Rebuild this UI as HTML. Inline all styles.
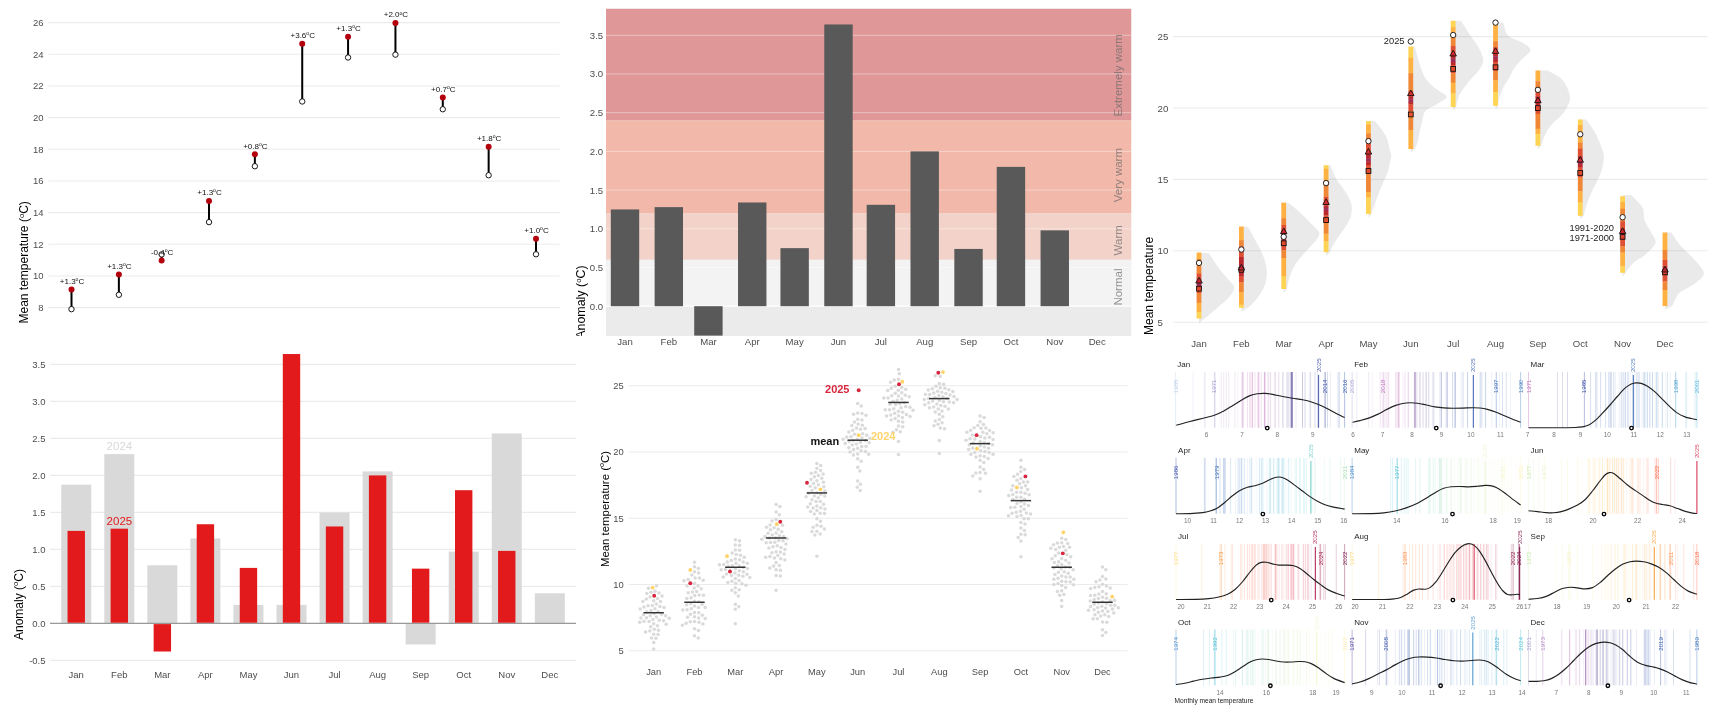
<!DOCTYPE html>
<html><head><meta charset="utf-8"><title>Monthly temperature charts</title>
<style>
html,body{margin:0;padding:0;background:#fff;}
body{width:1734px;height:720px;overflow:hidden;}
svg{display:block;font-family:"Liberation Sans", sans-serif;will-change:transform;}
</style></head><body>
<svg width="1734" height="720" viewBox="0 0 1734 720">
<rect width="1734" height="720" fill="#fff"/>
<g id="p1">
<line x1="48.4" x2="559.7" y1="307.6" y2="307.6" stroke="#EBEBEB" stroke-width="1.1"/>
<text x="43.5" y="311" font-size="9.5" fill="#4D4D4D" text-anchor="end">8</text>
<line x1="48.4" x2="559.7" y1="275.94" y2="275.94" stroke="#EBEBEB" stroke-width="1.1"/>
<text x="43.5" y="279.34" font-size="9.5" fill="#4D4D4D" text-anchor="end">10</text>
<line x1="48.4" x2="559.7" y1="244.28" y2="244.28" stroke="#EBEBEB" stroke-width="1.1"/>
<text x="43.5" y="247.68" font-size="9.5" fill="#4D4D4D" text-anchor="end">12</text>
<line x1="48.4" x2="559.7" y1="212.62" y2="212.62" stroke="#EBEBEB" stroke-width="1.1"/>
<text x="43.5" y="216.02" font-size="9.5" fill="#4D4D4D" text-anchor="end">14</text>
<line x1="48.4" x2="559.7" y1="180.96" y2="180.96" stroke="#EBEBEB" stroke-width="1.1"/>
<text x="43.5" y="184.36" font-size="9.5" fill="#4D4D4D" text-anchor="end">16</text>
<line x1="48.4" x2="559.7" y1="149.3" y2="149.3" stroke="#EBEBEB" stroke-width="1.1"/>
<text x="43.5" y="152.7" font-size="9.5" fill="#4D4D4D" text-anchor="end">18</text>
<line x1="48.4" x2="559.7" y1="117.64" y2="117.64" stroke="#EBEBEB" stroke-width="1.1"/>
<text x="43.5" y="121.04" font-size="9.5" fill="#4D4D4D" text-anchor="end">20</text>
<line x1="48.4" x2="559.7" y1="85.98" y2="85.98" stroke="#EBEBEB" stroke-width="1.1"/>
<text x="43.5" y="89.38" font-size="9.5" fill="#4D4D4D" text-anchor="end">22</text>
<line x1="48.4" x2="559.7" y1="54.32" y2="54.32" stroke="#EBEBEB" stroke-width="1.1"/>
<text x="43.5" y="57.72" font-size="9.5" fill="#4D4D4D" text-anchor="end">24</text>
<line x1="48.4" x2="559.7" y1="22.66" y2="22.66" stroke="#EBEBEB" stroke-width="1.1"/>
<text x="43.5" y="26.06" font-size="9.5" fill="#4D4D4D" text-anchor="end">26</text>
<text x="28.3" y="323.5" font-size="12" fill="#000" text-anchor="start" transform="rotate(-90 28.3 323.5)">Mean temperature (<tspan dy="-4.44" font-size="7.68">o</tspan><tspan dy="4.44">C</tspan>)</text>
<line x1="71.5" x2="71.5" y1="289.4" y2="309.18" stroke="#000" stroke-width="2"/>
<circle cx="71.5" cy="309.18" r="2.7" fill="#fff" stroke="#000" stroke-width="0.9"/>
<circle cx="71.5" cy="289.4" r="3" fill="#B3000C"/>
<text x="72" y="283.9" font-size="8" fill="#111" text-anchor="middle">+1.3<tspan dy="-2.96" font-size="5.12">o</tspan><tspan dy="2.96">C</tspan></text>
<line x1="118.87" x2="118.87" y1="274.52" y2="294.78" stroke="#000" stroke-width="2"/>
<circle cx="118.87" cy="294.78" r="2.7" fill="#fff" stroke="#000" stroke-width="0.9"/>
<circle cx="118.87" cy="274.52" r="3" fill="#B3000C"/>
<text x="119.37" y="269.02" font-size="8" fill="#111" text-anchor="middle">+1.3<tspan dy="-2.96" font-size="5.12">o</tspan><tspan dy="2.96">C</tspan></text>
<line x1="161.65" x2="161.65" y1="260.43" y2="254.41" stroke="#000" stroke-width="2"/>
<circle cx="161.65" cy="254.41" r="2.7" fill="#fff" stroke="#000" stroke-width="0.9"/>
<circle cx="161.65" cy="260.43" r="3" fill="#B3000C"/>
<text x="162.15" y="254.93" font-size="8" fill="#111" text-anchor="middle">-0.4<tspan dy="-2.96" font-size="5.12">o</tspan><tspan dy="2.96">C</tspan></text>
<line x1="209.02" x2="209.02" y1="200.91" y2="222.12" stroke="#000" stroke-width="2"/>
<circle cx="209.02" cy="222.12" r="2.7" fill="#fff" stroke="#000" stroke-width="0.9"/>
<circle cx="209.02" cy="200.91" r="3" fill="#B3000C"/>
<text x="209.52" y="195.41" font-size="8" fill="#111" text-anchor="middle">+1.3<tspan dy="-2.96" font-size="5.12">o</tspan><tspan dy="2.96">C</tspan></text>
<line x1="254.86" x2="254.86" y1="154.37" y2="166.24" stroke="#000" stroke-width="2"/>
<circle cx="254.86" cy="166.24" r="2.7" fill="#fff" stroke="#000" stroke-width="0.9"/>
<circle cx="254.86" cy="154.37" r="3" fill="#B3000C"/>
<text x="255.36" y="148.87" font-size="8" fill="#111" text-anchor="middle">+0.8<tspan dy="-2.96" font-size="5.12">o</tspan><tspan dy="2.96">C</tspan></text>
<line x1="302.23" x2="302.23" y1="43.87" y2="101.49" stroke="#000" stroke-width="2"/>
<circle cx="302.23" cy="101.49" r="2.7" fill="#fff" stroke="#000" stroke-width="0.9"/>
<circle cx="302.23" cy="43.87" r="3" fill="#B3000C"/>
<text x="302.73" y="38.37" font-size="8" fill="#111" text-anchor="middle">+3.6<tspan dy="-2.96" font-size="5.12">o</tspan><tspan dy="2.96">C</tspan></text>
<line x1="348.07" x2="348.07" y1="36.75" y2="57.49" stroke="#000" stroke-width="2"/>
<circle cx="348.07" cy="57.49" r="2.7" fill="#fff" stroke="#000" stroke-width="0.9"/>
<circle cx="348.07" cy="36.75" r="3" fill="#B3000C"/>
<text x="348.57" y="31.25" font-size="8" fill="#111" text-anchor="middle">+1.3<tspan dy="-2.96" font-size="5.12">o</tspan><tspan dy="2.96">C</tspan></text>
<line x1="395.44" x2="395.44" y1="22.98" y2="54.64" stroke="#000" stroke-width="2"/>
<circle cx="395.44" cy="54.64" r="2.7" fill="#fff" stroke="#000" stroke-width="0.9"/>
<circle cx="395.44" cy="22.98" r="3" fill="#B3000C"/>
<text x="395.94" y="17.48" font-size="8" fill="#111" text-anchor="middle">+2.0<tspan dy="-2.96" font-size="5.12">o</tspan><tspan dy="2.96">C</tspan></text>
<line x1="442.8" x2="442.8" y1="97.54" y2="109.25" stroke="#000" stroke-width="2"/>
<circle cx="442.8" cy="109.25" r="2.7" fill="#fff" stroke="#000" stroke-width="0.9"/>
<circle cx="442.8" cy="97.54" r="3" fill="#B3000C"/>
<text x="443.3" y="92.04" font-size="8" fill="#111" text-anchor="middle">+0.7<tspan dy="-2.96" font-size="5.12">o</tspan><tspan dy="2.96">C</tspan></text>
<line x1="488.64" x2="488.64" y1="146.77" y2="175.26" stroke="#000" stroke-width="2"/>
<circle cx="488.64" cy="175.26" r="2.7" fill="#fff" stroke="#000" stroke-width="0.9"/>
<circle cx="488.64" cy="146.77" r="3" fill="#B3000C"/>
<text x="489.14" y="141.27" font-size="8" fill="#111" text-anchor="middle">+1.8<tspan dy="-2.96" font-size="5.12">o</tspan><tspan dy="2.96">C</tspan></text>
<line x1="536.01" x2="536.01" y1="238.74" y2="254.25" stroke="#000" stroke-width="2"/>
<circle cx="536.01" cy="254.25" r="2.7" fill="#fff" stroke="#000" stroke-width="0.9"/>
<circle cx="536.01" cy="238.74" r="3" fill="#B3000C"/>
<text x="536.51" y="233.24" font-size="8" fill="#111" text-anchor="middle">+1.0<tspan dy="-2.96" font-size="5.12">o</tspan><tspan dy="2.96">C</tspan></text>
</g>
<g id="p2">
<rect x="606.0" y="8.8" width="525.2" height="327.2" fill="#EBEBEB"/>
<rect x="606.0" y="8.8" width="525.2" height="111.64" fill="#DF9798"/>
<rect x="606.0" y="120.44" width="525.2" height="92.88" fill="#F2B8AA"/>
<rect x="606.0" y="213.32" width="525.2" height="46.44" fill="#F3D3C9"/>
<rect x="606.0" y="259.76" width="525.2" height="46.44" fill="#F3F3F3"/>
<line x1="606.0" x2="1131.2" y1="306.2" y2="306.2" stroke="#fff" stroke-opacity="0.95" stroke-width="1.2"/>
<text x="603.2" y="309.6" font-size="9.6" fill="#4D4D4D" text-anchor="end">0.0</text>
<line x1="606.0" x2="1131.2" y1="267.5" y2="267.5" stroke="#fff" stroke-opacity="0.5" stroke-width="0.8"/>
<text x="603.2" y="270.9" font-size="9.6" fill="#4D4D4D" text-anchor="end">0.5</text>
<line x1="606.0" x2="1131.2" y1="228.8" y2="228.8" stroke="#fff" stroke-opacity="0.5" stroke-width="0.8"/>
<text x="603.2" y="232.2" font-size="9.6" fill="#4D4D4D" text-anchor="end">1.0</text>
<line x1="606.0" x2="1131.2" y1="190.1" y2="190.1" stroke="#fff" stroke-opacity="0.5" stroke-width="0.8"/>
<text x="603.2" y="193.5" font-size="9.6" fill="#4D4D4D" text-anchor="end">1.5</text>
<line x1="606.0" x2="1131.2" y1="151.4" y2="151.4" stroke="#fff" stroke-opacity="0.5" stroke-width="0.8"/>
<text x="603.2" y="154.8" font-size="9.6" fill="#4D4D4D" text-anchor="end">2.0</text>
<line x1="606.0" x2="1131.2" y1="112.7" y2="112.7" stroke="#fff" stroke-opacity="0.5" stroke-width="0.8"/>
<text x="603.2" y="116.1" font-size="9.6" fill="#4D4D4D" text-anchor="end">2.5</text>
<line x1="606.0" x2="1131.2" y1="74" y2="74" stroke="#fff" stroke-opacity="0.5" stroke-width="0.8"/>
<text x="603.2" y="77.4" font-size="9.6" fill="#4D4D4D" text-anchor="end">3.0</text>
<line x1="606.0" x2="1131.2" y1="35.3" y2="35.3" stroke="#fff" stroke-opacity="0.5" stroke-width="0.8"/>
<text x="603.2" y="38.7" font-size="9.6" fill="#4D4D4D" text-anchor="end">3.5</text>
<rect x="610.8" y="209.45" width="28.4" height="96.75" fill="#595959"/>
<rect x="654.62" y="207.13" width="28.4" height="99.07" fill="#595959"/>
<rect x="694.21" y="306.2" width="28.4" height="29.41" fill="#595959"/>
<rect x="738.03" y="202.48" width="28.4" height="103.72" fill="#595959"/>
<rect x="780.44" y="248.15" width="28.4" height="58.05" fill="#595959"/>
<rect x="824.27" y="24.46" width="28.4" height="281.74" fill="#595959"/>
<rect x="866.68" y="204.81" width="28.4" height="101.39" fill="#595959"/>
<rect x="910.5" y="151.4" width="28.4" height="154.8" fill="#595959"/>
<rect x="954.33" y="248.92" width="28.4" height="57.28" fill="#595959"/>
<rect x="996.74" y="166.88" width="28.4" height="139.32" fill="#595959"/>
<rect x="1040.56" y="230.35" width="28.4" height="75.85" fill="#595959"/>
<text x="625" y="345.3" font-size="9.6" fill="#4D4D4D" text-anchor="middle">Jan</text>
<text x="668.82" y="345.3" font-size="9.6" fill="#4D4D4D" text-anchor="middle">Feb</text>
<text x="708.41" y="345.3" font-size="9.6" fill="#4D4D4D" text-anchor="middle">Mar</text>
<text x="752.23" y="345.3" font-size="9.6" fill="#4D4D4D" text-anchor="middle">Apr</text>
<text x="794.64" y="345.3" font-size="9.6" fill="#4D4D4D" text-anchor="middle">May</text>
<text x="838.47" y="345.3" font-size="9.6" fill="#4D4D4D" text-anchor="middle">Jun</text>
<text x="880.88" y="345.3" font-size="9.6" fill="#4D4D4D" text-anchor="middle">Jul</text>
<text x="924.7" y="345.3" font-size="9.6" fill="#4D4D4D" text-anchor="middle">Aug</text>
<text x="968.53" y="345.3" font-size="9.6" fill="#4D4D4D" text-anchor="middle">Sep</text>
<text x="1010.94" y="345.3" font-size="9.6" fill="#4D4D4D" text-anchor="middle">Oct</text>
<text x="1054.76" y="345.3" font-size="9.6" fill="#4D4D4D" text-anchor="middle">Nov</text>
<text x="1097.18" y="345.3" font-size="9.6" fill="#4D4D4D" text-anchor="middle">Dec</text>
<text x="1122" y="116.5" font-size="11.5" fill="#6A6A6A" text-anchor="start" transform="rotate(-90 1122 116.5)" fill-opacity="0.7">Extremely warm</text>
<text x="1122" y="202.3" font-size="11.5" fill="#6A6A6A" text-anchor="start" transform="rotate(-90 1122 202.3)" fill-opacity="0.7">Very warm</text>
<text x="1122" y="255.4" font-size="11.5" fill="#6A6A6A" text-anchor="start" transform="rotate(-90 1122 255.4)" fill-opacity="0.7">Warm</text>
<text x="1122" y="305.6" font-size="11.5" fill="#6A6A6A" text-anchor="start" transform="rotate(-90 1122 305.6)" fill-opacity="0.7">Normal</text>
<clipPath id="c2"><rect x="570" y="0" width="36" height="335.8"/></clipPath>
<g clip-path="url(#c2)"><text x="585.2" y="338.8" font-size="12.45" fill="#000" text-anchor="start" transform="rotate(-90 585.2 338.8)">Anomaly (<tspan dy="-4.44" font-size="7.68">o</tspan><tspan dy="4.44">C</tspan>)</text></g>
</g>
<g id="p3">
<line x1="1173" x2="1707.5" y1="322.2" y2="322.2" stroke="#EBEBEB" stroke-width="1.1"/>
<text x="1157.6" y="325.7" font-size="9.7" fill="#4D4D4D" text-anchor="start">5</text>
<line x1="1173" x2="1707.5" y1="250.8" y2="250.8" stroke="#EBEBEB" stroke-width="1.1"/>
<text x="1157.6" y="254.3" font-size="9.7" fill="#4D4D4D" text-anchor="start">10</text>
<line x1="1173" x2="1707.5" y1="179.4" y2="179.4" stroke="#EBEBEB" stroke-width="1.1"/>
<text x="1157.6" y="182.9" font-size="9.7" fill="#4D4D4D" text-anchor="start">15</text>
<line x1="1173" x2="1707.5" y1="108" y2="108" stroke="#EBEBEB" stroke-width="1.1"/>
<text x="1157.6" y="111.5" font-size="9.7" fill="#4D4D4D" text-anchor="start">20</text>
<line x1="1173" x2="1707.5" y1="36.6" y2="36.6" stroke="#EBEBEB" stroke-width="1.1"/>
<text x="1157.6" y="40.1" font-size="9.7" fill="#4D4D4D" text-anchor="start">25</text>
<text x="1199" y="347.2" font-size="9.6" fill="#4D4D4D" text-anchor="middle">Jan</text>
<text x="1241.36" y="347.2" font-size="9.6" fill="#4D4D4D" text-anchor="middle">Feb</text>
<text x="1283.72" y="347.2" font-size="9.6" fill="#4D4D4D" text-anchor="middle">Mar</text>
<text x="1326.08" y="347.2" font-size="9.6" fill="#4D4D4D" text-anchor="middle">Apr</text>
<text x="1368.44" y="347.2" font-size="9.6" fill="#4D4D4D" text-anchor="middle">May</text>
<text x="1410.8" y="347.2" font-size="9.6" fill="#4D4D4D" text-anchor="middle">Jun</text>
<text x="1453.16" y="347.2" font-size="9.6" fill="#4D4D4D" text-anchor="middle">Jul</text>
<text x="1495.52" y="347.2" font-size="9.6" fill="#4D4D4D" text-anchor="middle">Aug</text>
<text x="1537.88" y="347.2" font-size="9.6" fill="#4D4D4D" text-anchor="middle">Sep</text>
<text x="1580.24" y="347.2" font-size="9.6" fill="#4D4D4D" text-anchor="middle">Oct</text>
<text x="1622.6" y="347.2" font-size="9.6" fill="#4D4D4D" text-anchor="middle">Nov</text>
<text x="1664.96" y="347.2" font-size="9.6" fill="#4D4D4D" text-anchor="middle">Dec</text>
<text x="1153" y="335" font-size="12" fill="#000" text-anchor="start" transform="rotate(-90 1153 335)">Mean temperature</text>
<path d="M1199 253L1208.75 253C1209.79 254.58 1212.92 259.46 1215 262.5C1217.08 265.54 1218.96 268.33 1221.25 271.25C1223.54 274.17 1226.67 277.5 1228.75 280C1230.83 282.5 1233.12 284.17 1233.75 286.25C1234.38 288.33 1233.75 290.21 1232.5 292.5C1231.25 294.79 1228.96 297.29 1226.25 300C1223.54 302.71 1219.38 306.04 1216.25 308.75C1213.12 311.46 1209.79 314.38 1207.5 316.25C1205.21 318.12 1203.33 319.38 1202.5 320L1199.6 323.5L1199 323.5Z" fill="#808080" fill-opacity="0.165"/>
<path d="M1241.36 226.75L1248 226.75C1248.96 228.54 1251.75 233.83 1253.75 237.5C1255.75 241.17 1258.12 244.79 1260 248.75C1261.88 252.71 1263.88 257.29 1265 261.25C1266.12 265.21 1266.75 268.54 1266.75 272.5C1266.75 276.46 1266.33 281.04 1265 285C1263.67 288.96 1261.04 292.92 1258.75 296.25C1256.46 299.58 1253.12 303.04 1251.25 305C1249.38 306.96 1248.12 307.5 1247.5 308L1241.96 311.5L1241.36 311.5Z" fill="#808080" fill-opacity="0.165"/>
<path d="M1283.72 203L1288.75 203C1290.62 204.58 1296.46 209.25 1300 212.5C1303.54 215.75 1307.08 219.58 1310 222.5C1312.92 225.42 1315.96 228.04 1317.5 230C1319.04 231.96 1319.46 232.58 1319.25 234.25C1319.04 235.92 1318.62 236.96 1316.25 240C1313.88 243.04 1308.54 248.33 1305 252.5C1301.46 256.67 1297.58 260.83 1295 265C1292.42 269.17 1290.83 273.54 1289.5 277.5C1288.17 281.46 1287.42 286.88 1287 288.75L1284.32 292.25L1283.72 292.25Z" fill="#808080" fill-opacity="0.165"/>
<path d="M1326.08 165.5L1330.5 165.5C1331.46 167.71 1334.25 175.08 1336.25 178.75C1338.25 182.42 1340.42 184.38 1342.5 187.5C1344.58 190.62 1347.21 194.38 1348.75 197.5C1350.29 200.62 1351.46 202.92 1351.75 206.25C1352.04 209.58 1351.62 213.96 1350.5 217.5C1349.38 221.04 1347.08 224.17 1345 227.5C1342.92 230.83 1340.08 234.38 1338 237.5C1335.92 240.62 1333.83 243.83 1332.5 246.25C1331.17 248.67 1330.42 251.04 1330 252L1326.68 255.5L1326.08 255.5Z" fill="#808080" fill-opacity="0.165"/>
<path d="M1368.44 121.12L1374.98 121.12C1376.79 123.62 1383.26 130.9 1385.81 136.1C1388.37 141.31 1389.42 149.04 1390.32 152.35C1391.23 155.66 1391.68 152.65 1391.23 155.96C1390.78 159.27 1389.27 167.09 1387.62 172.2C1385.96 177.32 1383.26 181.83 1381.3 186.64C1379.34 191.46 1377.54 196.57 1375.88 201.08C1374.23 205.6 1372.12 211.61 1371.37 213.72L1369.04 217.22L1368.44 217.22Z" fill="#808080" fill-opacity="0.165"/>
<path d="M1410.8 46.52L1414.79 46.52C1415.97 50.57 1419.52 64.82 1421.88 70.84C1424.24 76.86 1425.81 79.1 1428.96 82.64C1432.11 86.19 1437.82 89.65 1440.77 92.09C1443.72 94.53 1447.26 95.32 1446.67 97.28C1446.08 99.25 1440.77 101.61 1437.23 103.9C1433.68 106.18 1427.98 107.83 1425.42 110.98C1422.86 114.13 1422.86 119.24 1421.88 122.79C1420.89 126.33 1420.18 129.08 1419.52 132.23C1418.85 135.38 1418.65 138.92 1417.86 141.68C1417.08 144.43 1415.3 147.58 1414.79 148.76L1411.4 152.26L1410.8 152.26Z" fill="#808080" fill-opacity="0.165"/>
<path d="M1453.16 20.78L1460.84 20.78C1462.41 23.22 1467.33 31.01 1470.28 35.42C1473.23 39.83 1476.38 43.09 1478.55 47.23C1480.71 51.36 1483.27 56.28 1483.27 60.21C1483.27 64.15 1481.11 67.1 1478.55 70.84C1475.99 74.58 1471.07 78.71 1467.92 82.64C1464.77 86.58 1461.63 90.44 1459.66 94.45C1457.69 98.47 1456.71 104.68 1456.12 106.73L1453.76 110.23L1453.16 110.23Z" fill="#808080" fill-opacity="0.165"/>
<path d="M1495.52 22.43L1503.34 22.43C1504.13 24.6 1504.92 32.07 1508.06 35.42C1511.21 38.76 1518.49 40.06 1522.23 42.5C1525.97 44.94 1530.5 47.3 1530.5 50.06C1530.5 52.81 1524.99 55.96 1522.23 59.03C1519.48 62.1 1516.13 65.33 1513.97 68.48C1511.8 71.63 1511.02 74.77 1509.24 77.92C1507.47 81.07 1505.03 83.83 1503.34 87.37C1501.65 90.91 1499.96 96.14 1499.09 99.17C1498.23 102.2 1498.3 104.49 1498.15 105.55L1496.12 109.05L1495.52 109.05Z" fill="#808080" fill-opacity="0.165"/>
<path d="M1537.88 70.5L1547.5 70.5C1550 72.08 1558.75 75.5 1562.5 80C1566.25 84.5 1569.79 92.08 1570 97.5C1570.21 102.92 1566.88 107.92 1563.75 112.5C1560.62 117.08 1554.38 121.25 1551.25 125C1548.12 128.75 1546.67 131.58 1545 135C1543.33 138.42 1541.88 143.75 1541.25 145.5L1538.48 149L1537.88 149Z" fill="#808080" fill-opacity="0.165"/>
<path d="M1580.24 119.5L1586.25 119.5C1587.71 121.67 1592.29 127.42 1595 132.5C1597.71 137.58 1601.04 145.42 1602.5 150C1603.96 154.58 1604.17 155.83 1603.75 160C1603.33 164.17 1601.88 170 1600 175C1598.12 180 1594.58 185.42 1592.5 190C1590.42 194.58 1588.96 198.25 1587.5 202.5C1586.04 206.75 1584.38 213.33 1583.75 215.5L1580.84 219L1580.24 219Z" fill="#808080" fill-opacity="0.165"/>
<path d="M1622.6 195L1631.25 195C1633.12 197.08 1640.29 203.33 1642.5 207.5C1644.71 211.67 1643.04 215.83 1644.5 220C1645.96 224.17 1649.42 228.67 1651.25 232.5C1653.08 236.33 1656.54 239.25 1655.5 243C1654.46 246.75 1648.62 251.75 1645 255C1641.38 258.25 1636.96 259.58 1633.75 262.5C1630.54 265.42 1627.08 270.83 1625.75 272.5L1623.2 276L1622.6 276Z" fill="#808080" fill-opacity="0.165"/>
<path d="M1664.96 232.5L1671.25 232.5C1672.71 234.58 1676.46 240.83 1680 245C1683.54 249.17 1688.54 252.92 1692.5 257.5C1696.46 262.08 1703.12 268.33 1703.75 272.5C1704.38 276.67 1700.21 279.17 1696.25 282.5C1692.29 285.83 1683.54 289.58 1680 292.5C1676.46 295.42 1676.25 297.79 1675 300C1673.75 302.21 1672.92 304.79 1672.5 305.75L1665.56 309.25L1664.96 309.25Z" fill="#808080" fill-opacity="0.165"/>
<rect x="1196.6" y="252.57" width="4.8" height="6.71" fill="#ffb242"/>
<rect x="1196.6" y="258.99" width="4.8" height="14.87" fill="#ef8737"/>
<rect x="1196.6" y="273.56" width="4.8" height="5.16" fill="#de4f33"/>
<rect x="1196.6" y="278.42" width="4.8" height="4.77" fill="#bb292c"/>
<rect x="1196.6" y="282.89" width="4.8" height="3.6" fill="#9f2d55"/>
<rect x="1196.6" y="286.19" width="4.8" height="1.85" fill="#bb292c"/>
<rect x="1196.6" y="287.75" width="4.8" height="5.55" fill="#de4f33"/>
<rect x="1196.6" y="292.99" width="4.8" height="10.02" fill="#ef8737"/>
<rect x="1196.6" y="302.71" width="4.8" height="9.63" fill="#ffb242"/>
<rect x="1196.6" y="312.04" width="4.8" height="6.52" fill="#ffd353"/>
<rect x="1238.96" y="226.53" width="4.8" height="13.9" fill="#ffb242"/>
<rect x="1238.96" y="240.14" width="4.8" height="6.52" fill="#ef8737"/>
<rect x="1238.96" y="246.35" width="4.8" height="10.99" fill="#de4f33"/>
<rect x="1238.96" y="257.04" width="4.8" height="8.07" fill="#bb292c"/>
<rect x="1238.96" y="264.82" width="4.8" height="7.1" fill="#9f2d55"/>
<rect x="1238.96" y="271.62" width="4.8" height="5.16" fill="#bb292c"/>
<rect x="1238.96" y="276.47" width="4.8" height="6.13" fill="#de4f33"/>
<rect x="1238.96" y="282.3" width="4.8" height="10.02" fill="#ef8737"/>
<rect x="1238.96" y="292.02" width="4.8" height="12.93" fill="#ffb242"/>
<rect x="1238.96" y="304.65" width="4.8" height="3.21" fill="#ffd353"/>
<rect x="1281.32" y="202.63" width="4.8" height="15.85" fill="#ffb242"/>
<rect x="1281.32" y="218.18" width="4.8" height="7.1" fill="#ef8737"/>
<rect x="1281.32" y="224.98" width="4.8" height="5.16" fill="#de4f33"/>
<rect x="1281.32" y="229.84" width="4.8" height="4.19" fill="#bb292c"/>
<rect x="1281.32" y="233.72" width="4.8" height="4.19" fill="#9f2d55"/>
<rect x="1281.32" y="237.61" width="4.8" height="3.6" fill="#bb292c"/>
<rect x="1281.32" y="240.91" width="4.8" height="9.63" fill="#de4f33"/>
<rect x="1281.32" y="250.24" width="4.8" height="8.07" fill="#ef8737"/>
<rect x="1281.32" y="258.01" width="4.8" height="18.76" fill="#ffb242"/>
<rect x="1281.32" y="276.47" width="4.8" height="12.54" fill="#ffd353"/>
<rect x="1323.68" y="165.23" width="4.8" height="3.81" fill="#ffd353"/>
<rect x="1323.68" y="168.74" width="4.8" height="11.75" fill="#ffb242"/>
<rect x="1323.68" y="180.19" width="4.8" height="17.09" fill="#ef8737"/>
<rect x="1323.68" y="196.98" width="4.8" height="8.7" fill="#de4f33"/>
<rect x="1323.68" y="205.38" width="4.8" height="2.59" fill="#bb292c"/>
<rect x="1323.68" y="207.67" width="4.8" height="3.35" fill="#9f2d55"/>
<rect x="1323.68" y="210.73" width="4.8" height="4.88" fill="#bb292c"/>
<rect x="1323.68" y="215.31" width="4.8" height="7.93" fill="#de4f33"/>
<rect x="1323.68" y="222.94" width="4.8" height="10.99" fill="#ef8737"/>
<rect x="1323.68" y="233.63" width="4.8" height="7.93" fill="#ffb242"/>
<rect x="1323.68" y="241.26" width="4.8" height="10.99" fill="#ffd353"/>
<rect x="1366.04" y="121.12" width="4.8" height="3.55" fill="#ffd353"/>
<rect x="1366.04" y="124.37" width="4.8" height="9.33" fill="#ffb242"/>
<rect x="1366.04" y="133.39" width="4.8" height="5.72" fill="#ef8737"/>
<rect x="1366.04" y="138.81" width="4.8" height="15.64" fill="#de4f33"/>
<rect x="1366.04" y="154.15" width="4.8" height="4.27" fill="#bb292c"/>
<rect x="1366.04" y="158.12" width="4.8" height="3.55" fill="#9f2d55"/>
<rect x="1366.04" y="161.37" width="4.8" height="3.91" fill="#bb292c"/>
<rect x="1366.04" y="164.98" width="4.8" height="9.33" fill="#de4f33"/>
<rect x="1366.04" y="174.01" width="4.8" height="18.35" fill="#ef8737"/>
<rect x="1366.04" y="192.06" width="4.8" height="5.72" fill="#ffb242"/>
<rect x="1366.04" y="197.47" width="4.8" height="16.55" fill="#ffd353"/>
<rect x="1408.4" y="46.52" width="4.8" height="11.63" fill="#ffd353"/>
<rect x="1408.4" y="57.85" width="4.8" height="15.65" fill="#ffb242"/>
<rect x="1408.4" y="73.2" width="4.8" height="18.01" fill="#ef8737"/>
<rect x="1408.4" y="90.91" width="4.8" height="5.73" fill="#de4f33"/>
<rect x="1408.4" y="96.34" width="4.8" height="3.13" fill="#bb292c"/>
<rect x="1408.4" y="99.17" width="4.8" height="3.13" fill="#9f2d55"/>
<rect x="1408.4" y="102.01" width="4.8" height="2.66" fill="#bb292c"/>
<rect x="1408.4" y="104.37" width="4.8" height="6.91" fill="#de4f33"/>
<rect x="1408.4" y="110.98" width="4.8" height="19.19" fill="#ef8737"/>
<rect x="1408.4" y="129.87" width="4.8" height="19.19" fill="#ffb242"/>
<rect x="1450.76" y="20.78" width="4.8" height="6.68" fill="#ffd353"/>
<rect x="1450.76" y="27.15" width="4.8" height="10.93" fill="#ffb242"/>
<rect x="1450.76" y="37.78" width="4.8" height="8.56" fill="#ef8737"/>
<rect x="1450.76" y="46.04" width="4.8" height="8.09" fill="#de4f33"/>
<rect x="1450.76" y="53.84" width="4.8" height="5.02" fill="#bb292c"/>
<rect x="1450.76" y="58.56" width="4.8" height="3.61" fill="#9f2d55"/>
<rect x="1450.76" y="61.87" width="4.8" height="3.37" fill="#bb292c"/>
<rect x="1450.76" y="64.94" width="4.8" height="8.56" fill="#de4f33"/>
<rect x="1450.76" y="73.2" width="4.8" height="9.75" fill="#ef8737"/>
<rect x="1450.76" y="82.64" width="4.8" height="10.93" fill="#ffb242"/>
<rect x="1450.76" y="93.27" width="4.8" height="13.76" fill="#ffd353"/>
<rect x="1493.12" y="23.61" width="4.8" height="18.01" fill="#ffb242"/>
<rect x="1493.12" y="41.32" width="4.8" height="6.2" fill="#ef8737"/>
<rect x="1493.12" y="47.23" width="4.8" height="6.2" fill="#de4f33"/>
<rect x="1493.12" y="53.13" width="4.8" height="3.37" fill="#bb292c"/>
<rect x="1493.12" y="56.2" width="4.8" height="3.13" fill="#9f2d55"/>
<rect x="1493.12" y="59.03" width="4.8" height="3.13" fill="#bb292c"/>
<rect x="1493.12" y="61.87" width="4.8" height="9.27" fill="#de4f33"/>
<rect x="1493.12" y="70.84" width="4.8" height="9.75" fill="#ef8737"/>
<rect x="1493.12" y="80.28" width="4.8" height="12.11" fill="#ffb242"/>
<rect x="1493.12" y="92.09" width="4.8" height="13.76" fill="#ffd353"/>
<rect x="1535.48" y="70.5" width="4.8" height="11.05" fill="#ffb242"/>
<rect x="1535.48" y="81.25" width="4.8" height="6.55" fill="#ef8737"/>
<rect x="1535.48" y="87.5" width="4.8" height="9.05" fill="#de4f33"/>
<rect x="1535.48" y="96.25" width="4.8" height="4.05" fill="#bb292c"/>
<rect x="1535.48" y="100" width="4.8" height="3.3" fill="#9f2d55"/>
<rect x="1535.48" y="103" width="4.8" height="3.55" fill="#bb292c"/>
<rect x="1535.48" y="106.25" width="4.8" height="7.8" fill="#de4f33"/>
<rect x="1535.48" y="113.75" width="4.8" height="15.3" fill="#ef8737"/>
<rect x="1535.48" y="128.75" width="4.8" height="5.3" fill="#ffb242"/>
<rect x="1535.48" y="133.75" width="4.8" height="12.05" fill="#ffd353"/>
<rect x="1577.84" y="119.5" width="4.8" height="5.8" fill="#ffd353"/>
<rect x="1577.84" y="125" width="4.8" height="17.8" fill="#ffb242"/>
<rect x="1577.84" y="142.5" width="4.8" height="6.55" fill="#ef8737"/>
<rect x="1577.84" y="148.75" width="4.8" height="7.8" fill="#de4f33"/>
<rect x="1577.84" y="156.25" width="4.8" height="4.55" fill="#bb292c"/>
<rect x="1577.84" y="160.5" width="4.8" height="3.8" fill="#9f2d55"/>
<rect x="1577.84" y="164" width="4.8" height="3.8" fill="#bb292c"/>
<rect x="1577.84" y="167.5" width="4.8" height="10.3" fill="#de4f33"/>
<rect x="1577.84" y="177.5" width="4.8" height="14.05" fill="#ef8737"/>
<rect x="1577.84" y="191.25" width="4.8" height="11.55" fill="#ffb242"/>
<rect x="1577.84" y="202.5" width="4.8" height="13.3" fill="#ffd353"/>
<rect x="1620.2" y="196.25" width="4.8" height="6.05" fill="#ffd353"/>
<rect x="1620.2" y="202" width="4.8" height="7.05" fill="#ffb242"/>
<rect x="1620.2" y="208.75" width="4.8" height="12.8" fill="#ef8737"/>
<rect x="1620.2" y="221.25" width="4.8" height="7.8" fill="#de4f33"/>
<rect x="1620.2" y="228.75" width="4.8" height="4.55" fill="#bb292c"/>
<rect x="1620.2" y="233" width="4.8" height="3.8" fill="#9f2d55"/>
<rect x="1620.2" y="236.5" width="4.8" height="3.8" fill="#bb292c"/>
<rect x="1620.2" y="240" width="4.8" height="6.55" fill="#de4f33"/>
<rect x="1620.2" y="246.25" width="4.8" height="6.55" fill="#ef8737"/>
<rect x="1620.2" y="252.5" width="4.8" height="14.05" fill="#ffb242"/>
<rect x="1620.2" y="266.25" width="4.8" height="6.55" fill="#ffd353"/>
<rect x="1662.56" y="232.5" width="4.8" height="17.8" fill="#ffb242"/>
<rect x="1662.56" y="250" width="4.8" height="10.3" fill="#ef8737"/>
<rect x="1662.56" y="260" width="4.8" height="6.55" fill="#de4f33"/>
<rect x="1662.56" y="266.25" width="4.8" height="3.3" fill="#bb292c"/>
<rect x="1662.56" y="269.25" width="4.8" height="3.55" fill="#9f2d55"/>
<rect x="1662.56" y="272.5" width="4.8" height="2.8" fill="#bb292c"/>
<rect x="1662.56" y="275" width="4.8" height="6.55" fill="#de4f33"/>
<rect x="1662.56" y="281.25" width="4.8" height="9.05" fill="#ef8737"/>
<rect x="1662.56" y="290" width="4.8" height="16.05" fill="#ffb242"/>
<rect x="1196.6" y="286.24" width="4.8" height="4.8" fill="#E8452B" fill-opacity="0.72" stroke="#111" stroke-width="0.9"/>
<path d="M1199 277.39L1202.25 282.99L1195.75 282.99Z" fill="#D8232E" fill-opacity="0.72" stroke="#111" stroke-width="0.9" stroke-linejoin="miter"/>
<circle cx="1199" cy="262.94" r="2.7" fill="#fff" stroke="#111" stroke-width="0.9"/>
<rect x="1238.96" y="267.39" width="4.8" height="4.8" fill="#E8452B" fill-opacity="0.72" stroke="#111" stroke-width="0.9"/>
<path d="M1241.36 264.39L1244.61 269.99L1238.11 269.99Z" fill="#D8232E" fill-opacity="0.72" stroke="#111" stroke-width="0.9" stroke-linejoin="miter"/>
<circle cx="1241.36" cy="249.51" r="2.7" fill="#fff" stroke="#111" stroke-width="0.9"/>
<rect x="1281.32" y="240.83" width="4.8" height="4.8" fill="#E8452B" fill-opacity="0.72" stroke="#111" stroke-width="0.9"/>
<path d="M1283.72 227.98L1286.97 233.58L1280.47 233.58Z" fill="#D8232E" fill-opacity="0.72" stroke="#111" stroke-width="0.9" stroke-linejoin="miter"/>
<circle cx="1283.72" cy="236.81" r="2.7" fill="#fff" stroke="#111" stroke-width="0.9"/>
<rect x="1323.68" y="217.7" width="4.8" height="4.8" fill="#E8452B" fill-opacity="0.72" stroke="#111" stroke-width="0.9"/>
<path d="M1326.08 198.85L1329.33 204.45L1322.83 204.45Z" fill="#D8232E" fill-opacity="0.72" stroke="#111" stroke-width="0.9" stroke-linejoin="miter"/>
<circle cx="1326.08" cy="183.11" r="2.7" fill="#fff" stroke="#111" stroke-width="0.9"/>
<rect x="1366.04" y="168.57" width="4.8" height="4.8" fill="#E8452B" fill-opacity="0.72" stroke="#111" stroke-width="0.9"/>
<path d="M1368.44 148.44L1371.69 154.04L1365.19 154.04Z" fill="#D8232E" fill-opacity="0.72" stroke="#111" stroke-width="0.9" stroke-linejoin="miter"/>
<circle cx="1368.44" cy="141.13" r="2.7" fill="#fff" stroke="#111" stroke-width="0.9"/>
<rect x="1408.4" y="112.03" width="4.8" height="4.8" fill="#E8452B" fill-opacity="0.72" stroke="#111" stroke-width="0.9"/>
<path d="M1410.8 90.03L1414.05 95.63L1407.55 95.63Z" fill="#D8232E" fill-opacity="0.72" stroke="#111" stroke-width="0.9" stroke-linejoin="miter"/>
<circle cx="1410.8" cy="41.46" r="2.7" fill="#fff" stroke="#111" stroke-width="0.9"/>
<rect x="1450.76" y="66.47" width="4.8" height="4.8" fill="#E8452B" fill-opacity="0.72" stroke="#111" stroke-width="0.9"/>
<path d="M1453.16 50.34L1456.41 55.94L1449.91 55.94Z" fill="#D8232E" fill-opacity="0.72" stroke="#111" stroke-width="0.9" stroke-linejoin="miter"/>
<circle cx="1453.16" cy="35.03" r="2.7" fill="#fff" stroke="#111" stroke-width="0.9"/>
<rect x="1493.12" y="64.9" width="4.8" height="4.8" fill="#E8452B" fill-opacity="0.72" stroke="#111" stroke-width="0.9"/>
<path d="M1495.52 47.77L1498.77 53.37L1492.27 53.37Z" fill="#D8232E" fill-opacity="0.72" stroke="#111" stroke-width="0.9" stroke-linejoin="miter"/>
<circle cx="1495.52" cy="22.61" r="2.7" fill="#fff" stroke="#111" stroke-width="0.9"/>
<rect x="1535.48" y="105.74" width="4.8" height="4.8" fill="#E8452B" fill-opacity="0.72" stroke="#111" stroke-width="0.9"/>
<path d="M1537.88 97.03L1541.13 102.63L1534.63 102.63Z" fill="#D8232E" fill-opacity="0.72" stroke="#111" stroke-width="0.9" stroke-linejoin="miter"/>
<circle cx="1537.88" cy="89.86" r="2.7" fill="#fff" stroke="#111" stroke-width="0.9"/>
<rect x="1577.84" y="170.57" width="4.8" height="4.8" fill="#E8452B" fill-opacity="0.72" stroke="#111" stroke-width="0.9"/>
<path d="M1580.24 156.58L1583.49 162.18L1576.99 162.18Z" fill="#D8232E" fill-opacity="0.72" stroke="#111" stroke-width="0.9" stroke-linejoin="miter"/>
<circle cx="1580.24" cy="134.28" r="2.7" fill="#fff" stroke="#111" stroke-width="0.9"/>
<rect x="1620.2" y="234.41" width="4.8" height="4.8" fill="#E8452B" fill-opacity="0.72" stroke="#111" stroke-width="0.9"/>
<path d="M1622.6 227.84L1625.85 233.44L1619.35 233.44Z" fill="#D8232E" fill-opacity="0.72" stroke="#111" stroke-width="0.9" stroke-linejoin="miter"/>
<circle cx="1622.6" cy="217.24" r="2.7" fill="#fff" stroke="#111" stroke-width="0.9"/>
<rect x="1662.56" y="269.96" width="4.8" height="4.8" fill="#E8452B" fill-opacity="0.72" stroke="#111" stroke-width="0.9"/>
<path d="M1664.96 266.39L1668.21 271.99L1661.71 271.99Z" fill="#D8232E" fill-opacity="0.72" stroke="#111" stroke-width="0.9" stroke-linejoin="miter"/>
<text x="1404.5" y="44.3" font-size="9.3" fill="#222" text-anchor="end">2025</text>
<text x="1614" y="230.5" font-size="9.3" fill="#222" text-anchor="end">1991-2020</text>
<text x="1614" y="241" font-size="9.3" fill="#222" text-anchor="end">1971-2000</text>
</g>
<g id="p4">
<line x1="50" x2="576" y1="660.4" y2="660.4" stroke="#EBEBEB" stroke-width="1.1"/>
<line x1="50" x2="576" y1="586.4" y2="586.4" stroke="#EBEBEB" stroke-width="1.1"/>
<line x1="50" x2="576" y1="549.4" y2="549.4" stroke="#EBEBEB" stroke-width="1.1"/>
<line x1="50" x2="576" y1="512.4" y2="512.4" stroke="#EBEBEB" stroke-width="1.1"/>
<line x1="50" x2="576" y1="475.4" y2="475.4" stroke="#EBEBEB" stroke-width="1.1"/>
<line x1="50" x2="576" y1="438.4" y2="438.4" stroke="#EBEBEB" stroke-width="1.1"/>
<line x1="50" x2="576" y1="401.4" y2="401.4" stroke="#EBEBEB" stroke-width="1.1"/>
<line x1="50" x2="576" y1="364.4" y2="364.4" stroke="#EBEBEB" stroke-width="1.1"/>
<text x="45.5" y="663.8" font-size="9.5" fill="#4D4D4D" text-anchor="end">-0.5</text>
<text x="45.5" y="626.8" font-size="9.5" fill="#4D4D4D" text-anchor="end">0.0</text>
<text x="45.5" y="589.8" font-size="9.5" fill="#4D4D4D" text-anchor="end">0.5</text>
<text x="45.5" y="552.8" font-size="9.5" fill="#4D4D4D" text-anchor="end">1.0</text>
<text x="45.5" y="515.8" font-size="9.5" fill="#4D4D4D" text-anchor="end">1.5</text>
<text x="45.5" y="478.8" font-size="9.5" fill="#4D4D4D" text-anchor="end">2.0</text>
<text x="45.5" y="441.8" font-size="9.5" fill="#4D4D4D" text-anchor="end">2.5</text>
<text x="45.5" y="404.8" font-size="9.5" fill="#4D4D4D" text-anchor="end">3.0</text>
<text x="45.5" y="367.8" font-size="9.5" fill="#4D4D4D" text-anchor="end">3.5</text>
<rect x="61.25" y="484.72" width="30" height="138.68" fill="#D9D9D9"/>
<rect x="104.3" y="454.09" width="30" height="169.31" fill="#D9D9D9"/>
<rect x="147.35" y="565.31" width="30" height="58.09" fill="#D9D9D9"/>
<rect x="190.4" y="538.45" width="30" height="84.95" fill="#D9D9D9"/>
<rect x="233.45" y="604.9" width="30" height="18.5" fill="#D9D9D9"/>
<rect x="276.5" y="604.9" width="30" height="18.5" fill="#D9D9D9"/>
<rect x="319.55" y="512.62" width="30" height="110.78" fill="#D9D9D9"/>
<rect x="362.6" y="471.4" width="30" height="152" fill="#D9D9D9"/>
<rect x="405.65" y="623.4" width="30" height="21.09" fill="#D9D9D9"/>
<rect x="448.7" y="551.62" width="30" height="71.78" fill="#D9D9D9"/>
<rect x="491.75" y="433.44" width="30" height="189.96" fill="#D9D9D9"/>
<rect x="534.8" y="593.28" width="30" height="30.12" fill="#D9D9D9"/>
<line x1="50" x2="576" y1="623.4" y2="623.4" stroke="#999" stroke-width="1.4"/>
<rect x="67.55" y="530.9" width="17.4" height="91.8" fill="#E31A1C"/>
<rect x="110.6" y="528.68" width="17.4" height="94.02" fill="#E31A1C"/>
<rect x="153.65" y="624.1" width="17.4" height="27.42" fill="#E31A1C"/>
<rect x="196.7" y="524.24" width="17.4" height="98.46" fill="#E31A1C"/>
<rect x="239.75" y="567.9" width="17.4" height="54.8" fill="#E31A1C"/>
<rect x="282.8" y="354.04" width="17.4" height="268.66" fill="#E31A1C"/>
<rect x="325.85" y="526.46" width="17.4" height="96.24" fill="#E31A1C"/>
<rect x="368.9" y="475.4" width="17.4" height="147.3" fill="#E31A1C"/>
<rect x="411.95" y="568.64" width="17.4" height="54.06" fill="#E31A1C"/>
<rect x="455" y="490.2" width="17.4" height="132.5" fill="#E31A1C"/>
<rect x="498.05" y="550.88" width="17.4" height="71.82" fill="#E31A1C"/>
<text x="76.25" y="678.4" font-size="9.5" fill="#4D4D4D" text-anchor="middle">Jan</text>
<text x="119.3" y="678.4" font-size="9.5" fill="#4D4D4D" text-anchor="middle">Feb</text>
<text x="162.35" y="678.4" font-size="9.5" fill="#4D4D4D" text-anchor="middle">Mar</text>
<text x="205.4" y="678.4" font-size="9.5" fill="#4D4D4D" text-anchor="middle">Apr</text>
<text x="248.45" y="678.4" font-size="9.5" fill="#4D4D4D" text-anchor="middle">May</text>
<text x="291.5" y="678.4" font-size="9.5" fill="#4D4D4D" text-anchor="middle">Jun</text>
<text x="334.55" y="678.4" font-size="9.5" fill="#4D4D4D" text-anchor="middle">Jul</text>
<text x="377.6" y="678.4" font-size="9.5" fill="#4D4D4D" text-anchor="middle">Aug</text>
<text x="420.65" y="678.4" font-size="9.5" fill="#4D4D4D" text-anchor="middle">Sep</text>
<text x="463.7" y="678.4" font-size="9.5" fill="#4D4D4D" text-anchor="middle">Oct</text>
<text x="506.75" y="678.4" font-size="9.5" fill="#4D4D4D" text-anchor="middle">Nov</text>
<text x="549.8" y="678.4" font-size="9.5" fill="#4D4D4D" text-anchor="middle">Dec</text>
<text x="119.4" y="450" font-size="11.5" fill="#D9D9D9" text-anchor="middle">2024</text>
<text x="119.4" y="524.5" font-size="11.5" fill="#E31A1C" text-anchor="middle">2025</text>
<text x="22.5" y="604.5" font-size="12" fill="#000" text-anchor="middle" transform="rotate(-90 22.5 604.5)">Anomaly (<tspan dy="-4.44" font-size="7.68">o</tspan><tspan dy="4.44">C</tspan>)</text>
</g>
<g id="p5">
<line x1="628.7" x2="1127.5" y1="650.75" y2="650.75" stroke="#EBEBEB" stroke-width="1.1"/>
<text x="623.8" y="654.05" font-size="9.4" fill="#4D4D4D" text-anchor="end">5</text>
<line x1="628.7" x2="1127.5" y1="584.5" y2="584.5" stroke="#EBEBEB" stroke-width="1.1"/>
<text x="623.8" y="587.8" font-size="9.4" fill="#4D4D4D" text-anchor="end">10</text>
<line x1="628.7" x2="1127.5" y1="518.25" y2="518.25" stroke="#EBEBEB" stroke-width="1.1"/>
<text x="623.8" y="521.55" font-size="9.4" fill="#4D4D4D" text-anchor="end">15</text>
<line x1="628.7" x2="1127.5" y1="452" y2="452" stroke="#EBEBEB" stroke-width="1.1"/>
<text x="623.8" y="455.3" font-size="9.4" fill="#4D4D4D" text-anchor="end">20</text>
<line x1="628.7" x2="1127.5" y1="385.75" y2="385.75" stroke="#EBEBEB" stroke-width="1.1"/>
<text x="623.8" y="389.05" font-size="9.4" fill="#4D4D4D" text-anchor="end">25</text>
<text x="653.7" y="674.8" font-size="9.3" fill="#4D4D4D" text-anchor="middle">Jan</text>
<text x="694.5" y="674.8" font-size="9.3" fill="#4D4D4D" text-anchor="middle">Feb</text>
<text x="735.3" y="674.8" font-size="9.3" fill="#4D4D4D" text-anchor="middle">Mar</text>
<text x="776.1" y="674.8" font-size="9.3" fill="#4D4D4D" text-anchor="middle">Apr</text>
<text x="816.9" y="674.8" font-size="9.3" fill="#4D4D4D" text-anchor="middle">May</text>
<text x="857.7" y="674.8" font-size="9.3" fill="#4D4D4D" text-anchor="middle">Jun</text>
<text x="898.5" y="674.8" font-size="9.3" fill="#4D4D4D" text-anchor="middle">Jul</text>
<text x="939.3" y="674.8" font-size="9.3" fill="#4D4D4D" text-anchor="middle">Aug</text>
<text x="980.1" y="674.8" font-size="9.3" fill="#4D4D4D" text-anchor="middle">Sep</text>
<text x="1020.9" y="674.8" font-size="9.3" fill="#4D4D4D" text-anchor="middle">Oct</text>
<text x="1061.7" y="674.8" font-size="9.3" fill="#4D4D4D" text-anchor="middle">Nov</text>
<text x="1102.5" y="674.8" font-size="9.3" fill="#4D4D4D" text-anchor="middle">Dec</text>
<text x="608.6" y="509" font-size="11.4" fill="#000" text-anchor="middle" transform="rotate(-90 608.6 509)">Mean temperature (<tspan dy="-4.22" font-size="7.3">o</tspan><tspan dy="4.22">C</tspan>)</text>
<circle cx="653.7" cy="649.11" r="1.75" fill="#D3D3D3" fill-opacity="0.85"/>
<circle cx="653.7" cy="642.56" r="1.75" fill="#D3D3D3" fill-opacity="0.85"/>
<circle cx="655.88" cy="638.34" r="1.75" fill="#D3D3D3" fill-opacity="0.85"/>
<circle cx="651.59" cy="638.02" r="1.75" fill="#D3D3D3" fill-opacity="0.85"/>
<circle cx="657.99" cy="634.6" r="1.75" fill="#D3D3D3" fill-opacity="0.85"/>
<circle cx="653.7" cy="634.27" r="1.75" fill="#D3D3D3" fill-opacity="0.85"/>
<circle cx="645.61" cy="632.02" r="1.75" fill="#D3D3D3" fill-opacity="0.85"/>
<circle cx="649.81" cy="631.09" r="1.75" fill="#D3D3D3" fill-opacity="0.85"/>
<circle cx="658.47" cy="630.15" r="1.75" fill="#D3D3D3" fill-opacity="0.85"/>
<circle cx="654.27" cy="629.21" r="1.75" fill="#D3D3D3" fill-opacity="0.85"/>
<circle cx="650.66" cy="626.87" r="1.75" fill="#D3D3D3" fill-opacity="0.85"/>
<circle cx="657.5" cy="625.85" r="1.75" fill="#D3D3D3" fill-opacity="0.85"/>
<circle cx="666.13" cy="624.2" r="1.75" fill="#D3D3D3" fill-opacity="0.85"/>
<circle cx="653.7" cy="623.83" r="1.75" fill="#D3D3D3" fill-opacity="0.85"/>
<circle cx="639.72" cy="622.19" r="1.75" fill="#D3D3D3" fill-opacity="0.85"/>
<circle cx="649.08" cy="621.44" r="1.75" fill="#D3D3D3" fill-opacity="0.85"/>
<circle cx="643.92" cy="621.25" r="1.75" fill="#D3D3D3" fill-opacity="0.85"/>
<circle cx="663.52" cy="620.79" r="1.75" fill="#D3D3D3" fill-opacity="0.85"/>
<circle cx="659.25" cy="620.32" r="1.75" fill="#D3D3D3" fill-opacity="0.85"/>
<circle cx="652.86" cy="619.38" r="1.75" fill="#D3D3D3" fill-opacity="0.85"/>
<circle cx="669.18" cy="618.21" r="1.75" fill="#D3D3D3" fill-opacity="0.85"/>
<circle cx="640.85" cy="617.98" r="1.75" fill="#D3D3D3" fill-opacity="0.85"/>
<circle cx="646.55" cy="617.85" r="1.75" fill="#D3D3D3" fill-opacity="0.85"/>
<circle cx="656.46" cy="617.04" r="1.75" fill="#D3D3D3" fill-opacity="0.85"/>
<circle cx="665.57" cy="615.87" r="1.75" fill="#D3D3D3" fill-opacity="0.85"/>
<circle cx="650.23" cy="615.64" r="1.75" fill="#D3D3D3" fill-opacity="0.85"/>
<circle cx="643.59" cy="614.66" r="1.75" fill="#D3D3D3" fill-opacity="0.85"/>
<circle cx="661.59" cy="614.23" r="1.75" fill="#D3D3D3" fill-opacity="0.85"/>
<circle cx="653.98" cy="613.53" r="1.75" fill="#D3D3D3" fill-opacity="0.85"/>
<circle cx="646.88" cy="611.89" r="1.75" fill="#D3D3D3" fill-opacity="0.85"/>
<circle cx="658.06" cy="611.79" r="1.75" fill="#D3D3D3" fill-opacity="0.85"/>
<circle cx="650.94" cy="610.48" r="1.75" fill="#D3D3D3" fill-opacity="0.85"/>
<circle cx="640.14" cy="609.08" r="1.75" fill="#D3D3D3" fill-opacity="0.85"/>
<circle cx="654.92" cy="608.85" r="1.75" fill="#D3D3D3" fill-opacity="0.85"/>
<circle cx="664.08" cy="607.44" r="1.75" fill="#D3D3D3" fill-opacity="0.85"/>
<circle cx="643.89" cy="606.97" r="1.75" fill="#D3D3D3" fill-opacity="0.85"/>
<circle cx="659.88" cy="606.5" r="1.75" fill="#D3D3D3" fill-opacity="0.85"/>
<circle cx="648.03" cy="605.8" r="1.75" fill="#D3D3D3" fill-opacity="0.85"/>
<circle cx="652.31" cy="605.43" r="1.75" fill="#D3D3D3" fill-opacity="0.85"/>
<circle cx="656.37" cy="604.02" r="1.75" fill="#D3D3D3" fill-opacity="0.85"/>
<circle cx="642.87" cy="601.59" r="1.75" fill="#D3D3D3" fill-opacity="0.85"/>
<circle cx="660.53" cy="601.57" r="1.75" fill="#D3D3D3" fill-opacity="0.85"/>
<circle cx="653.7" cy="600.65" r="1.75" fill="#D3D3D3" fill-opacity="0.85"/>
<circle cx="646.3" cy="599" r="1.75" fill="#D3D3D3" fill-opacity="0.85"/>
<circle cx="657.48" cy="598.55" r="1.75" fill="#D3D3D3" fill-opacity="0.85"/>
<circle cx="650.06" cy="596.91" r="1.75" fill="#D3D3D3" fill-opacity="0.85"/>
<circle cx="662.11" cy="595.93" r="1.75" fill="#D3D3D3" fill-opacity="0.85"/>
<circle cx="646.79" cy="593.4" r="1.75" fill="#D3D3D3" fill-opacity="0.85"/>
<circle cx="658.94" cy="593.02" r="1.75" fill="#D3D3D3" fill-opacity="0.85"/>
<circle cx="650.93" cy="592.23" r="1.75" fill="#D3D3D3" fill-opacity="0.85"/>
<circle cx="655.08" cy="591.13" r="1.75" fill="#D3D3D3" fill-opacity="0.85"/>
<circle cx="648.46" cy="588.25" r="1.75" fill="#D3D3D3" fill-opacity="0.85"/>
<circle cx="656.63" cy="585.81" r="1.75" fill="#D3D3D3" fill-opacity="0.85"/>
<circle cx="652.7" cy="587.55" r="1.9" fill="#FFD265"/>
<circle cx="654.2" cy="595.76" r="1.95" fill="#D7263D"/>
<line x1="643.5" x2="663.9" y1="612.72" y2="612.72" stroke="#333" stroke-width="1.5"/>
<circle cx="698.23" cy="637.95" r="1.75" fill="#D3D3D3" fill-opacity="0.85"/>
<circle cx="694.5" cy="635.81" r="1.75" fill="#D3D3D3" fill-opacity="0.85"/>
<circle cx="698.48" cy="630.47" r="1.75" fill="#D3D3D3" fill-opacity="0.85"/>
<circle cx="694.5" cy="628.85" r="1.75" fill="#D3D3D3" fill-opacity="0.85"/>
<circle cx="682.42" cy="625.3" r="1.75" fill="#D3D3D3" fill-opacity="0.85"/>
<circle cx="702.93" cy="624" r="1.75" fill="#D3D3D3" fill-opacity="0.85"/>
<circle cx="686.15" cy="623.16" r="1.75" fill="#D3D3D3" fill-opacity="0.85"/>
<circle cx="698.97" cy="622.32" r="1.75" fill="#D3D3D3" fill-opacity="0.85"/>
<circle cx="690.21" cy="621.73" r="1.75" fill="#D3D3D3" fill-opacity="0.85"/>
<circle cx="694.5" cy="621.47" r="1.75" fill="#D3D3D3" fill-opacity="0.85"/>
<circle cx="705.21" cy="618.38" r="1.75" fill="#D3D3D3" fill-opacity="0.85"/>
<circle cx="698.64" cy="618.03" r="1.75" fill="#D3D3D3" fill-opacity="0.85"/>
<circle cx="687.52" cy="617.25" r="1.75" fill="#D3D3D3" fill-opacity="0.85"/>
<circle cx="694.5" cy="616.86" r="1.75" fill="#D3D3D3" fill-opacity="0.85"/>
<circle cx="702.37" cy="615.15" r="1.75" fill="#D3D3D3" fill-opacity="0.85"/>
<circle cx="690.51" cy="614.16" r="1.75" fill="#D3D3D3" fill-opacity="0.85"/>
<circle cx="698.8" cy="612.75" r="1.75" fill="#D3D3D3" fill-opacity="0.85"/>
<circle cx="694.5" cy="612.56" r="1.75" fill="#D3D3D3" fill-opacity="0.85"/>
<circle cx="682.75" cy="610.07" r="1.75" fill="#D3D3D3" fill-opacity="0.85"/>
<circle cx="687.03" cy="609.66" r="1.75" fill="#D3D3D3" fill-opacity="0.85"/>
<circle cx="691.25" cy="608.82" r="1.75" fill="#D3D3D3" fill-opacity="0.85"/>
<circle cx="705.19" cy="607.53" r="1.75" fill="#D3D3D3" fill-opacity="0.85"/>
<circle cx="698.56" cy="607.41" r="1.75" fill="#D3D3D3" fill-opacity="0.85"/>
<circle cx="694.5" cy="606.01" r="1.75" fill="#D3D3D3" fill-opacity="0.85"/>
<circle cx="686.74" cy="604.8" r="1.75" fill="#D3D3D3" fill-opacity="0.85"/>
<circle cx="702.04" cy="604.6" r="1.75" fill="#D3D3D3" fill-opacity="0.85"/>
<circle cx="690.84" cy="603.48" r="1.75" fill="#D3D3D3" fill-opacity="0.85"/>
<circle cx="698.76" cy="601.82" r="1.75" fill="#D3D3D3" fill-opacity="0.85"/>
<circle cx="694.5" cy="601.23" r="1.75" fill="#D3D3D3" fill-opacity="0.85"/>
<circle cx="686.78" cy="598.56" r="1.75" fill="#D3D3D3" fill-opacity="0.85"/>
<circle cx="691.02" cy="597.85" r="1.75" fill="#D3D3D3" fill-opacity="0.85"/>
<circle cx="694.69" cy="595.6" r="1.75" fill="#D3D3D3" fill-opacity="0.85"/>
<circle cx="703.51" cy="595.22" r="1.75" fill="#D3D3D3" fill-opacity="0.85"/>
<circle cx="699.21" cy="595.04" r="1.75" fill="#D3D3D3" fill-opacity="0.85"/>
<circle cx="688.19" cy="592.79" r="1.75" fill="#D3D3D3" fill-opacity="0.85"/>
<circle cx="692.41" cy="591.95" r="1.75" fill="#D3D3D3" fill-opacity="0.85"/>
<circle cx="696.69" cy="591.55" r="1.75" fill="#D3D3D3" fill-opacity="0.85"/>
<circle cx="701.22" cy="588.87" r="1.75" fill="#D3D3D3" fill-opacity="0.85"/>
<circle cx="694.26" cy="588.01" r="1.75" fill="#D3D3D3" fill-opacity="0.85"/>
<circle cx="686.98" cy="586.04" r="1.75" fill="#D3D3D3" fill-opacity="0.85"/>
<circle cx="698.04" cy="585.97" r="1.75" fill="#D3D3D3" fill-opacity="0.85"/>
<circle cx="694.6" cy="583.4" r="1.75" fill="#D3D3D3" fill-opacity="0.85"/>
<circle cx="684" cy="580.63" r="1.75" fill="#D3D3D3" fill-opacity="0.85"/>
<circle cx="703.16" cy="580.14" r="1.75" fill="#D3D3D3" fill-opacity="0.85"/>
<circle cx="688.17" cy="579.57" r="1.75" fill="#D3D3D3" fill-opacity="0.85"/>
<circle cx="699.45" cy="577.97" r="1.75" fill="#D3D3D3" fill-opacity="0.85"/>
<circle cx="695.15" cy="577.89" r="1.75" fill="#D3D3D3" fill-opacity="0.85"/>
<circle cx="691.88" cy="575.09" r="1.75" fill="#D3D3D3" fill-opacity="0.85"/>
<circle cx="698.56" cy="573.11" r="1.75" fill="#D3D3D3" fill-opacity="0.85"/>
<circle cx="694.5" cy="571.68" r="1.75" fill="#D3D3D3" fill-opacity="0.85"/>
<circle cx="698.37" cy="568.61" r="1.75" fill="#D3D3D3" fill-opacity="0.85"/>
<circle cx="694.5" cy="566.74" r="1.75" fill="#D3D3D3" fill-opacity="0.85"/>
<circle cx="694.5" cy="562.14" r="1.75" fill="#D3D3D3" fill-opacity="0.85"/>
<circle cx="690.3" cy="569.92" r="1.9" fill="#FFD265"/>
<circle cx="690.3" cy="583.31" r="1.95" fill="#D7263D"/>
<line x1="684.3" x2="704.7" y1="602.25" y2="602.25" stroke="#333" stroke-width="1.5"/>
<circle cx="735.3" cy="623.75" r="1.75" fill="#D3D3D3" fill-opacity="0.85"/>
<circle cx="735.3" cy="609.29" r="1.75" fill="#D3D3D3" fill-opacity="0.85"/>
<circle cx="738.8" cy="606.79" r="1.75" fill="#D3D3D3" fill-opacity="0.85"/>
<circle cx="735.3" cy="604.3" r="1.75" fill="#D3D3D3" fill-opacity="0.85"/>
<circle cx="738.26" cy="595.88" r="1.75" fill="#D3D3D3" fill-opacity="0.85"/>
<circle cx="735.3" cy="592.76" r="1.75" fill="#D3D3D3" fill-opacity="0.85"/>
<circle cx="731.8" cy="590.27" r="1.75" fill="#D3D3D3" fill-opacity="0.85"/>
<circle cx="739.17" cy="589.64" r="1.75" fill="#D3D3D3" fill-opacity="0.85"/>
<circle cx="735.3" cy="587.77" r="1.75" fill="#D3D3D3" fill-opacity="0.85"/>
<circle cx="745.95" cy="585.28" r="1.75" fill="#D3D3D3" fill-opacity="0.85"/>
<circle cx="741.94" cy="583.72" r="1.75" fill="#D3D3D3" fill-opacity="0.85"/>
<circle cx="735.73" cy="583.28" r="1.75" fill="#D3D3D3" fill-opacity="0.85"/>
<circle cx="727.88" cy="582.6" r="1.75" fill="#D3D3D3" fill-opacity="0.85"/>
<circle cx="731.95" cy="581.23" r="1.75" fill="#D3D3D3" fill-opacity="0.85"/>
<circle cx="739.14" cy="580.45" r="1.75" fill="#D3D3D3" fill-opacity="0.85"/>
<circle cx="735.3" cy="578.53" r="1.75" fill="#D3D3D3" fill-opacity="0.85"/>
<circle cx="749.83" cy="577.49" r="1.75" fill="#D3D3D3" fill-opacity="0.85"/>
<circle cx="723.34" cy="576.94" r="1.75" fill="#D3D3D3" fill-opacity="0.85"/>
<circle cx="742.86" cy="576.24" r="1.75" fill="#D3D3D3" fill-opacity="0.85"/>
<circle cx="731.51" cy="575.54" r="1.75" fill="#D3D3D3" fill-opacity="0.85"/>
<circle cx="738.66" cy="575.3" r="1.75" fill="#D3D3D3" fill-opacity="0.85"/>
<circle cx="746.99" cy="574.26" r="1.75" fill="#D3D3D3" fill-opacity="0.85"/>
<circle cx="726.53" cy="574.06" r="1.75" fill="#D3D3D3" fill-opacity="0.85"/>
<circle cx="735.01" cy="573.03" r="1.75" fill="#D3D3D3" fill-opacity="0.85"/>
<circle cx="743.41" cy="571.86" r="1.75" fill="#D3D3D3" fill-opacity="0.85"/>
<circle cx="739.27" cy="570.7" r="1.75" fill="#D3D3D3" fill-opacity="0.85"/>
<circle cx="721.16" cy="569.69" r="1.75" fill="#D3D3D3" fill-opacity="0.85"/>
<circle cx="725.46" cy="569.55" r="1.75" fill="#D3D3D3" fill-opacity="0.85"/>
<circle cx="735.44" cy="568.76" r="1.75" fill="#D3D3D3" fill-opacity="0.85"/>
<circle cx="747.48" cy="568.38" r="1.75" fill="#D3D3D3" fill-opacity="0.85"/>
<circle cx="743.35" cy="567.19" r="1.75" fill="#D3D3D3" fill-opacity="0.85"/>
<circle cx="728.22" cy="566.26" r="1.75" fill="#D3D3D3" fill-opacity="0.85"/>
<circle cx="739.23" cy="565.96" r="1.75" fill="#D3D3D3" fill-opacity="0.85"/>
<circle cx="732.48" cy="565.64" r="1.75" fill="#D3D3D3" fill-opacity="0.85"/>
<circle cx="719.44" cy="564.67" r="1.75" fill="#D3D3D3" fill-opacity="0.85"/>
<circle cx="723.73" cy="564.39" r="1.75" fill="#D3D3D3" fill-opacity="0.85"/>
<circle cx="747.28" cy="563.34" r="1.75" fill="#D3D3D3" fill-opacity="0.85"/>
<circle cx="735.98" cy="563.14" r="1.75" fill="#D3D3D3" fill-opacity="0.85"/>
<circle cx="727.25" cy="561.93" r="1.75" fill="#D3D3D3" fill-opacity="0.85"/>
<circle cx="743.23" cy="561.9" r="1.75" fill="#D3D3D3" fill-opacity="0.85"/>
<circle cx="731.29" cy="560.46" r="1.75" fill="#D3D3D3" fill-opacity="0.85"/>
<circle cx="739.52" cy="559.71" r="1.75" fill="#D3D3D3" fill-opacity="0.85"/>
<circle cx="735.3" cy="558.9" r="1.75" fill="#D3D3D3" fill-opacity="0.85"/>
<circle cx="744.28" cy="557.2" r="1.75" fill="#D3D3D3" fill-opacity="0.85"/>
<circle cx="740.42" cy="555.29" r="1.75" fill="#D3D3D3" fill-opacity="0.85"/>
<circle cx="736.21" cy="554.41" r="1.75" fill="#D3D3D3" fill-opacity="0.85"/>
<circle cx="732.14" cy="553.03" r="1.75" fill="#D3D3D3" fill-opacity="0.85"/>
<circle cx="739.59" cy="550.36" r="1.75" fill="#D3D3D3" fill-opacity="0.85"/>
<circle cx="735.3" cy="550.11" r="1.75" fill="#D3D3D3" fill-opacity="0.85"/>
<circle cx="739.6" cy="545.26" r="1.75" fill="#D3D3D3" fill-opacity="0.85"/>
<circle cx="735.3" cy="545.06" r="1.75" fill="#D3D3D3" fill-opacity="0.85"/>
<circle cx="739.5" cy="540.7" r="1.75" fill="#D3D3D3" fill-opacity="0.85"/>
<circle cx="735.3" cy="539.76" r="1.75" fill="#D3D3D3" fill-opacity="0.85"/>
<circle cx="727" cy="556.14" r="1.9" fill="#FFD265"/>
<circle cx="730" cy="571.51" r="1.95" fill="#D7263D"/>
<line x1="725.1" x2="745.5" y1="567.27" y2="567.27" stroke="#333" stroke-width="1.5"/>
<circle cx="776.1" cy="590.35" r="1.75" fill="#D3D3D3" fill-opacity="0.85"/>
<circle cx="780.38" cy="575.91" r="1.75" fill="#D3D3D3" fill-opacity="0.85"/>
<circle cx="776.1" cy="575.47" r="1.75" fill="#D3D3D3" fill-opacity="0.85"/>
<circle cx="780.38" cy="570.19" r="1.75" fill="#D3D3D3" fill-opacity="0.85"/>
<circle cx="776.1" cy="569.74" r="1.75" fill="#D3D3D3" fill-opacity="0.85"/>
<circle cx="769.75" cy="567.96" r="1.75" fill="#D3D3D3" fill-opacity="0.85"/>
<circle cx="773.6" cy="566.05" r="1.75" fill="#D3D3D3" fill-opacity="0.85"/>
<circle cx="779.31" cy="565.42" r="1.75" fill="#D3D3D3" fill-opacity="0.85"/>
<circle cx="776.1" cy="562.55" r="1.75" fill="#D3D3D3" fill-opacity="0.85"/>
<circle cx="784.89" cy="559.99" r="1.75" fill="#D3D3D3" fill-opacity="0.85"/>
<circle cx="780.78" cy="558.74" r="1.75" fill="#D3D3D3" fill-opacity="0.85"/>
<circle cx="774.42" cy="558.1" r="1.75" fill="#D3D3D3" fill-opacity="0.85"/>
<circle cx="765.68" cy="557.15" r="1.75" fill="#D3D3D3" fill-opacity="0.85"/>
<circle cx="769.94" cy="556.5" r="1.75" fill="#D3D3D3" fill-opacity="0.85"/>
<circle cx="777.88" cy="555.56" r="1.75" fill="#D3D3D3" fill-opacity="0.85"/>
<circle cx="784.21" cy="553.9" r="1.75" fill="#D3D3D3" fill-opacity="0.85"/>
<circle cx="771.93" cy="552.69" r="1.75" fill="#D3D3D3" fill-opacity="0.85"/>
<circle cx="780.39" cy="551.93" r="1.75" fill="#D3D3D3" fill-opacity="0.85"/>
<circle cx="776.1" cy="551.65" r="1.75" fill="#D3D3D3" fill-opacity="0.85"/>
<circle cx="784.91" cy="549.56" r="1.75" fill="#D3D3D3" fill-opacity="0.85"/>
<circle cx="768.86" cy="547.92" r="1.75" fill="#D3D3D3" fill-opacity="0.85"/>
<circle cx="781.07" cy="547.62" r="1.75" fill="#D3D3D3" fill-opacity="0.85"/>
<circle cx="772.97" cy="546.65" r="1.75" fill="#D3D3D3" fill-opacity="0.85"/>
<circle cx="777.18" cy="545.79" r="1.75" fill="#D3D3D3" fill-opacity="0.85"/>
<circle cx="785.96" cy="544.06" r="1.75" fill="#D3D3D3" fill-opacity="0.85"/>
<circle cx="766.24" cy="542.84" r="1.75" fill="#D3D3D3" fill-opacity="0.85"/>
<circle cx="770.52" cy="542.42" r="1.75" fill="#D3D3D3" fill-opacity="0.85"/>
<circle cx="774.81" cy="542.2" r="1.75" fill="#D3D3D3" fill-opacity="0.85"/>
<circle cx="783.1" cy="540.85" r="1.75" fill="#D3D3D3" fill-opacity="0.85"/>
<circle cx="778.81" cy="540.61" r="1.75" fill="#D3D3D3" fill-opacity="0.85"/>
<circle cx="761.84" cy="539.33" r="1.75" fill="#D3D3D3" fill-opacity="0.85"/>
<circle cx="787.2" cy="538.7" r="1.75" fill="#D3D3D3" fill-opacity="0.85"/>
<circle cx="769.35" cy="538.06" r="1.75" fill="#D3D3D3" fill-opacity="0.85"/>
<circle cx="775.51" cy="537.85" r="1.75" fill="#D3D3D3" fill-opacity="0.85"/>
<circle cx="765.05" cy="536.47" r="1.75" fill="#D3D3D3" fill-opacity="0.85"/>
<circle cx="783.57" cy="536.38" r="1.75" fill="#D3D3D3" fill-opacity="0.85"/>
<circle cx="779.31" cy="535.84" r="1.75" fill="#D3D3D3" fill-opacity="0.85"/>
<circle cx="772.25" cy="534.88" r="1.75" fill="#D3D3D3" fill-opacity="0.85"/>
<circle cx="767.98" cy="533.32" r="1.75" fill="#D3D3D3" fill-opacity="0.85"/>
<circle cx="776.1" cy="532.98" r="1.75" fill="#D3D3D3" fill-opacity="0.85"/>
<circle cx="781.7" cy="531.66" r="1.75" fill="#D3D3D3" fill-opacity="0.85"/>
<circle cx="770.45" cy="529.81" r="1.75" fill="#D3D3D3" fill-opacity="0.85"/>
<circle cx="778.2" cy="529.16" r="1.75" fill="#D3D3D3" fill-opacity="0.85"/>
<circle cx="774.18" cy="527.66" r="1.75" fill="#D3D3D3" fill-opacity="0.85"/>
<circle cx="766.56" cy="527.25" r="1.75" fill="#D3D3D3" fill-opacity="0.85"/>
<circle cx="782.58" cy="525.34" r="1.75" fill="#D3D3D3" fill-opacity="0.85"/>
<circle cx="770.2" cy="524.95" r="1.75" fill="#D3D3D3" fill-opacity="0.85"/>
<circle cx="772.05" cy="521.07" r="1.75" fill="#D3D3D3" fill-opacity="0.85"/>
<circle cx="776.1" cy="519.62" r="1.75" fill="#D3D3D3" fill-opacity="0.85"/>
<circle cx="779.38" cy="514.77" r="1.75" fill="#D3D3D3" fill-opacity="0.85"/>
<circle cx="776.1" cy="511.98" r="1.75" fill="#D3D3D3" fill-opacity="0.85"/>
<circle cx="779.89" cy="506.58" r="1.75" fill="#D3D3D3" fill-opacity="0.85"/>
<circle cx="776.1" cy="504.54" r="1.75" fill="#D3D3D3" fill-opacity="0.85"/>
<circle cx="776.75" cy="524.21" r="1.9" fill="#FFD265"/>
<circle cx="780.3" cy="521.69" r="1.95" fill="#D7263D"/>
<line x1="765.9" x2="786.3" y1="537.99" y2="537.99" stroke="#333" stroke-width="1.5"/>
<circle cx="816.9" cy="556.13" r="1.75" fill="#D3D3D3" fill-opacity="0.85"/>
<circle cx="814.86" cy="534.94" r="1.75" fill="#D3D3D3" fill-opacity="0.85"/>
<circle cx="820.2" cy="533.91" r="1.75" fill="#D3D3D3" fill-opacity="0.85"/>
<circle cx="811.92" cy="531.5" r="1.75" fill="#D3D3D3" fill-opacity="0.85"/>
<circle cx="816.9" cy="531.16" r="1.75" fill="#D3D3D3" fill-opacity="0.85"/>
<circle cx="824.38" cy="529.09" r="1.75" fill="#D3D3D3" fill-opacity="0.85"/>
<circle cx="813.13" cy="527.37" r="1.75" fill="#D3D3D3" fill-opacity="0.85"/>
<circle cx="821.07" cy="526.34" r="1.75" fill="#D3D3D3" fill-opacity="0.85"/>
<circle cx="816.9" cy="525.31" r="1.75" fill="#D3D3D3" fill-opacity="0.85"/>
<circle cx="820.46" cy="521.18" r="1.75" fill="#D3D3D3" fill-opacity="0.85"/>
<circle cx="816.9" cy="518.77" r="1.75" fill="#D3D3D3" fill-opacity="0.85"/>
<circle cx="814.32" cy="513.96" r="1.75" fill="#D3D3D3" fill-opacity="0.85"/>
<circle cx="824.5" cy="513.43" r="1.75" fill="#D3D3D3" fill-opacity="0.85"/>
<circle cx="820.2" cy="513.27" r="1.75" fill="#D3D3D3" fill-opacity="0.85"/>
<circle cx="810.57" cy="511.55" r="1.75" fill="#D3D3D3" fill-opacity="0.85"/>
<circle cx="816.9" cy="510.52" r="1.75" fill="#D3D3D3" fill-opacity="0.85"/>
<circle cx="824.96" cy="508.93" r="1.75" fill="#D3D3D3" fill-opacity="0.85"/>
<circle cx="813.15" cy="508.11" r="1.75" fill="#D3D3D3" fill-opacity="0.85"/>
<circle cx="820.82" cy="507.77" r="1.75" fill="#D3D3D3" fill-opacity="0.85"/>
<circle cx="807.73" cy="507.08" r="1.75" fill="#D3D3D3" fill-opacity="0.85"/>
<circle cx="816.9" cy="506" r="1.75" fill="#D3D3D3" fill-opacity="0.85"/>
<circle cx="823.68" cy="504.33" r="1.75" fill="#D3D3D3" fill-opacity="0.85"/>
<circle cx="810.35" cy="503.66" r="1.75" fill="#D3D3D3" fill-opacity="0.85"/>
<circle cx="820.35" cy="501.6" r="1.75" fill="#D3D3D3" fill-opacity="0.85"/>
<circle cx="816.05" cy="501.57" r="1.75" fill="#D3D3D3" fill-opacity="0.85"/>
<circle cx="811.99" cy="499.69" r="1.75" fill="#D3D3D3" fill-opacity="0.85"/>
<circle cx="818.22" cy="497.86" r="1.75" fill="#D3D3D3" fill-opacity="0.85"/>
<circle cx="806.09" cy="496.76" r="1.75" fill="#D3D3D3" fill-opacity="0.85"/>
<circle cx="824.78" cy="496.09" r="1.75" fill="#D3D3D3" fill-opacity="0.85"/>
<circle cx="814.31" cy="496.07" r="1.75" fill="#D3D3D3" fill-opacity="0.85"/>
<circle cx="820.84" cy="494.35" r="1.75" fill="#D3D3D3" fill-opacity="0.85"/>
<circle cx="808.67" cy="493.32" r="1.75" fill="#D3D3D3" fill-opacity="0.85"/>
<circle cx="816.9" cy="492.64" r="1.75" fill="#D3D3D3" fill-opacity="0.85"/>
<circle cx="824.87" cy="490.96" r="1.75" fill="#D3D3D3" fill-opacity="0.85"/>
<circle cx="811.97" cy="490.57" r="1.75" fill="#D3D3D3" fill-opacity="0.85"/>
<circle cx="815.25" cy="487.79" r="1.75" fill="#D3D3D3" fill-opacity="0.85"/>
<circle cx="823.84" cy="486.78" r="1.75" fill="#D3D3D3" fill-opacity="0.85"/>
<circle cx="810.26" cy="486.29" r="1.75" fill="#D3D3D3" fill-opacity="0.85"/>
<circle cx="818.4" cy="484.86" r="1.75" fill="#D3D3D3" fill-opacity="0.85"/>
<circle cx="813.51" cy="483.48" r="1.75" fill="#D3D3D3" fill-opacity="0.85"/>
<circle cx="823.44" cy="482.15" r="1.75" fill="#D3D3D3" fill-opacity="0.85"/>
<circle cx="816.9" cy="480.83" r="1.75" fill="#D3D3D3" fill-opacity="0.85"/>
<circle cx="810.97" cy="479.53" r="1.75" fill="#D3D3D3" fill-opacity="0.85"/>
<circle cx="821.72" cy="478.21" r="1.75" fill="#D3D3D3" fill-opacity="0.85"/>
<circle cx="814.34" cy="476.86" r="1.75" fill="#D3D3D3" fill-opacity="0.85"/>
<circle cx="818.41" cy="475.46" r="1.75" fill="#D3D3D3" fill-opacity="0.85"/>
<circle cx="823.12" cy="473.96" r="1.75" fill="#D3D3D3" fill-opacity="0.85"/>
<circle cx="811.29" cy="473.37" r="1.75" fill="#D3D3D3" fill-opacity="0.85"/>
<circle cx="815.46" cy="472.33" r="1.75" fill="#D3D3D3" fill-opacity="0.85"/>
<circle cx="820.59" cy="470.48" r="1.75" fill="#D3D3D3" fill-opacity="0.85"/>
<circle cx="816.9" cy="468.28" r="1.75" fill="#D3D3D3" fill-opacity="0.85"/>
<circle cx="820.71" cy="465.4" r="1.75" fill="#D3D3D3" fill-opacity="0.85"/>
<circle cx="816.9" cy="463.39" r="1.75" fill="#D3D3D3" fill-opacity="0.85"/>
<circle cx="820.4" cy="489.37" r="1.9" fill="#FFD265"/>
<circle cx="807" cy="482.74" r="1.95" fill="#D7263D"/>
<line x1="806.7" x2="827.1" y1="492.94" y2="492.94" stroke="#333" stroke-width="1.5"/>
<circle cx="860.25" cy="490.39" r="1.75" fill="#D3D3D3" fill-opacity="0.85"/>
<circle cx="857.3" cy="487.27" r="1.75" fill="#D3D3D3" fill-opacity="0.85"/>
<circle cx="860.4" cy="484.3" r="1.75" fill="#D3D3D3" fill-opacity="0.85"/>
<circle cx="857.7" cy="480.95" r="1.75" fill="#D3D3D3" fill-opacity="0.85"/>
<circle cx="859.86" cy="470.92" r="1.75" fill="#D3D3D3" fill-opacity="0.85"/>
<circle cx="857.7" cy="467.2" r="1.75" fill="#D3D3D3" fill-opacity="0.85"/>
<circle cx="861.18" cy="461.26" r="1.75" fill="#D3D3D3" fill-opacity="0.85"/>
<circle cx="857.7" cy="458.74" r="1.75" fill="#D3D3D3" fill-opacity="0.85"/>
<circle cx="853.49" cy="454.94" r="1.75" fill="#D3D3D3" fill-opacity="0.85"/>
<circle cx="868.66" cy="454.2" r="1.75" fill="#D3D3D3" fill-opacity="0.85"/>
<circle cx="857.7" cy="454.07" r="1.75" fill="#D3D3D3" fill-opacity="0.85"/>
<circle cx="850.09" cy="451.97" r="1.75" fill="#D3D3D3" fill-opacity="0.85"/>
<circle cx="865.39" cy="451.4" r="1.75" fill="#D3D3D3" fill-opacity="0.85"/>
<circle cx="861.12" cy="450.86" r="1.75" fill="#D3D3D3" fill-opacity="0.85"/>
<circle cx="853.56" cy="449.43" r="1.75" fill="#D3D3D3" fill-opacity="0.85"/>
<circle cx="857.7" cy="448.25" r="1.75" fill="#D3D3D3" fill-opacity="0.85"/>
<circle cx="848.89" cy="447.8" r="1.75" fill="#D3D3D3" fill-opacity="0.85"/>
<circle cx="866.03" cy="446.4" r="1.75" fill="#D3D3D3" fill-opacity="0.85"/>
<circle cx="861.73" cy="446.38" r="1.75" fill="#D3D3D3" fill-opacity="0.85"/>
<circle cx="852.23" cy="445.1" r="1.75" fill="#D3D3D3" fill-opacity="0.85"/>
<circle cx="856.36" cy="443.9" r="1.75" fill="#D3D3D3" fill-opacity="0.85"/>
<circle cx="845.17" cy="443.42" r="1.75" fill="#D3D3D3" fill-opacity="0.85"/>
<circle cx="869.11" cy="442.74" r="1.75" fill="#D3D3D3" fill-opacity="0.85"/>
<circle cx="860.36" cy="442.31" r="1.75" fill="#D3D3D3" fill-opacity="0.85"/>
<circle cx="849.06" cy="441.6" r="1.75" fill="#D3D3D3" fill-opacity="0.85"/>
<circle cx="865.47" cy="440.45" r="1.75" fill="#D3D3D3" fill-opacity="0.85"/>
<circle cx="853.2" cy="440.44" r="1.75" fill="#D3D3D3" fill-opacity="0.85"/>
<circle cx="843.1" cy="439.34" r="1.75" fill="#D3D3D3" fill-opacity="0.85"/>
<circle cx="857.34" cy="439.25" r="1.75" fill="#D3D3D3" fill-opacity="0.85"/>
<circle cx="869.86" cy="438.22" r="1.75" fill="#D3D3D3" fill-opacity="0.85"/>
<circle cx="861.94" cy="438" r="1.75" fill="#D3D3D3" fill-opacity="0.85"/>
<circle cx="846.77" cy="437.11" r="1.75" fill="#D3D3D3" fill-opacity="0.85"/>
<circle cx="851.05" cy="436.67" r="1.75" fill="#D3D3D3" fill-opacity="0.85"/>
<circle cx="866.75" cy="435.25" r="1.75" fill="#D3D3D3" fill-opacity="0.85"/>
<circle cx="854.53" cy="434.14" r="1.75" fill="#D3D3D3" fill-opacity="0.85"/>
<circle cx="862.74" cy="433.7" r="1.75" fill="#D3D3D3" fill-opacity="0.85"/>
<circle cx="848.8" cy="432.01" r="1.75" fill="#D3D3D3" fill-opacity="0.85"/>
<circle cx="852.67" cy="430.13" r="1.75" fill="#D3D3D3" fill-opacity="0.85"/>
<circle cx="860.5" cy="429.3" r="1.75" fill="#D3D3D3" fill-opacity="0.85"/>
<circle cx="865.07" cy="428.56" r="1.75" fill="#D3D3D3" fill-opacity="0.85"/>
<circle cx="856.41" cy="428" r="1.75" fill="#D3D3D3" fill-opacity="0.85"/>
<circle cx="851.8" cy="425.47" r="1.75" fill="#D3D3D3" fill-opacity="0.85"/>
<circle cx="862.37" cy="425.22" r="1.75" fill="#D3D3D3" fill-opacity="0.85"/>
<circle cx="858.21" cy="424.1" r="1.75" fill="#D3D3D3" fill-opacity="0.85"/>
<circle cx="854.43" cy="422.06" r="1.75" fill="#D3D3D3" fill-opacity="0.85"/>
<circle cx="861.94" cy="420.02" r="1.75" fill="#D3D3D3" fill-opacity="0.85"/>
<circle cx="857.7" cy="419.27" r="1.75" fill="#D3D3D3" fill-opacity="0.85"/>
<circle cx="865.94" cy="415.19" r="1.75" fill="#D3D3D3" fill-opacity="0.85"/>
<circle cx="853.57" cy="414.29" r="1.75" fill="#D3D3D3" fill-opacity="0.85"/>
<circle cx="861.98" cy="413.52" r="1.75" fill="#D3D3D3" fill-opacity="0.85"/>
<circle cx="857.7" cy="413.1" r="1.75" fill="#D3D3D3" fill-opacity="0.85"/>
<circle cx="861.22" cy="405.9" r="1.75" fill="#D3D3D3" fill-opacity="0.85"/>
<circle cx="857.7" cy="403.43" r="1.75" fill="#D3D3D3" fill-opacity="0.85"/>
<circle cx="858.7" cy="435.17" r="1.9" fill="#FFD265"/>
<circle cx="858.7" cy="390.25" r="1.95" fill="#D7263D"/>
<line x1="847.5" x2="867.9" y1="440.21" y2="440.21" stroke="#333" stroke-width="1.5"/>
<circle cx="898.5" cy="454.52" r="1.75" fill="#D3D3D3" fill-opacity="0.85"/>
<circle cx="898.5" cy="441.48" r="1.75" fill="#D3D3D3" fill-opacity="0.85"/>
<circle cx="892.97" cy="432.34" r="1.75" fill="#D3D3D3" fill-opacity="0.85"/>
<circle cx="900.31" cy="431.71" r="1.75" fill="#D3D3D3" fill-opacity="0.85"/>
<circle cx="896.45" cy="429.82" r="1.75" fill="#D3D3D3" fill-opacity="0.85"/>
<circle cx="902.75" cy="426.67" r="1.75" fill="#D3D3D3" fill-opacity="0.85"/>
<circle cx="898.5" cy="426.04" r="1.75" fill="#D3D3D3" fill-opacity="0.85"/>
<circle cx="902.73" cy="422.07" r="1.75" fill="#D3D3D3" fill-opacity="0.85"/>
<circle cx="898.5" cy="421.32" r="1.75" fill="#D3D3D3" fill-opacity="0.85"/>
<circle cx="891.15" cy="420.06" r="1.75" fill="#D3D3D3" fill-opacity="0.85"/>
<circle cx="895.15" cy="418.48" r="1.75" fill="#D3D3D3" fill-opacity="0.85"/>
<circle cx="902.43" cy="417.54" r="1.75" fill="#D3D3D3" fill-opacity="0.85"/>
<circle cx="910.12" cy="416.59" r="1.75" fill="#D3D3D3" fill-opacity="0.85"/>
<circle cx="886.58" cy="415.96" r="1.75" fill="#D3D3D3" fill-opacity="0.85"/>
<circle cx="898.5" cy="415.78" r="1.75" fill="#D3D3D3" fill-opacity="0.85"/>
<circle cx="890.78" cy="415.02" r="1.75" fill="#D3D3D3" fill-opacity="0.85"/>
<circle cx="906.43" cy="414.39" r="1.75" fill="#D3D3D3" fill-opacity="0.85"/>
<circle cx="894.64" cy="413.13" r="1.75" fill="#D3D3D3" fill-opacity="0.85"/>
<circle cx="902.67" cy="412.3" r="1.75" fill="#D3D3D3" fill-opacity="0.85"/>
<circle cx="898.5" cy="411.24" r="1.75" fill="#D3D3D3" fill-opacity="0.85"/>
<circle cx="912.98" cy="410.29" r="1.75" fill="#D3D3D3" fill-opacity="0.85"/>
<circle cx="885.24" cy="409.67" r="1.75" fill="#D3D3D3" fill-opacity="0.85"/>
<circle cx="889.54" cy="409.66" r="1.75" fill="#D3D3D3" fill-opacity="0.85"/>
<circle cx="893.74" cy="408.72" r="1.75" fill="#D3D3D3" fill-opacity="0.85"/>
<circle cx="901.07" cy="407.77" r="1.75" fill="#D3D3D3" fill-opacity="0.85"/>
<circle cx="909.96" cy="407.23" r="1.75" fill="#D3D3D3" fill-opacity="0.85"/>
<circle cx="905.72" cy="406.51" r="1.75" fill="#D3D3D3" fill-opacity="0.85"/>
<circle cx="895.62" cy="404.85" r="1.75" fill="#D3D3D3" fill-opacity="0.85"/>
<circle cx="890.08" cy="404.31" r="1.75" fill="#D3D3D3" fill-opacity="0.85"/>
<circle cx="899.76" cy="403.67" r="1.75" fill="#D3D3D3" fill-opacity="0.85"/>
<circle cx="904.14" cy="402.51" r="1.75" fill="#D3D3D3" fill-opacity="0.85"/>
<circle cx="893.01" cy="401.15" r="1.75" fill="#D3D3D3" fill-opacity="0.85"/>
<circle cx="897.21" cy="400.22" r="1.75" fill="#D3D3D3" fill-opacity="0.85"/>
<circle cx="901.73" cy="398.95" r="1.75" fill="#D3D3D3" fill-opacity="0.85"/>
<circle cx="883.79" cy="398" r="1.75" fill="#D3D3D3" fill-opacity="0.85"/>
<circle cx="888.09" cy="397.95" r="1.75" fill="#D3D3D3" fill-opacity="0.85"/>
<circle cx="909.22" cy="396.74" r="1.75" fill="#D3D3D3" fill-opacity="0.85"/>
<circle cx="898.5" cy="396.11" r="1.75" fill="#D3D3D3" fill-opacity="0.85"/>
<circle cx="891.73" cy="395.65" r="1.75" fill="#D3D3D3" fill-opacity="0.85"/>
<circle cx="905.22" cy="395.17" r="1.75" fill="#D3D3D3" fill-opacity="0.85"/>
<circle cx="895.29" cy="393.25" r="1.75" fill="#D3D3D3" fill-opacity="0.85"/>
<circle cx="901.74" cy="392.65" r="1.75" fill="#D3D3D3" fill-opacity="0.85"/>
<circle cx="887.69" cy="390.47" r="1.75" fill="#D3D3D3" fill-opacity="0.85"/>
<circle cx="898.25" cy="390.13" r="1.75" fill="#D3D3D3" fill-opacity="0.85"/>
<circle cx="905.74" cy="389.18" r="1.75" fill="#D3D3D3" fill-opacity="0.85"/>
<circle cx="891.36" cy="388.24" r="1.75" fill="#D3D3D3" fill-opacity="0.85"/>
<circle cx="901.74" cy="387.61" r="1.75" fill="#D3D3D3" fill-opacity="0.85"/>
<circle cx="895.23" cy="386.36" r="1.75" fill="#D3D3D3" fill-opacity="0.85"/>
<circle cx="890.59" cy="382.25" r="1.75" fill="#D3D3D3" fill-opacity="0.85"/>
<circle cx="894.28" cy="380.05" r="1.75" fill="#D3D3D3" fill-opacity="0.85"/>
<circle cx="898.5" cy="379.23" r="1.75" fill="#D3D3D3" fill-opacity="0.85"/>
<circle cx="899.32" cy="373.75" r="1.75" fill="#D3D3D3" fill-opacity="0.85"/>
<circle cx="898.5" cy="369.53" r="1.75" fill="#D3D3D3" fill-opacity="0.85"/>
<circle cx="902.3" cy="381.77" r="1.9" fill="#FFD265"/>
<circle cx="899" cy="384.29" r="1.95" fill="#D7263D"/>
<line x1="888.3" x2="908.7" y1="402.45" y2="402.45" stroke="#333" stroke-width="1.5"/>
<circle cx="939.3" cy="453.39" r="1.75" fill="#D3D3D3" fill-opacity="0.85"/>
<circle cx="939.3" cy="440.54" r="1.75" fill="#D3D3D3" fill-opacity="0.85"/>
<circle cx="944.54" cy="428.78" r="1.75" fill="#D3D3D3" fill-opacity="0.85"/>
<circle cx="940.33" cy="427.88" r="1.75" fill="#D3D3D3" fill-opacity="0.85"/>
<circle cx="933.98" cy="425.77" r="1.75" fill="#D3D3D3" fill-opacity="0.85"/>
<circle cx="938.01" cy="424.26" r="1.75" fill="#D3D3D3" fill-opacity="0.85"/>
<circle cx="942.04" cy="422.75" r="1.75" fill="#D3D3D3" fill-opacity="0.85"/>
<circle cx="935.27" cy="420.94" r="1.75" fill="#D3D3D3" fill-opacity="0.85"/>
<circle cx="939.3" cy="419.43" r="1.75" fill="#D3D3D3" fill-opacity="0.85"/>
<circle cx="942.82" cy="416.72" r="1.75" fill="#D3D3D3" fill-opacity="0.85"/>
<circle cx="939.26" cy="414.31" r="1.75" fill="#D3D3D3" fill-opacity="0.85"/>
<circle cx="935.24" cy="411.95" r="1.75" fill="#D3D3D3" fill-opacity="0.85"/>
<circle cx="942" cy="410.99" r="1.75" fill="#D3D3D3" fill-opacity="0.85"/>
<circle cx="948.34" cy="409.03" r="1.75" fill="#D3D3D3" fill-opacity="0.85"/>
<circle cx="938.25" cy="408.88" r="1.75" fill="#D3D3D3" fill-opacity="0.85"/>
<circle cx="929.45" cy="407.67" r="1.75" fill="#D3D3D3" fill-opacity="0.85"/>
<circle cx="933.7" cy="407.07" r="1.75" fill="#D3D3D3" fill-opacity="0.85"/>
<circle cx="945.13" cy="406.16" r="1.75" fill="#D3D3D3" fill-opacity="0.85"/>
<circle cx="940.89" cy="405.48" r="1.75" fill="#D3D3D3" fill-opacity="0.85"/>
<circle cx="924.8" cy="404.66" r="1.75" fill="#D3D3D3" fill-opacity="0.85"/>
<circle cx="936.81" cy="404.1" r="1.75" fill="#D3D3D3" fill-opacity="0.85"/>
<circle cx="953.55" cy="402.86" r="1.75" fill="#D3D3D3" fill-opacity="0.85"/>
<circle cx="928.71" cy="402.85" r="1.75" fill="#D3D3D3" fill-opacity="0.85"/>
<circle cx="949.34" cy="401.94" r="1.75" fill="#D3D3D3" fill-opacity="0.85"/>
<circle cx="943.46" cy="401.69" r="1.75" fill="#D3D3D3" fill-opacity="0.85"/>
<circle cx="932.61" cy="401.04" r="1.75" fill="#D3D3D3" fill-opacity="0.85"/>
<circle cx="939.3" cy="400.59" r="1.75" fill="#D3D3D3" fill-opacity="0.85"/>
<circle cx="957.05" cy="399.54" r="1.75" fill="#D3D3D3" fill-opacity="0.85"/>
<circle cx="924.27" cy="399.53" r="1.75" fill="#D3D3D3" fill-opacity="0.85"/>
<circle cx="928.45" cy="398.52" r="1.75" fill="#D3D3D3" fill-opacity="0.85"/>
<circle cx="947.02" cy="398.32" r="1.75" fill="#D3D3D3" fill-opacity="0.85"/>
<circle cx="935.08" cy="397.52" r="1.75" fill="#D3D3D3" fill-opacity="0.85"/>
<circle cx="943" cy="396.82" r="1.75" fill="#D3D3D3" fill-opacity="0.85"/>
<circle cx="953.98" cy="396.53" r="1.75" fill="#D3D3D3" fill-opacity="0.85"/>
<circle cx="938.89" cy="395.53" r="1.75" fill="#D3D3D3" fill-opacity="0.85"/>
<circle cx="949.96" cy="395.01" r="1.75" fill="#D3D3D3" fill-opacity="0.85"/>
<circle cx="925.4" cy="394.52" r="1.75" fill="#D3D3D3" fill-opacity="0.85"/>
<circle cx="929.7" cy="394.4" r="1.75" fill="#D3D3D3" fill-opacity="0.85"/>
<circle cx="945.94" cy="393.47" r="1.75" fill="#D3D3D3" fill-opacity="0.85"/>
<circle cx="933.73" cy="392.9" r="1.75" fill="#D3D3D3" fill-opacity="0.85"/>
<circle cx="941.79" cy="392.36" r="1.75" fill="#D3D3D3" fill-opacity="0.85"/>
<circle cx="952.85" cy="391.39" r="1.75" fill="#D3D3D3" fill-opacity="0.85"/>
<circle cx="937.66" cy="391.15" r="1.75" fill="#D3D3D3" fill-opacity="0.85"/>
<circle cx="928.26" cy="389.88" r="1.75" fill="#D3D3D3" fill-opacity="0.85"/>
<circle cx="948.85" cy="389.81" r="1.75" fill="#D3D3D3" fill-opacity="0.85"/>
<circle cx="932.38" cy="388.68" r="1.75" fill="#D3D3D3" fill-opacity="0.85"/>
<circle cx="944.84" cy="388.26" r="1.75" fill="#D3D3D3" fill-opacity="0.85"/>
<circle cx="940.31" cy="387.77" r="1.75" fill="#D3D3D3" fill-opacity="0.85"/>
<circle cx="936" cy="386.34" r="1.75" fill="#D3D3D3" fill-opacity="0.85"/>
<circle cx="943.56" cy="384.15" r="1.75" fill="#D3D3D3" fill-opacity="0.85"/>
<circle cx="939.3" cy="383.59" r="1.75" fill="#D3D3D3" fill-opacity="0.85"/>
<circle cx="940.22" cy="376.61" r="1.75" fill="#D3D3D3" fill-opacity="0.85"/>
<circle cx="935.17" cy="375.71" r="1.75" fill="#D3D3D3" fill-opacity="0.85"/>
<circle cx="943" cy="372.1" r="1.9" fill="#FFD265"/>
<circle cx="938.3" cy="372.76" r="1.95" fill="#D7263D"/>
<line x1="929.1" x2="949.5" y1="398.6" y2="398.6" stroke="#333" stroke-width="1.5"/>
<circle cx="980.1" cy="491.3" r="1.75" fill="#D3D3D3" fill-opacity="0.85"/>
<circle cx="980.1" cy="478.86" r="1.75" fill="#D3D3D3" fill-opacity="0.85"/>
<circle cx="972.77" cy="476.1" r="1.75" fill="#D3D3D3" fill-opacity="0.85"/>
<circle cx="985.49" cy="473.3" r="1.75" fill="#D3D3D3" fill-opacity="0.85"/>
<circle cx="975.85" cy="473.09" r="1.75" fill="#D3D3D3" fill-opacity="0.85"/>
<circle cx="980.1" cy="472.46" r="1.75" fill="#D3D3D3" fill-opacity="0.85"/>
<circle cx="983.7" cy="469.39" r="1.75" fill="#D3D3D3" fill-opacity="0.85"/>
<circle cx="980.1" cy="467.04" r="1.75" fill="#D3D3D3" fill-opacity="0.85"/>
<circle cx="983.83" cy="462.4" r="1.75" fill="#D3D3D3" fill-opacity="0.85"/>
<circle cx="980.1" cy="460.25" r="1.75" fill="#D3D3D3" fill-opacity="0.85"/>
<circle cx="988.17" cy="458.49" r="1.75" fill="#D3D3D3" fill-opacity="0.85"/>
<circle cx="976.03" cy="457.09" r="1.75" fill="#D3D3D3" fill-opacity="0.85"/>
<circle cx="984.3" cy="456.59" r="1.75" fill="#D3D3D3" fill-opacity="0.85"/>
<circle cx="980.1" cy="455.69" r="1.75" fill="#D3D3D3" fill-opacity="0.85"/>
<circle cx="993.09" cy="454.29" r="1.75" fill="#D3D3D3" fill-opacity="0.85"/>
<circle cx="970.93" cy="454.23" r="1.75" fill="#D3D3D3" fill-opacity="0.85"/>
<circle cx="989.13" cy="452.61" r="1.75" fill="#D3D3D3" fill-opacity="0.85"/>
<circle cx="974.81" cy="452.39" r="1.75" fill="#D3D3D3" fill-opacity="0.85"/>
<circle cx="984.98" cy="451.5" r="1.75" fill="#D3D3D3" fill-opacity="0.85"/>
<circle cx="980.73" cy="450.83" r="1.75" fill="#D3D3D3" fill-opacity="0.85"/>
<circle cx="968.64" cy="449.45" r="1.75" fill="#D3D3D3" fill-opacity="0.85"/>
<circle cx="988.48" cy="448.18" r="1.75" fill="#D3D3D3" fill-opacity="0.85"/>
<circle cx="972.73" cy="448.14" r="1.75" fill="#D3D3D3" fill-opacity="0.85"/>
<circle cx="984.36" cy="446.98" r="1.75" fill="#D3D3D3" fill-opacity="0.85"/>
<circle cx="980.21" cy="445.83" r="1.75" fill="#D3D3D3" fill-opacity="0.85"/>
<circle cx="992.54" cy="444.79" r="1.75" fill="#D3D3D3" fill-opacity="0.85"/>
<circle cx="969.3" cy="444.71" r="1.75" fill="#D3D3D3" fill-opacity="0.85"/>
<circle cx="988.41" cy="443.6" r="1.75" fill="#D3D3D3" fill-opacity="0.85"/>
<circle cx="973.3" cy="443.11" r="1.75" fill="#D3D3D3" fill-opacity="0.85"/>
<circle cx="984.25" cy="442.5" r="1.75" fill="#D3D3D3" fill-opacity="0.85"/>
<circle cx="980.1" cy="441.39" r="1.75" fill="#D3D3D3" fill-opacity="0.85"/>
<circle cx="966.02" cy="440.26" r="1.75" fill="#D3D3D3" fill-opacity="0.85"/>
<circle cx="993.13" cy="439.48" r="1.75" fill="#D3D3D3" fill-opacity="0.85"/>
<circle cx="974.87" cy="439.11" r="1.75" fill="#D3D3D3" fill-opacity="0.85"/>
<circle cx="970" cy="438.64" r="1.75" fill="#D3D3D3" fill-opacity="0.85"/>
<circle cx="984.75" cy="437.9" r="1.75" fill="#D3D3D3" fill-opacity="0.85"/>
<circle cx="989.46" cy="437.24" r="1.75" fill="#D3D3D3" fill-opacity="0.85"/>
<circle cx="980.64" cy="436.64" r="1.75" fill="#D3D3D3" fill-opacity="0.85"/>
<circle cx="972.3" cy="435" r="1.75" fill="#D3D3D3" fill-opacity="0.85"/>
<circle cx="986.83" cy="433.84" r="1.75" fill="#D3D3D3" fill-opacity="0.85"/>
<circle cx="993.13" cy="432.77" r="1.75" fill="#D3D3D3" fill-opacity="0.85"/>
<circle cx="966.83" cy="432.24" r="1.75" fill="#D3D3D3" fill-opacity="0.85"/>
<circle cx="982.85" cy="432.21" r="1.75" fill="#D3D3D3" fill-opacity="0.85"/>
<circle cx="989.54" cy="430.39" r="1.75" fill="#D3D3D3" fill-opacity="0.85"/>
<circle cx="970.64" cy="430.25" r="1.75" fill="#D3D3D3" fill-opacity="0.85"/>
<circle cx="981.07" cy="428.3" r="1.75" fill="#D3D3D3" fill-opacity="0.85"/>
<circle cx="985.9" cy="428.1" r="1.75" fill="#D3D3D3" fill-opacity="0.85"/>
<circle cx="974.13" cy="427.74" r="1.75" fill="#D3D3D3" fill-opacity="0.85"/>
<circle cx="977.8" cy="425.5" r="1.75" fill="#D3D3D3" fill-opacity="0.85"/>
<circle cx="983.43" cy="424.58" r="1.75" fill="#D3D3D3" fill-opacity="0.85"/>
<circle cx="980.1" cy="421.87" r="1.75" fill="#D3D3D3" fill-opacity="0.85"/>
<circle cx="984.17" cy="417.39" r="1.75" fill="#D3D3D3" fill-opacity="0.85"/>
<circle cx="980.1" cy="416" r="1.75" fill="#D3D3D3" fill-opacity="0.85"/>
<circle cx="977" cy="448.69" r="1.9" fill="#FFD265"/>
<circle cx="976.6" cy="435.17" r="1.95" fill="#D7263D"/>
<line x1="969.9" x2="990.3" y1="443.65" y2="443.65" stroke="#333" stroke-width="1.5"/>
<circle cx="1020.9" cy="556.63" r="1.75" fill="#D3D3D3" fill-opacity="0.85"/>
<circle cx="1020.9" cy="540.92" r="1.75" fill="#D3D3D3" fill-opacity="0.85"/>
<circle cx="1018.21" cy="537.57" r="1.75" fill="#D3D3D3" fill-opacity="0.85"/>
<circle cx="1025.17" cy="534.71" r="1.75" fill="#D3D3D3" fill-opacity="0.85"/>
<circle cx="1020.9" cy="534.21" r="1.75" fill="#D3D3D3" fill-opacity="0.85"/>
<circle cx="1024.4" cy="530.43" r="1.75" fill="#D3D3D3" fill-opacity="0.85"/>
<circle cx="1020.9" cy="527.93" r="1.75" fill="#D3D3D3" fill-opacity="0.85"/>
<circle cx="1024.99" cy="523.91" r="1.75" fill="#D3D3D3" fill-opacity="0.85"/>
<circle cx="1020.9" cy="522.58" r="1.75" fill="#D3D3D3" fill-opacity="0.85"/>
<circle cx="1028.32" cy="518.86" r="1.75" fill="#D3D3D3" fill-opacity="0.85"/>
<circle cx="1024.03" cy="518.65" r="1.75" fill="#D3D3D3" fill-opacity="0.85"/>
<circle cx="1017.01" cy="516.51" r="1.75" fill="#D3D3D3" fill-opacity="0.85"/>
<circle cx="1008.53" cy="515.77" r="1.75" fill="#D3D3D3" fill-opacity="0.85"/>
<circle cx="1021.17" cy="515.44" r="1.75" fill="#D3D3D3" fill-opacity="0.85"/>
<circle cx="1030.58" cy="514.01" r="1.75" fill="#D3D3D3" fill-opacity="0.85"/>
<circle cx="1012.08" cy="513.35" r="1.75" fill="#D3D3D3" fill-opacity="0.85"/>
<circle cx="1026.41" cy="512.94" r="1.75" fill="#D3D3D3" fill-opacity="0.85"/>
<circle cx="1016.23" cy="512.22" r="1.75" fill="#D3D3D3" fill-opacity="0.85"/>
<circle cx="1020.41" cy="511.2" r="1.75" fill="#D3D3D3" fill-opacity="0.85"/>
<circle cx="1024.23" cy="509.23" r="1.75" fill="#D3D3D3" fill-opacity="0.85"/>
<circle cx="1010.67" cy="507.58" r="1.75" fill="#D3D3D3" fill-opacity="0.85"/>
<circle cx="1014.96" cy="507.34" r="1.75" fill="#D3D3D3" fill-opacity="0.85"/>
<circle cx="1020.9" cy="506.51" r="1.75" fill="#D3D3D3" fill-opacity="0.85"/>
<circle cx="1028.52" cy="505.48" r="1.75" fill="#D3D3D3" fill-opacity="0.85"/>
<circle cx="1024.48" cy="504.01" r="1.75" fill="#D3D3D3" fill-opacity="0.85"/>
<circle cx="1017.07" cy="503.59" r="1.75" fill="#D3D3D3" fill-opacity="0.85"/>
<circle cx="1020.9" cy="501.63" r="1.75" fill="#D3D3D3" fill-opacity="0.85"/>
<circle cx="1012.95" cy="499.52" r="1.75" fill="#D3D3D3" fill-opacity="0.85"/>
<circle cx="1024.63" cy="499.37" r="1.75" fill="#D3D3D3" fill-opacity="0.85"/>
<circle cx="1016.6" cy="497.24" r="1.75" fill="#D3D3D3" fill-opacity="0.85"/>
<circle cx="1020.9" cy="497.23" r="1.75" fill="#D3D3D3" fill-opacity="0.85"/>
<circle cx="1008.67" cy="495.45" r="1.75" fill="#D3D3D3" fill-opacity="0.85"/>
<circle cx="1029.1" cy="494.8" r="1.75" fill="#D3D3D3" fill-opacity="0.85"/>
<circle cx="1012.83" cy="494.38" r="1.75" fill="#D3D3D3" fill-opacity="0.85"/>
<circle cx="1025.06" cy="493.31" r="1.75" fill="#D3D3D3" fill-opacity="0.85"/>
<circle cx="1016.6" cy="492.3" r="1.75" fill="#D3D3D3" fill-opacity="0.85"/>
<circle cx="1020.9" cy="492.24" r="1.75" fill="#D3D3D3" fill-opacity="0.85"/>
<circle cx="1011.47" cy="489.9" r="1.75" fill="#D3D3D3" fill-opacity="0.85"/>
<circle cx="1027.66" cy="489.38" r="1.75" fill="#D3D3D3" fill-opacity="0.85"/>
<circle cx="1021.43" cy="487.7" r="1.75" fill="#D3D3D3" fill-opacity="0.85"/>
<circle cx="1012.8" cy="485.81" r="1.75" fill="#D3D3D3" fill-opacity="0.85"/>
<circle cx="1025.47" cy="485.68" r="1.75" fill="#D3D3D3" fill-opacity="0.85"/>
<circle cx="1019.6" cy="483.8" r="1.75" fill="#D3D3D3" fill-opacity="0.85"/>
<circle cx="1027.75" cy="482.01" r="1.75" fill="#D3D3D3" fill-opacity="0.85"/>
<circle cx="1023.45" cy="481.88" r="1.75" fill="#D3D3D3" fill-opacity="0.85"/>
<circle cx="1017" cy="480.23" r="1.75" fill="#D3D3D3" fill-opacity="0.85"/>
<circle cx="1020.9" cy="478.42" r="1.75" fill="#D3D3D3" fill-opacity="0.85"/>
<circle cx="1013.87" cy="476.47" r="1.75" fill="#D3D3D3" fill-opacity="0.85"/>
<circle cx="1017.57" cy="474.29" r="1.75" fill="#D3D3D3" fill-opacity="0.85"/>
<circle cx="1020.9" cy="471.57" r="1.75" fill="#D3D3D3" fill-opacity="0.85"/>
<circle cx="1024.62" cy="469.39" r="1.75" fill="#D3D3D3" fill-opacity="0.85"/>
<circle cx="1020.9" cy="467.24" r="1.75" fill="#D3D3D3" fill-opacity="0.85"/>
<circle cx="1020.9" cy="460.32" r="1.75" fill="#D3D3D3" fill-opacity="0.85"/>
<circle cx="1016.8" cy="487.38" r="1.9" fill="#FFD265"/>
<circle cx="1025.4" cy="476.38" r="1.95" fill="#D7263D"/>
<line x1="1010.7" x2="1031.1" y1="500.63" y2="500.63" stroke="#333" stroke-width="1.5"/>
<circle cx="1061.7" cy="606.46" r="1.75" fill="#D3D3D3" fill-opacity="0.85"/>
<circle cx="1061.7" cy="600.51" r="1.75" fill="#D3D3D3" fill-opacity="0.85"/>
<circle cx="1059.66" cy="595.26" r="1.75" fill="#D3D3D3" fill-opacity="0.85"/>
<circle cx="1063.88" cy="594.44" r="1.75" fill="#D3D3D3" fill-opacity="0.85"/>
<circle cx="1057.45" cy="591.41" r="1.75" fill="#D3D3D3" fill-opacity="0.85"/>
<circle cx="1061.7" cy="590.74" r="1.75" fill="#D3D3D3" fill-opacity="0.85"/>
<circle cx="1065.61" cy="587.42" r="1.75" fill="#D3D3D3" fill-opacity="0.85"/>
<circle cx="1061.7" cy="585.62" r="1.75" fill="#D3D3D3" fill-opacity="0.85"/>
<circle cx="1073.42" cy="584.8" r="1.75" fill="#D3D3D3" fill-opacity="0.85"/>
<circle cx="1053.85" cy="584.53" r="1.75" fill="#D3D3D3" fill-opacity="0.85"/>
<circle cx="1058.01" cy="583.42" r="1.75" fill="#D3D3D3" fill-opacity="0.85"/>
<circle cx="1070.26" cy="581.88" r="1.75" fill="#D3D3D3" fill-opacity="0.85"/>
<circle cx="1065.96" cy="581.77" r="1.75" fill="#D3D3D3" fill-opacity="0.85"/>
<circle cx="1061.7" cy="581.22" r="1.75" fill="#D3D3D3" fill-opacity="0.85"/>
<circle cx="1073.84" cy="579.36" r="1.75" fill="#D3D3D3" fill-opacity="0.85"/>
<circle cx="1053.85" cy="579.29" r="1.75" fill="#D3D3D3" fill-opacity="0.85"/>
<circle cx="1058.01" cy="578.18" r="1.75" fill="#D3D3D3" fill-opacity="0.85"/>
<circle cx="1070.19" cy="577.08" r="1.75" fill="#D3D3D3" fill-opacity="0.85"/>
<circle cx="1065.89" cy="576.94" r="1.75" fill="#D3D3D3" fill-opacity="0.85"/>
<circle cx="1061.7" cy="575.98" r="1.75" fill="#D3D3D3" fill-opacity="0.85"/>
<circle cx="1054.95" cy="574.57" r="1.75" fill="#D3D3D3" fill-opacity="0.85"/>
<circle cx="1068.3" cy="573.22" r="1.75" fill="#D3D3D3" fill-opacity="0.85"/>
<circle cx="1058.55" cy="572.22" r="1.75" fill="#D3D3D3" fill-opacity="0.85"/>
<circle cx="1064.22" cy="571.85" r="1.75" fill="#D3D3D3" fill-opacity="0.85"/>
<circle cx="1073.16" cy="569.82" r="1.75" fill="#D3D3D3" fill-opacity="0.85"/>
<circle cx="1061.17" cy="568.81" r="1.75" fill="#D3D3D3" fill-opacity="0.85"/>
<circle cx="1053.82" cy="567.99" r="1.75" fill="#D3D3D3" fill-opacity="0.85"/>
<circle cx="1069.68" cy="567.29" r="1.75" fill="#D3D3D3" fill-opacity="0.85"/>
<circle cx="1065.4" cy="566.88" r="1.75" fill="#D3D3D3" fill-opacity="0.85"/>
<circle cx="1057.51" cy="565.78" r="1.75" fill="#D3D3D3" fill-opacity="0.85"/>
<circle cx="1061.78" cy="564.56" r="1.75" fill="#D3D3D3" fill-opacity="0.85"/>
<circle cx="1068.97" cy="563.03" r="1.75" fill="#D3D3D3" fill-opacity="0.85"/>
<circle cx="1054.42" cy="562.48" r="1.75" fill="#D3D3D3" fill-opacity="0.85"/>
<circle cx="1058.63" cy="561.63" r="1.75" fill="#D3D3D3" fill-opacity="0.85"/>
<circle cx="1065.67" cy="560.27" r="1.75" fill="#D3D3D3" fill-opacity="0.85"/>
<circle cx="1052.04" cy="558.65" r="1.75" fill="#D3D3D3" fill-opacity="0.85"/>
<circle cx="1061.7" cy="558.62" r="1.75" fill="#D3D3D3" fill-opacity="0.85"/>
<circle cx="1070.71" cy="556.69" r="1.75" fill="#D3D3D3" fill-opacity="0.85"/>
<circle cx="1055.22" cy="555.76" r="1.75" fill="#D3D3D3" fill-opacity="0.85"/>
<circle cx="1066.87" cy="554.76" r="1.75" fill="#D3D3D3" fill-opacity="0.85"/>
<circle cx="1058.52" cy="553" r="1.75" fill="#D3D3D3" fill-opacity="0.85"/>
<circle cx="1065.8" cy="550.28" r="1.75" fill="#D3D3D3" fill-opacity="0.85"/>
<circle cx="1055.69" cy="549.52" r="1.75" fill="#D3D3D3" fill-opacity="0.85"/>
<circle cx="1050.82" cy="548.15" r="1.75" fill="#D3D3D3" fill-opacity="0.85"/>
<circle cx="1069.46" cy="547.37" r="1.75" fill="#D3D3D3" fill-opacity="0.85"/>
<circle cx="1059.38" cy="547.32" r="1.75" fill="#D3D3D3" fill-opacity="0.85"/>
<circle cx="1063.6" cy="546.49" r="1.75" fill="#D3D3D3" fill-opacity="0.85"/>
<circle cx="1053.57" cy="544.84" r="1.75" fill="#D3D3D3" fill-opacity="0.85"/>
<circle cx="1067.71" cy="543.44" r="1.75" fill="#D3D3D3" fill-opacity="0.85"/>
<circle cx="1057.41" cy="542.91" r="1.75" fill="#D3D3D3" fill-opacity="0.85"/>
<circle cx="1061.7" cy="542.63" r="1.75" fill="#D3D3D3" fill-opacity="0.85"/>
<circle cx="1065.77" cy="539.6" r="1.75" fill="#D3D3D3" fill-opacity="0.85"/>
<circle cx="1061.7" cy="538.22" r="1.75" fill="#D3D3D3" fill-opacity="0.85"/>
<circle cx="1063.3" cy="532.29" r="1.9" fill="#FFD265"/>
<circle cx="1062.8" cy="553.36" r="1.95" fill="#D7263D"/>
<line x1="1051.5" x2="1071.9" y1="567.27" y2="567.27" stroke="#333" stroke-width="1.5"/>
<circle cx="1102.5" cy="635.56" r="1.75" fill="#D3D3D3" fill-opacity="0.85"/>
<circle cx="1105.89" cy="632.4" r="1.75" fill="#D3D3D3" fill-opacity="0.85"/>
<circle cx="1102.5" cy="629.75" r="1.75" fill="#D3D3D3" fill-opacity="0.85"/>
<circle cx="1106.79" cy="622.21" r="1.75" fill="#D3D3D3" fill-opacity="0.85"/>
<circle cx="1102.5" cy="621.96" r="1.75" fill="#D3D3D3" fill-opacity="0.85"/>
<circle cx="1093.06" cy="618.8" r="1.75" fill="#D3D3D3" fill-opacity="0.85"/>
<circle cx="1097.36" cy="618.76" r="1.75" fill="#D3D3D3" fill-opacity="0.85"/>
<circle cx="1108.68" cy="616.47" r="1.75" fill="#D3D3D3" fill-opacity="0.85"/>
<circle cx="1100.74" cy="616.1" r="1.75" fill="#D3D3D3" fill-opacity="0.85"/>
<circle cx="1094.93" cy="614.82" r="1.75" fill="#D3D3D3" fill-opacity="0.85"/>
<circle cx="1104.79" cy="614.64" r="1.75" fill="#D3D3D3" fill-opacity="0.85"/>
<circle cx="1113.77" cy="613.06" r="1.75" fill="#D3D3D3" fill-opacity="0.85"/>
<circle cx="1098.39" cy="612.27" r="1.75" fill="#D3D3D3" fill-opacity="0.85"/>
<circle cx="1107.92" cy="611.61" r="1.75" fill="#D3D3D3" fill-opacity="0.85"/>
<circle cx="1102.5" cy="611" r="1.75" fill="#D3D3D3" fill-opacity="0.85"/>
<circle cx="1088.44" cy="610.27" r="1.75" fill="#D3D3D3" fill-opacity="0.85"/>
<circle cx="1094.02" cy="609.73" r="1.75" fill="#D3D3D3" fill-opacity="0.85"/>
<circle cx="1112.4" cy="608.98" r="1.75" fill="#D3D3D3" fill-opacity="0.85"/>
<circle cx="1105.68" cy="607.94" r="1.75" fill="#D3D3D3" fill-opacity="0.85"/>
<circle cx="1118.35" cy="607.75" r="1.75" fill="#D3D3D3" fill-opacity="0.85"/>
<circle cx="1097.66" cy="607.43" r="1.75" fill="#D3D3D3" fill-opacity="0.85"/>
<circle cx="1090.6" cy="606.55" r="1.75" fill="#D3D3D3" fill-opacity="0.85"/>
<circle cx="1101.76" cy="606.16" r="1.75" fill="#D3D3D3" fill-opacity="0.85"/>
<circle cx="1114.77" cy="605.37" r="1.75" fill="#D3D3D3" fill-opacity="0.85"/>
<circle cx="1110.47" cy="605.14" r="1.75" fill="#D3D3D3" fill-opacity="0.85"/>
<circle cx="1094.21" cy="604.22" r="1.75" fill="#D3D3D3" fill-opacity="0.85"/>
<circle cx="1106.45" cy="603.61" r="1.75" fill="#D3D3D3" fill-opacity="0.85"/>
<circle cx="1098.36" cy="603.07" r="1.75" fill="#D3D3D3" fill-opacity="0.85"/>
<circle cx="1102.5" cy="601.92" r="1.75" fill="#D3D3D3" fill-opacity="0.85"/>
<circle cx="1090.19" cy="601.06" r="1.75" fill="#D3D3D3" fill-opacity="0.85"/>
<circle cx="1110.2" cy="600.75" r="1.75" fill="#D3D3D3" fill-opacity="0.85"/>
<circle cx="1114.54" cy="600.3" r="1.75" fill="#D3D3D3" fill-opacity="0.85"/>
<circle cx="1094.22" cy="599.56" r="1.75" fill="#D3D3D3" fill-opacity="0.85"/>
<circle cx="1098.39" cy="598.51" r="1.75" fill="#D3D3D3" fill-opacity="0.85"/>
<circle cx="1106.67" cy="598.3" r="1.75" fill="#D3D3D3" fill-opacity="0.85"/>
<circle cx="1102.5" cy="597.24" r="1.75" fill="#D3D3D3" fill-opacity="0.85"/>
<circle cx="1090.54" cy="595.46" r="1.75" fill="#D3D3D3" fill-opacity="0.85"/>
<circle cx="1094.83" cy="595.2" r="1.75" fill="#D3D3D3" fill-opacity="0.85"/>
<circle cx="1098.93" cy="593.93" r="1.75" fill="#D3D3D3" fill-opacity="0.85"/>
<circle cx="1106.2" cy="593.72" r="1.75" fill="#D3D3D3" fill-opacity="0.85"/>
<circle cx="1102.5" cy="591.52" r="1.75" fill="#D3D3D3" fill-opacity="0.85"/>
<circle cx="1090.59" cy="588.49" r="1.75" fill="#D3D3D3" fill-opacity="0.85"/>
<circle cx="1110.21" cy="588.07" r="1.75" fill="#D3D3D3" fill-opacity="0.85"/>
<circle cx="1094.79" cy="587.56" r="1.75" fill="#D3D3D3" fill-opacity="0.85"/>
<circle cx="1099.02" cy="586.79" r="1.75" fill="#D3D3D3" fill-opacity="0.85"/>
<circle cx="1106.42" cy="586.03" r="1.75" fill="#D3D3D3" fill-opacity="0.85"/>
<circle cx="1102.5" cy="584.27" r="1.75" fill="#D3D3D3" fill-opacity="0.85"/>
<circle cx="1096.04" cy="581.7" r="1.75" fill="#D3D3D3" fill-opacity="0.85"/>
<circle cx="1099.95" cy="579.91" r="1.75" fill="#D3D3D3" fill-opacity="0.85"/>
<circle cx="1105.87" cy="579.11" r="1.75" fill="#D3D3D3" fill-opacity="0.85"/>
<circle cx="1102.5" cy="576.45" r="1.75" fill="#D3D3D3" fill-opacity="0.85"/>
<circle cx="1105.76" cy="569.72" r="1.75" fill="#D3D3D3" fill-opacity="0.85"/>
<circle cx="1102.5" cy="566.92" r="1.75" fill="#D3D3D3" fill-opacity="0.85"/>
<circle cx="1112.2" cy="596.69" r="1.9" fill="#FFD265"/>
<line x1="1092.3" x2="1112.7" y1="602.25" y2="602.25" stroke="#333" stroke-width="1.5"/>
<text x="849.5" y="392.5" font-size="11" fill="#D7263D" text-anchor="end" font-weight="bold">2025</text>
<text x="810.4" y="445.3" font-size="11" fill="#111" text-anchor="start" font-weight="bold">mean</text>
<text x="871" y="440.2" font-size="11" fill="#FFD46E" text-anchor="start" font-weight="bold">2024</text>
</g>
<g id="p6">
<text x="1177.35" y="367.1" font-size="8.0" fill="#262626" text-anchor="start">Jan</text>
<line x1="1237.74" x2="1237.74" y1="371.9" y2="427.75" stroke="#BD7EC2" stroke-opacity="0.13" stroke-width="0.8"/>
<line x1="1249.49" x2="1249.49" y1="371.9" y2="427.75" stroke="#C274BD" stroke-opacity="0.13" stroke-width="0.8"/>
<line x1="1259.08" x2="1259.08" y1="371.9" y2="427.75" stroke="#C46FB8" stroke-opacity="0.13" stroke-width="0.8"/>
<line x1="1267.59" x2="1267.59" y1="371.9" y2="427.75" stroke="#AD65B1" stroke-opacity="0.13" stroke-width="0.8"/>
<line x1="1275.28" x2="1275.28" y1="371.9" y2="427.75" stroke="#965BAA" stroke-opacity="0.13" stroke-width="0.8"/>
<line x1="1282.5" x2="1282.5" y1="371.9" y2="427.75" stroke="#7853A2" stroke-opacity="0.13" stroke-width="0.8"/>
<line x1="1289.38" x2="1289.38" y1="371.9" y2="427.75" stroke="#5B4D9C" stroke-opacity="0.13" stroke-width="0.8"/>
<line x1="1296.01" x2="1296.01" y1="371.9" y2="427.75" stroke="#4D499A" stroke-opacity="0.13" stroke-width="0.8"/>
<line x1="1302.54" x2="1302.54" y1="371.9" y2="427.75" stroke="#474A9D" stroke-opacity="0.13" stroke-width="0.8"/>
<line x1="1309.42" x2="1309.42" y1="371.9" y2="427.75" stroke="#444EA2" stroke-opacity="0.13" stroke-width="0.8"/>
<line x1="1317.6" x2="1317.6" y1="371.9" y2="427.75" stroke="#4252A6" stroke-opacity="0.13" stroke-width="0.8"/>
<line x1="1330.43" x2="1330.43" y1="371.9" y2="427.75" stroke="#4058AC" stroke-opacity="0.13" stroke-width="0.8"/>
<line x1="1175.62" x2="1175.62" y1="371.9" y2="427.75" stroke="#C1D2EA" stroke-opacity="0.44" stroke-width="0.9"/>
<line x1="1193.12" x2="1193.12" y1="371.9" y2="427.75" stroke="#B6BEE1" stroke-opacity="0.26" stroke-width="0.8"/>
<line x1="1204.38" x2="1204.38" y1="371.9" y2="427.75" stroke="#AFAED8" stroke-opacity="0.26" stroke-width="0.8"/>
<line x1="1205.25" x2="1205.25" y1="371.9" y2="427.75" stroke="#AEACD7" stroke-opacity="0.26" stroke-width="0.8"/>
<line x1="1214.38" x2="1214.38" y1="371.9" y2="427.75" stroke="#AA9FD0" stroke-opacity="0.44" stroke-width="0.9"/>
<line x1="1215.25" x2="1215.25" y1="371.9" y2="427.75" stroke="#AA9ECF" stroke-opacity="0.26" stroke-width="0.8"/>
<line x1="1221.25" x2="1221.25" y1="371.9" y2="427.75" stroke="#AF95CC" stroke-opacity="0.26" stroke-width="0.8"/>
<line x1="1223.75" x2="1223.75" y1="371.9" y2="427.75" stroke="#B192CA" stroke-opacity="0.26" stroke-width="0.8"/>
<line x1="1226.25" x2="1226.25" y1="371.9" y2="427.75" stroke="#B38EC9" stroke-opacity="0.26" stroke-width="0.8"/>
<line x1="1228.75" x2="1228.75" y1="371.9" y2="427.75" stroke="#B58BC7" stroke-opacity="0.26" stroke-width="0.8"/>
<line x1="1235" x2="1235" y1="371.9" y2="427.75" stroke="#BA82C4" stroke-opacity="0.26" stroke-width="0.8"/>
<line x1="1242.12" x2="1242.12" y1="371.9" y2="427.75" stroke="#C078C0" stroke-opacity="0.44" stroke-width="0.9"/>
<line x1="1243.12" x2="1243.12" y1="371.9" y2="427.75" stroke="#C077BF" stroke-opacity="0.44" stroke-width="0.9"/>
<line x1="1247.5" x2="1247.5" y1="371.9" y2="427.75" stroke="#C175BE" stroke-opacity="0.26" stroke-width="0.8"/>
<line x1="1250" x2="1250" y1="371.9" y2="427.75" stroke="#C274BC" stroke-opacity="0.26" stroke-width="0.8"/>
<line x1="1251.25" x2="1251.25" y1="371.9" y2="427.75" stroke="#C273BC" stroke-opacity="0.26" stroke-width="0.8"/>
<line x1="1252.5" x2="1252.5" y1="371.9" y2="427.75" stroke="#C273BB" stroke-opacity="0.44" stroke-width="0.9"/>
<line x1="1255" x2="1255" y1="371.9" y2="427.75" stroke="#C371BA" stroke-opacity="0.26" stroke-width="0.8"/>
<line x1="1258.12" x2="1258.12" y1="371.9" y2="427.75" stroke="#C470B9" stroke-opacity="0.44" stroke-width="0.9"/>
<line x1="1258.75" x2="1258.75" y1="371.9" y2="427.75" stroke="#C46FB8" stroke-opacity="0.26" stroke-width="0.8"/>
<line x1="1261.25" x2="1261.25" y1="371.9" y2="427.75" stroke="#BF6DB7" stroke-opacity="0.26" stroke-width="0.8"/>
<line x1="1264.38" x2="1264.38" y1="371.9" y2="427.75" stroke="#B669B4" stroke-opacity="0.44" stroke-width="0.9"/>
<line x1="1265" x2="1265" y1="371.9" y2="427.75" stroke="#B468B3" stroke-opacity="0.44" stroke-width="0.9"/>
<line x1="1268.75" x2="1268.75" y1="371.9" y2="427.75" stroke="#A963B0" stroke-opacity="0.26" stroke-width="0.8"/>
<line x1="1270.62" x2="1270.62" y1="371.9" y2="427.75" stroke="#A461AE" stroke-opacity="0.26" stroke-width="0.8"/>
<line x1="1275" x2="1275" y1="371.9" y2="427.75" stroke="#975BAA" stroke-opacity="0.26" stroke-width="0.8"/>
<line x1="1278.75" x2="1278.75" y1="371.9" y2="427.75" stroke="#8A57A6" stroke-opacity="0.26" stroke-width="0.8"/>
<line x1="1283.12" x2="1283.12" y1="371.9" y2="427.75" stroke="#7553A1" stroke-opacity="0.26" stroke-width="0.8"/>
<line x1="1286.88" x2="1286.88" y1="371.9" y2="427.75" stroke="#634F9D" stroke-opacity="0.26" stroke-width="0.8"/>
<line x1="1288.12" x2="1288.12" y1="371.9" y2="427.75" stroke="#5E4E9C" stroke-opacity="0.26" stroke-width="0.8"/>
<line x1="1291.25" x2="1291.25" y1="371.9" y2="427.75" stroke="#574C9B" stroke-opacity="0.66" stroke-width="1.3"/>
<line x1="1292.25" x2="1292.25" y1="371.9" y2="427.75" stroke="#554C9B" stroke-opacity="0.66" stroke-width="1.3"/>
<line x1="1302.5" x2="1302.5" y1="371.9" y2="427.75" stroke="#474A9D" stroke-opacity="0.26" stroke-width="0.8"/>
<line x1="1305" x2="1305" y1="371.9" y2="427.75" stroke="#464C9F" stroke-opacity="0.26" stroke-width="0.8"/>
<line x1="1310.62" x2="1310.62" y1="371.9" y2="427.75" stroke="#444FA2" stroke-opacity="0.26" stroke-width="0.8"/>
<line x1="1315" x2="1315" y1="371.9" y2="427.75" stroke="#4351A5" stroke-opacity="0.26" stroke-width="0.8"/>
<line x1="1324.38" x2="1324.38" y1="371.9" y2="427.75" stroke="#4155A9" stroke-opacity="0.26" stroke-width="0.8"/>
<line x1="1325.38" x2="1325.38" y1="371.9" y2="427.75" stroke="#4156AA" stroke-opacity="0.44" stroke-width="0.9"/>
<line x1="1327.5" x2="1327.5" y1="371.9" y2="427.75" stroke="#4057AB" stroke-opacity="0.26" stroke-width="0.8"/>
<line x1="1338.12" x2="1338.12" y1="371.9" y2="427.75" stroke="#405CAF" stroke-opacity="0.26" stroke-width="0.8"/>
<line x1="1339.38" x2="1339.38" y1="371.9" y2="427.75" stroke="#3F5DAF" stroke-opacity="0.26" stroke-width="0.8"/>
<line x1="1344.62" x2="1344.62" y1="371.9" y2="427.75" stroke="#3F60B1" stroke-opacity="0.44" stroke-width="0.9"/>
<text x="1177.72" y="393.2" font-size="6.2" fill="#C1D2EA" text-anchor="start" transform="rotate(-90 1177.72 393.2)" fill-opacity="1">1985</text>
<text x="1216.47" y="393.2" font-size="6.2" fill="#AA9FD0" text-anchor="start" transform="rotate(-90 1216.47 393.2)" fill-opacity="1">1971</text>
<text x="1327.47" y="393.2" font-size="6.2" fill="#4156AA" text-anchor="start" transform="rotate(-90 1327.47 393.2)" fill-opacity="1">2014</text>
<text x="1346.72" y="393.2" font-size="6.2" fill="#3F60B1" text-anchor="start" transform="rotate(-90 1346.72 393.2)" fill-opacity="1">2016</text>
<line x1="1318.5" x2="1318.5" y1="374.9" y2="427.75" stroke="#4253A7" stroke-opacity="0.88" stroke-width="1.2"/>
<text x="1320.6" y="372.1" font-size="6.2" fill="#4253A7" text-anchor="start" transform="rotate(-90 1320.6 372.1)" fill-opacity="0.88">2025</text>
<path d="M1176.25 425.25C1178.54 424.62 1185.21 422.75 1190 421.5C1194.79 420.25 1200.83 418.83 1205 417.75C1209.17 416.67 1211.88 416.12 1215 415C1218.12 413.88 1220.83 412.54 1223.75 411C1226.67 409.46 1229.38 407.69 1232.5 405.75C1235.62 403.81 1239.58 401.06 1242.5 399.38C1245.42 397.69 1247.5 396.56 1250 395.62C1252.5 394.69 1255 394.12 1257.5 393.75C1260 393.38 1262.5 393.27 1265 393.38C1267.5 393.48 1269.58 393.85 1272.5 394.38C1275.42 394.9 1279.17 395.85 1282.5 396.5C1285.83 397.15 1289.17 397.71 1292.5 398.25C1295.83 398.79 1299.58 399.21 1302.5 399.75C1305.42 400.29 1307.33 400.71 1310 401.5C1312.67 402.29 1315.58 403.29 1318.5 404.5C1321.42 405.71 1324.54 407.25 1327.5 408.75C1330.46 410.25 1333.4 412.04 1336.25 413.5C1339.1 414.96 1343.23 416.83 1344.62 417.5" fill="none" stroke="#222" stroke-width="1.15" stroke-linecap="butt"/>
<circle cx="1267.25" cy="428.1" r="1.75" fill="#fff" stroke="#000" stroke-width="1.35"/>
<text x="1206.62" y="437.05" font-size="6.4" fill="#777" text-anchor="middle">6</text>
<text x="1242" y="437.05" font-size="6.4" fill="#777" text-anchor="middle">7</text>
<text x="1277.38" y="437.05" font-size="6.4" fill="#777" text-anchor="middle">8</text>
<text x="1312.75" y="437.05" font-size="6.4" fill="#777" text-anchor="middle">9</text>
<text x="1354.22" y="367.1" font-size="8.0" fill="#262626" text-anchor="start">Feb</text>
<line x1="1372.35" x2="1372.35" y1="371.9" y2="427.75" stroke="#B689C7" stroke-opacity="0.13" stroke-width="0.8"/>
<line x1="1388.19" x2="1388.19" y1="371.9" y2="427.75" stroke="#C275BD" stroke-opacity="0.13" stroke-width="0.8"/>
<line x1="1396.4" x2="1396.4" y1="371.9" y2="427.75" stroke="#C470B8" stroke-opacity="0.13" stroke-width="0.8"/>
<line x1="1402.81" x2="1402.81" y1="371.9" y2="427.75" stroke="#B166B2" stroke-opacity="0.13" stroke-width="0.8"/>
<line x1="1408.56" x2="1408.56" y1="371.9" y2="427.75" stroke="#9C5DAC" stroke-opacity="0.13" stroke-width="0.8"/>
<line x1="1414.09" x2="1414.09" y1="371.9" y2="427.75" stroke="#8456A5" stroke-opacity="0.13" stroke-width="0.8"/>
<line x1="1419.74" x2="1419.74" y1="371.9" y2="427.75" stroke="#644F9E" stroke-opacity="0.13" stroke-width="0.8"/>
<line x1="1425.8" x2="1425.8" y1="371.9" y2="427.75" stroke="#524B9B" stroke-opacity="0.13" stroke-width="0.8"/>
<line x1="1432.43" x2="1432.43" y1="371.9" y2="427.75" stroke="#474A9C" stroke-opacity="0.13" stroke-width="0.8"/>
<line x1="1439.66" x2="1439.66" y1="371.9" y2="427.75" stroke="#444FA2" stroke-opacity="0.13" stroke-width="0.8"/>
<line x1="1447.09" x2="1447.09" y1="371.9" y2="427.75" stroke="#4253A7" stroke-opacity="0.13" stroke-width="0.8"/>
<line x1="1454.36" x2="1454.36" y1="371.9" y2="427.75" stroke="#4057AB" stroke-opacity="0.13" stroke-width="0.8"/>
<line x1="1461.22" x2="1461.22" y1="371.9" y2="427.75" stroke="#405BAE" stroke-opacity="0.13" stroke-width="0.8"/>
<line x1="1467.65" x2="1467.65" y1="371.9" y2="427.75" stroke="#3F60B1" stroke-opacity="0.13" stroke-width="0.8"/>
<line x1="1473.69" x2="1473.69" y1="371.9" y2="427.75" stroke="#4064B3" stroke-opacity="0.13" stroke-width="0.8"/>
<line x1="1479.53" x2="1479.53" y1="371.9" y2="427.75" stroke="#4167B5" stroke-opacity="0.13" stroke-width="0.8"/>
<line x1="1485.44" x2="1485.44" y1="371.9" y2="427.75" stroke="#426AB6" stroke-opacity="0.13" stroke-width="0.8"/>
<line x1="1491.84" x2="1491.84" y1="371.9" y2="427.75" stroke="#446EB8" stroke-opacity="0.13" stroke-width="0.8"/>
<line x1="1499.41" x2="1499.41" y1="371.9" y2="427.75" stroke="#4672BB" stroke-opacity="0.13" stroke-width="0.8"/>
<line x1="1510.4" x2="1510.4" y1="371.9" y2="427.75" stroke="#497BBF" stroke-opacity="0.13" stroke-width="0.8"/>
<line x1="1352.12" x2="1352.12" y1="371.9" y2="427.75" stroke="#AEACD7" stroke-opacity="0.44" stroke-width="0.9"/>
<line x1="1356.88" x2="1356.88" y1="371.9" y2="427.75" stroke="#ABA4D2" stroke-opacity="0.26" stroke-width="0.8"/>
<line x1="1368.75" x2="1368.75" y1="371.9" y2="427.75" stroke="#B38FC9" stroke-opacity="0.26" stroke-width="0.8"/>
<line x1="1380.25" x2="1380.25" y1="371.9" y2="427.75" stroke="#BE7CC2" stroke-opacity="0.26" stroke-width="0.8"/>
<line x1="1383.12" x2="1383.12" y1="371.9" y2="427.75" stroke="#C078C0" stroke-opacity="0.44" stroke-width="0.9"/>
<line x1="1385" x2="1385" y1="371.9" y2="427.75" stroke="#C177BF" stroke-opacity="0.26" stroke-width="0.8"/>
<line x1="1386.88" x2="1386.88" y1="371.9" y2="427.75" stroke="#C175BE" stroke-opacity="0.26" stroke-width="0.8"/>
<line x1="1388.75" x2="1388.75" y1="371.9" y2="427.75" stroke="#C274BD" stroke-opacity="0.26" stroke-width="0.8"/>
<line x1="1395.62" x2="1395.62" y1="371.9" y2="427.75" stroke="#C470B9" stroke-opacity="0.26" stroke-width="0.8"/>
<line x1="1398.12" x2="1398.12" y1="371.9" y2="427.75" stroke="#C16EB7" stroke-opacity="0.44" stroke-width="0.9"/>
<line x1="1399" x2="1399" y1="371.9" y2="427.75" stroke="#BE6CB6" stroke-opacity="0.44" stroke-width="0.9"/>
<line x1="1405" x2="1405" y1="371.9" y2="427.75" stroke="#A963B0" stroke-opacity="0.26" stroke-width="0.8"/>
<line x1="1408.12" x2="1408.12" y1="371.9" y2="427.75" stroke="#9E5EAC" stroke-opacity="0.26" stroke-width="0.8"/>
<line x1="1415" x2="1415" y1="371.9" y2="427.75" stroke="#7F55A4" stroke-opacity="0.66" stroke-width="1.3"/>
<line x1="1416.88" x2="1416.88" y1="371.9" y2="427.75" stroke="#7553A1" stroke-opacity="0.26" stroke-width="0.8"/>
<line x1="1420" x2="1420" y1="371.9" y2="427.75" stroke="#634F9D" stroke-opacity="0.26" stroke-width="0.8"/>
<line x1="1423.12" x2="1423.12" y1="371.9" y2="427.75" stroke="#584C9B" stroke-opacity="0.26" stroke-width="0.8"/>
<line x1="1426.25" x2="1426.25" y1="371.9" y2="427.75" stroke="#514A9B" stroke-opacity="0.26" stroke-width="0.8"/>
<line x1="1428.75" x2="1428.75" y1="371.9" y2="427.75" stroke="#4A499A" stroke-opacity="0.26" stroke-width="0.8"/>
<line x1="1433.75" x2="1433.75" y1="371.9" y2="427.75" stroke="#464B9D" stroke-opacity="0.26" stroke-width="0.8"/>
<line x1="1441.25" x2="1441.25" y1="371.9" y2="427.75" stroke="#4350A4" stroke-opacity="0.44" stroke-width="0.9"/>
<line x1="1446.25" x2="1446.25" y1="371.9" y2="427.75" stroke="#4253A7" stroke-opacity="0.26" stroke-width="0.8"/>
<line x1="1447.5" x2="1447.5" y1="371.9" y2="427.75" stroke="#4253A7" stroke-opacity="0.26" stroke-width="0.8"/>
<line x1="1452.5" x2="1452.5" y1="371.9" y2="427.75" stroke="#4156AA" stroke-opacity="0.26" stroke-width="0.8"/>
<line x1="1455.25" x2="1455.25" y1="371.9" y2="427.75" stroke="#4057AB" stroke-opacity="0.44" stroke-width="0.9"/>
<line x1="1463.12" x2="1463.12" y1="371.9" y2="427.75" stroke="#405DAF" stroke-opacity="0.26" stroke-width="0.8"/>
<line x1="1467.5" x2="1467.5" y1="371.9" y2="427.75" stroke="#3F60B1" stroke-opacity="0.26" stroke-width="0.8"/>
<line x1="1480.62" x2="1480.62" y1="371.9" y2="427.75" stroke="#4168B5" stroke-opacity="0.26" stroke-width="0.8"/>
<line x1="1481.88" x2="1481.88" y1="371.9" y2="427.75" stroke="#4268B5" stroke-opacity="0.26" stroke-width="0.8"/>
<line x1="1485.62" x2="1485.62" y1="371.9" y2="427.75" stroke="#426AB6" stroke-opacity="0.26" stroke-width="0.8"/>
<line x1="1496.25" x2="1496.25" y1="371.9" y2="427.75" stroke="#4571BA" stroke-opacity="0.44" stroke-width="0.9"/>
<line x1="1502.5" x2="1502.5" y1="371.9" y2="427.75" stroke="#4775BC" stroke-opacity="0.26" stroke-width="0.8"/>
<line x1="1506.25" x2="1506.25" y1="371.9" y2="427.75" stroke="#4878BE" stroke-opacity="0.26" stroke-width="0.8"/>
<line x1="1520.62" x2="1520.62" y1="371.9" y2="427.75" stroke="#4C83C4" stroke-opacity="0.44" stroke-width="0.9"/>
<text x="1354.22" y="393.2" font-size="6.2" fill="#AEACD7" text-anchor="start" transform="rotate(-90 1354.22 393.2)" fill-opacity="1">2005</text>
<text x="1385.22" y="393.2" font-size="6.2" fill="#C078C0" text-anchor="start" transform="rotate(-90 1385.22 393.2)" fill-opacity="1">2018</text>
<text x="1498.35" y="393.2" font-size="6.2" fill="#4571BA" text-anchor="start" transform="rotate(-90 1498.35 393.2)" fill-opacity="1">1997</text>
<text x="1522.72" y="393.2" font-size="6.2" fill="#4C83C4" text-anchor="start" transform="rotate(-90 1522.72 393.2)" fill-opacity="1">1990</text>
<line x1="1473.38" x2="1473.38" y1="374.9" y2="427.75" stroke="#4063B3" stroke-opacity="0.88" stroke-width="1.2"/>
<text x="1475.47" y="372.1" font-size="6.2" fill="#4063B3" text-anchor="start" transform="rotate(-90 1475.47 372.1)" fill-opacity="0.88">2025</text>
<path d="M1352.5 422.25C1353.75 421.98 1357.29 421.31 1360 420.62C1362.71 419.94 1365.83 419.17 1368.75 418.12C1371.67 417.08 1374.58 415.77 1377.5 414.38C1380.42 412.98 1383.33 411.21 1386.25 409.75C1389.17 408.29 1392.29 406.67 1395 405.62C1397.71 404.58 1400 403.98 1402.5 403.5C1405 403.02 1407.5 402.79 1410 402.75C1412.5 402.71 1414.79 402.88 1417.5 403.25C1420.21 403.62 1423.33 404.4 1426.25 405C1429.17 405.6 1432.08 406.4 1435 406.88C1437.92 407.35 1440.83 407.65 1443.75 407.88C1446.67 408.1 1449.38 408.21 1452.5 408.25C1455.62 408.29 1459.17 408.21 1462.5 408.12C1465.83 408.04 1469.58 407.77 1472.5 407.75C1475.42 407.73 1477.5 407.73 1480 408C1482.5 408.27 1484.79 408.67 1487.5 409.38C1490.21 410.08 1493.33 411.15 1496.25 412.25C1499.17 413.35 1502.08 414.75 1505 416C1507.92 417.25 1511.15 418.71 1513.75 419.75C1516.35 420.79 1519.48 421.83 1520.62 422.25" fill="none" stroke="#222" stroke-width="1.15" stroke-linecap="butt"/>
<circle cx="1436.25" cy="428.1" r="1.75" fill="#fff" stroke="#000" stroke-width="1.35"/>
<text x="1353.12" y="437.05" font-size="6.4" fill="#777" text-anchor="middle">6</text>
<text x="1382.58" y="437.05" font-size="6.4" fill="#777" text-anchor="middle">7</text>
<text x="1412.03" y="437.05" font-size="6.4" fill="#777" text-anchor="middle">8</text>
<text x="1441.47" y="437.05" font-size="6.4" fill="#777" text-anchor="middle">9</text>
<text x="1470.92" y="437.05" font-size="6.4" fill="#777" text-anchor="middle">10</text>
<text x="1500.38" y="437.05" font-size="6.4" fill="#777" text-anchor="middle">11</text>
<text x="1530.6" y="367.1" font-size="8.0" fill="#262626" text-anchor="start">Mar</text>
<line x1="1609.64" x2="1609.64" y1="371.9" y2="427.75" stroke="#4064B3" stroke-opacity="0.13" stroke-width="0.8"/>
<line x1="1615.3" x2="1615.3" y1="371.9" y2="427.75" stroke="#4167B5" stroke-opacity="0.13" stroke-width="0.8"/>
<line x1="1619.16" x2="1619.16" y1="371.9" y2="427.75" stroke="#426AB6" stroke-opacity="0.13" stroke-width="0.8"/>
<line x1="1622.35" x2="1622.35" y1="371.9" y2="427.75" stroke="#436CB7" stroke-opacity="0.13" stroke-width="0.8"/>
<line x1="1625.15" x2="1625.15" y1="371.9" y2="427.75" stroke="#446DB8" stroke-opacity="0.13" stroke-width="0.8"/>
<line x1="1627.73" x2="1627.73" y1="371.9" y2="427.75" stroke="#446FB9" stroke-opacity="0.13" stroke-width="0.8"/>
<line x1="1630.17" x2="1630.17" y1="371.9" y2="427.75" stroke="#4571BA" stroke-opacity="0.13" stroke-width="0.8"/>
<line x1="1632.52" x2="1632.52" y1="371.9" y2="427.75" stroke="#4672BB" stroke-opacity="0.13" stroke-width="0.8"/>
<line x1="1634.84" x2="1634.84" y1="371.9" y2="427.75" stroke="#4674BC" stroke-opacity="0.13" stroke-width="0.8"/>
<line x1="1637.15" x2="1637.15" y1="371.9" y2="427.75" stroke="#4776BD" stroke-opacity="0.13" stroke-width="0.8"/>
<line x1="1639.5" x2="1639.5" y1="371.9" y2="427.75" stroke="#4878BE" stroke-opacity="0.13" stroke-width="0.8"/>
<line x1="1641.88" x2="1641.88" y1="371.9" y2="427.75" stroke="#487ABF" stroke-opacity="0.13" stroke-width="0.8"/>
<line x1="1644.36" x2="1644.36" y1="371.9" y2="427.75" stroke="#497CC0" stroke-opacity="0.13" stroke-width="0.8"/>
<line x1="1646.94" x2="1646.94" y1="371.9" y2="427.75" stroke="#4A7EC1" stroke-opacity="0.13" stroke-width="0.8"/>
<line x1="1649.62" x2="1649.62" y1="371.9" y2="427.75" stroke="#4B81C3" stroke-opacity="0.13" stroke-width="0.8"/>
<line x1="1652.44" x2="1652.44" y1="371.9" y2="427.75" stroke="#4C83C4" stroke-opacity="0.13" stroke-width="0.8"/>
<line x1="1655.38" x2="1655.38" y1="371.9" y2="427.75" stroke="#4D86C6" stroke-opacity="0.13" stroke-width="0.8"/>
<line x1="1658.51" x2="1658.51" y1="371.9" y2="427.75" stroke="#4D88C7" stroke-opacity="0.13" stroke-width="0.8"/>
<line x1="1661.93" x2="1661.93" y1="371.9" y2="427.75" stroke="#4F8DC9" stroke-opacity="0.13" stroke-width="0.8"/>
<line x1="1665.75" x2="1665.75" y1="371.9" y2="427.75" stroke="#5193CC" stroke-opacity="0.13" stroke-width="0.8"/>
<line x1="1670.28" x2="1670.28" y1="371.9" y2="427.75" stroke="#539BD0" stroke-opacity="0.13" stroke-width="0.8"/>
<line x1="1676.14" x2="1676.14" y1="371.9" y2="427.75" stroke="#54A3D3" stroke-opacity="0.13" stroke-width="0.8"/>
<line x1="1685.85" x2="1685.85" y1="371.9" y2="427.75" stroke="#52B1D8" stroke-opacity="0.13" stroke-width="0.8"/>
<line x1="1528.5" x2="1528.5" y1="371.9" y2="427.75" stroke="#C077BF" stroke-opacity="0.44" stroke-width="0.9"/>
<line x1="1557.5" x2="1557.5" y1="371.9" y2="427.75" stroke="#7A54A3" stroke-opacity="0.26" stroke-width="0.8"/>
<line x1="1562.5" x2="1562.5" y1="371.9" y2="427.75" stroke="#5D4E9C" stroke-opacity="0.26" stroke-width="0.8"/>
<line x1="1567.5" x2="1567.5" y1="371.9" y2="427.75" stroke="#4F4A9B" stroke-opacity="0.26" stroke-width="0.8"/>
<line x1="1584.38" x2="1584.38" y1="371.9" y2="427.75" stroke="#4252A6" stroke-opacity="0.44" stroke-width="0.9"/>
<line x1="1590.62" x2="1590.62" y1="371.9" y2="427.75" stroke="#4156AA" stroke-opacity="0.26" stroke-width="0.8"/>
<line x1="1595.62" x2="1595.62" y1="371.9" y2="427.75" stroke="#4059AD" stroke-opacity="0.26" stroke-width="0.8"/>
<line x1="1596.88" x2="1596.88" y1="371.9" y2="427.75" stroke="#405AAD" stroke-opacity="0.26" stroke-width="0.8"/>
<line x1="1600.62" x2="1600.62" y1="371.9" y2="427.75" stroke="#3F5DAF" stroke-opacity="0.26" stroke-width="0.8"/>
<line x1="1605.62" x2="1605.62" y1="371.9" y2="427.75" stroke="#3F61B1" stroke-opacity="0.26" stroke-width="0.8"/>
<line x1="1608.75" x2="1608.75" y1="371.9" y2="427.75" stroke="#3F63B3" stroke-opacity="0.26" stroke-width="0.8"/>
<line x1="1611" x2="1611" y1="371.9" y2="427.75" stroke="#4064B3" stroke-opacity="0.44" stroke-width="0.9"/>
<line x1="1613.75" x2="1613.75" y1="371.9" y2="427.75" stroke="#4166B4" stroke-opacity="0.26" stroke-width="0.8"/>
<line x1="1621.25" x2="1621.25" y1="371.9" y2="427.75" stroke="#436BB7" stroke-opacity="0.26" stroke-width="0.8"/>
<line x1="1623.75" x2="1623.75" y1="371.9" y2="427.75" stroke="#436DB8" stroke-opacity="0.26" stroke-width="0.8"/>
<line x1="1625.62" x2="1625.62" y1="371.9" y2="427.75" stroke="#446EB8" stroke-opacity="0.26" stroke-width="0.8"/>
<line x1="1628.12" x2="1628.12" y1="371.9" y2="427.75" stroke="#456FB9" stroke-opacity="0.26" stroke-width="0.8"/>
<line x1="1636.88" x2="1636.88" y1="371.9" y2="427.75" stroke="#4776BD" stroke-opacity="0.26" stroke-width="0.8"/>
<line x1="1638.75" x2="1638.75" y1="371.9" y2="427.75" stroke="#4877BD" stroke-opacity="0.26" stroke-width="0.8"/>
<line x1="1643.75" x2="1643.75" y1="371.9" y2="427.75" stroke="#497CC0" stroke-opacity="0.26" stroke-width="0.8"/>
<line x1="1645" x2="1645" y1="371.9" y2="427.75" stroke="#497DC1" stroke-opacity="0.26" stroke-width="0.8"/>
<line x1="1647.5" x2="1647.5" y1="371.9" y2="427.75" stroke="#4A7FC2" stroke-opacity="0.26" stroke-width="0.8"/>
<line x1="1650" x2="1650" y1="371.9" y2="427.75" stroke="#4B81C3" stroke-opacity="0.26" stroke-width="0.8"/>
<line x1="1652.5" x2="1652.5" y1="371.9" y2="427.75" stroke="#4C83C4" stroke-opacity="0.26" stroke-width="0.8"/>
<line x1="1656.88" x2="1656.88" y1="371.9" y2="427.75" stroke="#4D87C6" stroke-opacity="0.44" stroke-width="0.9"/>
<line x1="1662.5" x2="1662.5" y1="371.9" y2="427.75" stroke="#4F8ECA" stroke-opacity="0.26" stroke-width="0.8"/>
<line x1="1667.5" x2="1667.5" y1="371.9" y2="427.75" stroke="#5296CD" stroke-opacity="0.26" stroke-width="0.8"/>
<line x1="1675.62" x2="1675.62" y1="371.9" y2="427.75" stroke="#55A3D3" stroke-opacity="0.44" stroke-width="0.9"/>
<line x1="1686.25" x2="1686.25" y1="371.9" y2="427.75" stroke="#52B1D9" stroke-opacity="0.26" stroke-width="0.8"/>
<line x1="1695" x2="1695" y1="371.9" y2="427.75" stroke="#56B8D9" stroke-opacity="0.26" stroke-width="0.8"/>
<line x1="1696.88" x2="1696.88" y1="371.9" y2="427.75" stroke="#57BAD9" stroke-opacity="0.44" stroke-width="0.9"/>
<text x="1530.6" y="393.2" font-size="6.2" fill="#C077BF" text-anchor="start" transform="rotate(-90 1530.6 393.2)" fill-opacity="1">1971</text>
<text x="1586.47" y="393.2" font-size="6.2" fill="#4252A6" text-anchor="start" transform="rotate(-90 1586.47 393.2)" fill-opacity="1">1985</text>
<text x="1677.72" y="393.2" font-size="6.2" fill="#55A3D3" text-anchor="start" transform="rotate(-90 1677.72 393.2)" fill-opacity="1">1998</text>
<text x="1698.97" y="393.2" font-size="6.2" fill="#57BAD9" text-anchor="start" transform="rotate(-90 1698.97 393.2)" fill-opacity="1">2001</text>
<line x1="1633.38" x2="1633.38" y1="374.9" y2="427.75" stroke="#4673BB" stroke-opacity="0.88" stroke-width="1.2"/>
<text x="1635.47" y="372.1" font-size="6.2" fill="#4673BB" text-anchor="start" transform="rotate(-90 1635.47 372.1)" fill-opacity="0.88">2025</text>
<path d="M1528.5 427.75C1532.5 427.75 1544.75 427.79 1552.5 427.75C1560.25 427.71 1570 427.65 1575 427.5C1580 427.35 1580.21 427.29 1582.5 426.88C1584.79 426.46 1586.67 426.04 1588.75 425C1590.83 423.96 1592.71 422.6 1595 420.62C1597.29 418.65 1600 415.73 1602.5 413.12C1605 410.52 1607.5 407.81 1610 405C1612.5 402.19 1615 399.06 1617.5 396.25C1620 393.44 1622.71 390.17 1625 388.12C1627.29 386.08 1629.38 384.88 1631.25 384C1633.12 383.12 1634.58 382.98 1636.25 382.88C1637.92 382.77 1639.38 382.81 1641.25 383.38C1643.12 383.94 1645.21 384.83 1647.5 386.25C1649.79 387.67 1652.5 389.69 1655 391.88C1657.5 394.06 1660 396.88 1662.5 399.38C1665 401.88 1667.5 404.58 1670 406.88C1672.5 409.17 1675 411.46 1677.5 413.12C1680 414.79 1682.71 415.98 1685 416.88C1687.29 417.77 1689.27 418.04 1691.25 418.5C1693.23 418.96 1695.94 419.44 1696.88 419.62" fill="none" stroke="#222" stroke-width="1.15" stroke-linecap="butt"/>
<circle cx="1631.5" cy="428.1" r="1.75" fill="#fff" stroke="#000" stroke-width="1.35"/>
<text x="1527.5" y="437.05" font-size="6.4" fill="#777" text-anchor="middle">7</text>
<text x="1554.06" y="437.05" font-size="6.4" fill="#777" text-anchor="middle">8</text>
<text x="1580.62" y="437.05" font-size="6.4" fill="#777" text-anchor="middle">9</text>
<text x="1607.19" y="437.05" font-size="6.4" fill="#777" text-anchor="middle">10</text>
<text x="1633.75" y="437.05" font-size="6.4" fill="#777" text-anchor="middle">11</text>
<text x="1660.31" y="437.05" font-size="6.4" fill="#777" text-anchor="middle">12</text>
<text x="1686.88" y="437.05" font-size="6.4" fill="#777" text-anchor="middle">13</text>
<text x="1178.1" y="453.1" font-size="8.0" fill="#262626" text-anchor="start">Apr</text>
<line x1="1235.67" x2="1235.67" y1="457.9" y2="513.75" stroke="#4D87C6" stroke-opacity="0.13" stroke-width="0.8"/>
<line x1="1242.51" x2="1242.51" y1="457.9" y2="513.75" stroke="#508FCA" stroke-opacity="0.13" stroke-width="0.8"/>
<line x1="1247.62" x2="1247.62" y1="457.9" y2="513.75" stroke="#5298CE" stroke-opacity="0.13" stroke-width="0.8"/>
<line x1="1252.06" x2="1252.06" y1="457.9" y2="513.75" stroke="#559FD2" stroke-opacity="0.13" stroke-width="0.8"/>
<line x1="1256.16" x2="1256.16" y1="457.9" y2="513.75" stroke="#54A5D4" stroke-opacity="0.13" stroke-width="0.8"/>
<line x1="1259.97" x2="1259.97" y1="457.9" y2="513.75" stroke="#53AAD6" stroke-opacity="0.13" stroke-width="0.8"/>
<line x1="1263.57" x2="1263.57" y1="457.9" y2="513.75" stroke="#52AFD8" stroke-opacity="0.13" stroke-width="0.8"/>
<line x1="1266.97" x2="1266.97" y1="457.9" y2="513.75" stroke="#53B3D9" stroke-opacity="0.13" stroke-width="0.8"/>
<line x1="1270.19" x2="1270.19" y1="457.9" y2="513.75" stroke="#54B6D9" stroke-opacity="0.13" stroke-width="0.8"/>
<line x1="1273.28" x2="1273.28" y1="457.9" y2="513.75" stroke="#56B8D9" stroke-opacity="0.13" stroke-width="0.8"/>
<line x1="1276.26" x2="1276.26" y1="457.9" y2="513.75" stroke="#57BBD9" stroke-opacity="0.13" stroke-width="0.8"/>
<line x1="1279.17" x2="1279.17" y1="457.9" y2="513.75" stroke="#59BDD9" stroke-opacity="0.13" stroke-width="0.8"/>
<line x1="1282.05" x2="1282.05" y1="457.9" y2="513.75" stroke="#5ABFD9" stroke-opacity="0.13" stroke-width="0.8"/>
<line x1="1285.01" x2="1285.01" y1="457.9" y2="513.75" stroke="#5CC2D9" stroke-opacity="0.13" stroke-width="0.8"/>
<line x1="1288.06" x2="1288.06" y1="457.9" y2="513.75" stroke="#5DC4D9" stroke-opacity="0.13" stroke-width="0.8"/>
<line x1="1291.34" x2="1291.34" y1="457.9" y2="513.75" stroke="#5FC7D9" stroke-opacity="0.13" stroke-width="0.8"/>
<line x1="1294.98" x2="1294.98" y1="457.9" y2="513.75" stroke="#62C8D6" stroke-opacity="0.13" stroke-width="0.8"/>
<line x1="1299.2" x2="1299.2" y1="457.9" y2="513.75" stroke="#65CAD2" stroke-opacity="0.13" stroke-width="0.8"/>
<line x1="1304.52" x2="1304.52" y1="457.9" y2="513.75" stroke="#6ACDCE" stroke-opacity="0.13" stroke-width="0.8"/>
<line x1="1312.14" x2="1312.14" y1="457.9" y2="513.75" stroke="#72D0C8" stroke-opacity="0.13" stroke-width="0.8"/>
<line x1="1324.53" x2="1324.53" y1="457.9" y2="513.75" stroke="#88D5C1" stroke-opacity="0.13" stroke-width="0.8"/>
<line x1="1176" x2="1176" y1="457.9" y2="513.75" stroke="#4059AD" stroke-opacity="0.44" stroke-width="0.9"/>
<line x1="1204.38" x2="1204.38" y1="457.9" y2="513.75" stroke="#446DB8" stroke-opacity="0.26" stroke-width="0.8"/>
<line x1="1205.25" x2="1205.25" y1="457.9" y2="513.75" stroke="#446EB8" stroke-opacity="0.26" stroke-width="0.8"/>
<line x1="1215.62" x2="1215.62" y1="457.9" y2="513.75" stroke="#4775BC" stroke-opacity="0.26" stroke-width="0.8"/>
<line x1="1216.5" x2="1216.5" y1="457.9" y2="513.75" stroke="#4776BC" stroke-opacity="0.44" stroke-width="0.9"/>
<line x1="1220" x2="1220" y1="457.9" y2="513.75" stroke="#4879BE" stroke-opacity="0.26" stroke-width="0.8"/>
<line x1="1223.75" x2="1223.75" y1="457.9" y2="513.75" stroke="#497CC0" stroke-opacity="0.44" stroke-width="0.9"/>
<line x1="1225" x2="1225" y1="457.9" y2="513.75" stroke="#4A7DC1" stroke-opacity="0.44" stroke-width="0.9"/>
<line x1="1230.62" x2="1230.62" y1="457.9" y2="513.75" stroke="#4B82C4" stroke-opacity="0.26" stroke-width="0.8"/>
<line x1="1238.12" x2="1238.12" y1="457.9" y2="513.75" stroke="#4E89C7" stroke-opacity="0.26" stroke-width="0.8"/>
<line x1="1239.38" x2="1239.38" y1="457.9" y2="513.75" stroke="#4E8AC8" stroke-opacity="0.26" stroke-width="0.8"/>
<line x1="1241.25" x2="1241.25" y1="457.9" y2="513.75" stroke="#4F8DC9" stroke-opacity="0.44" stroke-width="0.9"/>
<line x1="1244.38" x2="1244.38" y1="457.9" y2="513.75" stroke="#5192CC" stroke-opacity="0.26" stroke-width="0.8"/>
<line x1="1250" x2="1250" y1="457.9" y2="513.75" stroke="#549CD0" stroke-opacity="0.26" stroke-width="0.8"/>
<line x1="1251.5" x2="1251.5" y1="457.9" y2="513.75" stroke="#549ED1" stroke-opacity="0.26" stroke-width="0.8"/>
<line x1="1259.38" x2="1259.38" y1="457.9" y2="513.75" stroke="#53A9D6" stroke-opacity="0.26" stroke-width="0.8"/>
<line x1="1261.88" x2="1261.88" y1="457.9" y2="513.75" stroke="#53ADD7" stroke-opacity="0.44" stroke-width="0.9"/>
<line x1="1269.38" x2="1269.38" y1="457.9" y2="513.75" stroke="#54B5D9" stroke-opacity="0.26" stroke-width="0.8"/>
<line x1="1270.62" x2="1270.62" y1="457.9" y2="513.75" stroke="#55B6D9" stroke-opacity="0.26" stroke-width="0.8"/>
<line x1="1273.75" x2="1273.75" y1="457.9" y2="513.75" stroke="#56B9D9" stroke-opacity="0.26" stroke-width="0.8"/>
<line x1="1277.5" x2="1277.5" y1="457.9" y2="513.75" stroke="#58BCD9" stroke-opacity="0.26" stroke-width="0.8"/>
<line x1="1278.75" x2="1278.75" y1="457.9" y2="513.75" stroke="#59BDD9" stroke-opacity="0.44" stroke-width="0.9"/>
<line x1="1281.88" x2="1281.88" y1="457.9" y2="513.75" stroke="#5ABFD9" stroke-opacity="0.26" stroke-width="0.8"/>
<line x1="1283.12" x2="1283.12" y1="457.9" y2="513.75" stroke="#5BC0D9" stroke-opacity="0.44" stroke-width="0.9"/>
<line x1="1288.75" x2="1288.75" y1="457.9" y2="513.75" stroke="#5EC5D9" stroke-opacity="0.26" stroke-width="0.8"/>
<line x1="1296.25" x2="1296.25" y1="457.9" y2="513.75" stroke="#63C9D5" stroke-opacity="0.26" stroke-width="0.8"/>
<line x1="1300" x2="1300" y1="457.9" y2="513.75" stroke="#66CBD2" stroke-opacity="0.26" stroke-width="0.8"/>
<line x1="1303.75" x2="1303.75" y1="457.9" y2="513.75" stroke="#69CCCE" stroke-opacity="0.26" stroke-width="0.8"/>
<line x1="1306.25" x2="1306.25" y1="457.9" y2="513.75" stroke="#6BCDCC" stroke-opacity="0.26" stroke-width="0.8"/>
<line x1="1315" x2="1315" y1="457.9" y2="513.75" stroke="#77D1C6" stroke-opacity="0.26" stroke-width="0.8"/>
<line x1="1330" x2="1330" y1="457.9" y2="513.75" stroke="#92D8BE" stroke-opacity="0.26" stroke-width="0.8"/>
<line x1="1340.62" x2="1340.62" y1="457.9" y2="513.75" stroke="#A1DCB6" stroke-opacity="0.26" stroke-width="0.8"/>
<line x1="1344.62" x2="1344.62" y1="457.9" y2="513.75" stroke="#A7DDB4" stroke-opacity="0.26" stroke-width="0.8"/>
<text x="1178.1" y="479.2" font-size="6.2" fill="#4059AD" text-anchor="start" transform="rotate(-90 1178.1 479.2)" fill-opacity="1">1986</text>
<text x="1218.6" y="479.2" font-size="6.2" fill="#4776BC" text-anchor="start" transform="rotate(-90 1218.6 479.2)" fill-opacity="1">1979</text>
<text x="1346.72" y="479.2" font-size="6.2" fill="#A7DDB4" text-anchor="start" transform="rotate(-90 1346.72 479.2)" fill-opacity="1">2011</text>
<line x1="1310.88" x2="1310.88" y1="460.9" y2="513.75" stroke="#70CFC8" stroke-opacity="0.88" stroke-width="1.2"/>
<text x="1312.97" y="458.1" font-size="6.2" fill="#70CFC8" text-anchor="start" transform="rotate(-90 1312.97 458.1)" fill-opacity="0.88">2025</text>
<path d="M1176 513.75C1178.33 513.73 1185.58 513.81 1190 513.62C1194.42 513.44 1199.17 513.06 1202.5 512.62C1205.83 512.19 1207.5 511.79 1210 511C1212.5 510.21 1215 509.33 1217.5 507.88C1220 506.42 1222.5 504.27 1225 502.25C1227.5 500.23 1230 497.73 1232.5 495.75C1235 493.77 1237.5 491.79 1240 490.38C1242.5 488.96 1245 488.02 1247.5 487.25C1250 486.48 1252.5 486.42 1255 485.75C1257.5 485.08 1260 484.29 1262.5 483.25C1265 482.21 1267.71 480.5 1270 479.5C1272.29 478.5 1274.38 477.62 1276.25 477.25C1278.12 476.88 1279.38 476.79 1281.25 477.25C1283.12 477.71 1285.21 478.65 1287.5 480C1289.79 481.35 1292.5 483.54 1295 485.38C1297.5 487.21 1300 489.12 1302.5 491C1305 492.88 1307.5 494.92 1310 496.62C1312.5 498.33 1315 499.9 1317.5 501.25C1320 502.6 1322.5 503.81 1325 504.75C1327.5 505.69 1330 506.29 1332.5 506.88C1335 507.46 1337.98 507.88 1340 508.25C1342.02 508.62 1343.85 508.98 1344.62 509.12" fill="none" stroke="#222" stroke-width="1.15" stroke-linecap="butt"/>
<circle cx="1262.88" cy="514.1" r="1.75" fill="#fff" stroke="#000" stroke-width="1.35"/>
<text x="1187.5" y="523.05" font-size="6.4" fill="#777" text-anchor="middle">10</text>
<text x="1213.54" y="523.05" font-size="6.4" fill="#777" text-anchor="middle">11</text>
<text x="1239.58" y="523.05" font-size="6.4" fill="#777" text-anchor="middle">12</text>
<text x="1265.61" y="523.05" font-size="6.4" fill="#777" text-anchor="middle">13</text>
<text x="1291.65" y="523.05" font-size="6.4" fill="#777" text-anchor="middle">14</text>
<text x="1317.69" y="523.05" font-size="6.4" fill="#777" text-anchor="middle">15</text>
<text x="1343.72" y="523.05" font-size="6.4" fill="#777" text-anchor="middle">16</text>
<text x="1354.22" y="453.1" font-size="8.0" fill="#262626" text-anchor="start">May</text>
<line x1="1429.71" x2="1429.71" y1="457.9" y2="513.75" stroke="#8DD6C0" stroke-opacity="0.13" stroke-width="0.8"/>
<line x1="1437.89" x2="1437.89" y1="457.9" y2="513.75" stroke="#9BDABA" stroke-opacity="0.13" stroke-width="0.8"/>
<line x1="1443.21" x2="1443.21" y1="457.9" y2="513.75" stroke="#A3DCB6" stroke-opacity="0.13" stroke-width="0.8"/>
<line x1="1447.46" x2="1447.46" y1="457.9" y2="513.75" stroke="#AADEB3" stroke-opacity="0.13" stroke-width="0.8"/>
<line x1="1451.21" x2="1451.21" y1="457.9" y2="513.75" stroke="#AFE0B2" stroke-opacity="0.13" stroke-width="0.8"/>
<line x1="1454.68" x2="1454.68" y1="457.9" y2="513.75" stroke="#B4E2B2" stroke-opacity="0.13" stroke-width="0.8"/>
<line x1="1458" x2="1458" y1="457.9" y2="513.75" stroke="#B9E3B1" stroke-opacity="0.13" stroke-width="0.8"/>
<line x1="1461.21" x2="1461.21" y1="457.9" y2="513.75" stroke="#BEE5B0" stroke-opacity="0.13" stroke-width="0.8"/>
<line x1="1464.38" x2="1464.38" y1="457.9" y2="513.75" stroke="#C2E7AF" stroke-opacity="0.13" stroke-width="0.8"/>
<line x1="1467.49" x2="1467.49" y1="457.9" y2="513.75" stroke="#C7E8AE" stroke-opacity="0.13" stroke-width="0.8"/>
<line x1="1470.54" x2="1470.54" y1="457.9" y2="513.75" stroke="#CBE9AE" stroke-opacity="0.13" stroke-width="0.8"/>
<line x1="1473.48" x2="1473.48" y1="457.9" y2="513.75" stroke="#CEEAAE" stroke-opacity="0.13" stroke-width="0.8"/>
<line x1="1476.3" x2="1476.3" y1="457.9" y2="513.75" stroke="#D1EBAF" stroke-opacity="0.13" stroke-width="0.8"/>
<line x1="1479.01" x2="1479.01" y1="457.9" y2="513.75" stroke="#D4ECAF" stroke-opacity="0.13" stroke-width="0.8"/>
<line x1="1481.62" x2="1481.62" y1="457.9" y2="513.75" stroke="#D7EDAF" stroke-opacity="0.13" stroke-width="0.8"/>
<line x1="1484.12" x2="1484.12" y1="457.9" y2="513.75" stroke="#D9EEAF" stroke-opacity="0.13" stroke-width="0.8"/>
<line x1="1486.55" x2="1486.55" y1="457.9" y2="513.75" stroke="#DCEFAF" stroke-opacity="0.13" stroke-width="0.8"/>
<line x1="1488.94" x2="1488.94" y1="457.9" y2="513.75" stroke="#DEF0B0" stroke-opacity="0.13" stroke-width="0.8"/>
<line x1="1491.31" x2="1491.31" y1="457.9" y2="513.75" stroke="#E1F0B0" stroke-opacity="0.13" stroke-width="0.8"/>
<line x1="1493.71" x2="1493.71" y1="457.9" y2="513.75" stroke="#E4F1B0" stroke-opacity="0.13" stroke-width="0.8"/>
<line x1="1496.15" x2="1496.15" y1="457.9" y2="513.75" stroke="#E6F1AE" stroke-opacity="0.13" stroke-width="0.8"/>
<line x1="1498.7" x2="1498.7" y1="457.9" y2="513.75" stroke="#E9F0AB" stroke-opacity="0.13" stroke-width="0.8"/>
<line x1="1501.43" x2="1501.43" y1="457.9" y2="513.75" stroke="#EBF0A9" stroke-opacity="0.13" stroke-width="0.8"/>
<line x1="1504.39" x2="1504.39" y1="457.9" y2="513.75" stroke="#EEF0A7" stroke-opacity="0.13" stroke-width="0.8"/>
<line x1="1507.74" x2="1507.74" y1="457.9" y2="513.75" stroke="#F2EFA4" stroke-opacity="0.13" stroke-width="0.8"/>
<line x1="1511.75" x2="1511.75" y1="457.9" y2="513.75" stroke="#F6EFA1" stroke-opacity="0.13" stroke-width="0.8"/>
<line x1="1516.99" x2="1516.99" y1="457.9" y2="513.75" stroke="#FBEE9C" stroke-opacity="0.13" stroke-width="0.8"/>
<line x1="1352.12" x2="1352.12" y1="457.9" y2="513.75" stroke="#5090CB" stroke-opacity="0.44" stroke-width="0.9"/>
<line x1="1390.62" x2="1390.62" y1="457.9" y2="513.75" stroke="#5CC2D9" stroke-opacity="0.26" stroke-width="0.8"/>
<line x1="1392.5" x2="1392.5" y1="457.9" y2="513.75" stroke="#5DC3D9" stroke-opacity="0.26" stroke-width="0.8"/>
<line x1="1396.88" x2="1396.88" y1="457.9" y2="513.75" stroke="#5FC7D9" stroke-opacity="0.44" stroke-width="0.9"/>
<line x1="1397.5" x2="1397.5" y1="457.9" y2="513.75" stroke="#60C7D8" stroke-opacity="0.44" stroke-width="0.9"/>
<line x1="1401.25" x2="1401.25" y1="457.9" y2="513.75" stroke="#63C9D5" stroke-opacity="0.26" stroke-width="0.8"/>
<line x1="1404.38" x2="1404.38" y1="457.9" y2="513.75" stroke="#66CBD2" stroke-opacity="0.26" stroke-width="0.8"/>
<line x1="1406.25" x2="1406.25" y1="457.9" y2="513.75" stroke="#67CBD0" stroke-opacity="0.26" stroke-width="0.8"/>
<line x1="1408.12" x2="1408.12" y1="457.9" y2="513.75" stroke="#69CCCE" stroke-opacity="0.26" stroke-width="0.8"/>
<line x1="1415.62" x2="1415.62" y1="457.9" y2="513.75" stroke="#72D0C8" stroke-opacity="0.26" stroke-width="0.8"/>
<line x1="1420" x2="1420" y1="457.9" y2="513.75" stroke="#7AD2C5" stroke-opacity="0.26" stroke-width="0.8"/>
<line x1="1428.75" x2="1428.75" y1="457.9" y2="513.75" stroke="#8BD6C0" stroke-opacity="0.26" stroke-width="0.8"/>
<line x1="1430" x2="1430" y1="457.9" y2="513.75" stroke="#8DD7C0" stroke-opacity="0.26" stroke-width="0.8"/>
<line x1="1433.12" x2="1433.12" y1="457.9" y2="513.75" stroke="#93D8BE" stroke-opacity="0.26" stroke-width="0.8"/>
<line x1="1435" x2="1435" y1="457.9" y2="513.75" stroke="#96D9BC" stroke-opacity="0.26" stroke-width="0.8"/>
<line x1="1439.38" x2="1439.38" y1="457.9" y2="513.75" stroke="#9DDBB9" stroke-opacity="0.26" stroke-width="0.8"/>
<line x1="1440" x2="1440" y1="457.9" y2="513.75" stroke="#9EDBB8" stroke-opacity="0.44" stroke-width="0.9"/>
<line x1="1441.25" x2="1441.25" y1="457.9" y2="513.75" stroke="#A0DBB7" stroke-opacity="0.44" stroke-width="0.9"/>
<line x1="1446.25" x2="1446.25" y1="457.9" y2="513.75" stroke="#A8DEB4" stroke-opacity="0.26" stroke-width="0.8"/>
<line x1="1451.25" x2="1451.25" y1="457.9" y2="513.75" stroke="#AFE0B2" stroke-opacity="0.26" stroke-width="0.8"/>
<line x1="1460" x2="1460" y1="457.9" y2="513.75" stroke="#BCE4B0" stroke-opacity="0.26" stroke-width="0.8"/>
<line x1="1461.25" x2="1461.25" y1="457.9" y2="513.75" stroke="#BEE5B0" stroke-opacity="0.26" stroke-width="0.8"/>
<line x1="1466.25" x2="1466.25" y1="457.9" y2="513.75" stroke="#C5E8AF" stroke-opacity="0.26" stroke-width="0.8"/>
<line x1="1471.25" x2="1471.25" y1="457.9" y2="513.75" stroke="#CBEAAE" stroke-opacity="0.26" stroke-width="0.8"/>
<line x1="1478.12" x2="1478.12" y1="457.9" y2="513.75" stroke="#D3ECAF" stroke-opacity="0.26" stroke-width="0.8"/>
<line x1="1502.5" x2="1502.5" y1="457.9" y2="513.75" stroke="#ECF0A8" stroke-opacity="0.26" stroke-width="0.8"/>
<line x1="1520.62" x2="1520.62" y1="457.9" y2="513.75" stroke="#FCEB97" stroke-opacity="0.26" stroke-width="0.8"/>
<text x="1354.22" y="479.2" font-size="6.2" fill="#5090CB" text-anchor="start" transform="rotate(-90 1354.22 479.2)" fill-opacity="1">1984</text>
<text x="1399.22" y="479.2" font-size="6.2" fill="#5FC7D9" text-anchor="start" transform="rotate(-90 1399.22 479.2)" fill-opacity="1">1977</text>
<text x="1504.6" y="479.2" font-size="6.2" fill="#ECF0A8" text-anchor="start" transform="rotate(-90 1504.6 479.2)" fill-opacity="0.6">2011</text>
<text x="1522.72" y="479.2" font-size="6.2" fill="#FCEB97" text-anchor="start" transform="rotate(-90 1522.72 479.2)" fill-opacity="0.6">2022</text>
<line x1="1485.25" x2="1485.25" y1="460.9" y2="513.75" stroke="#DAEEAF" stroke-opacity="0.45" stroke-width="1.2"/>
<text x="1487.35" y="458.1" font-size="6.2" fill="#DAEEAF" text-anchor="start" transform="rotate(-90 1487.35 458.1)" fill-opacity="0.45">2025</text>
<path d="M1352.12 513.75C1355.31 513.73 1365.98 513.77 1371.25 513.62C1376.52 513.48 1379.58 513.35 1383.75 512.88C1387.92 512.4 1392.5 511.58 1396.25 510.75C1400 509.92 1402.71 509.12 1406.25 507.88C1409.79 506.62 1413.96 504.98 1417.5 503.25C1421.04 501.52 1424.38 499.4 1427.5 497.5C1430.62 495.6 1433.54 493.42 1436.25 491.88C1438.96 490.33 1441.25 489.1 1443.75 488.25C1446.25 487.4 1448.54 487.04 1451.25 486.75C1453.96 486.46 1457.08 486.48 1460 486.5C1462.92 486.52 1465.83 486.92 1468.75 486.88C1471.67 486.83 1474.79 486.5 1477.5 486.25C1480.21 486 1482.92 485.48 1485 485.38C1487.08 485.27 1488.12 485.27 1490 485.62C1491.88 485.98 1493.96 486.4 1496.25 487.5C1498.54 488.6 1501.25 490.48 1503.75 492.25C1506.25 494.02 1508.44 496 1511.25 498.12C1514.06 500.25 1519.06 503.85 1520.62 505" fill="none" stroke="#222" stroke-width="1.15" stroke-linecap="butt"/>
<circle cx="1452.5" cy="514.1" r="1.75" fill="#fff" stroke="#000" stroke-width="1.35"/>
<text x="1396.88" y="523.05" font-size="6.4" fill="#777" text-anchor="middle">14</text>
<text x="1445.03" y="523.05" font-size="6.4" fill="#777" text-anchor="middle">16</text>
<text x="1493.17" y="523.05" font-size="6.4" fill="#777" text-anchor="middle">18</text>
<text x="1517.25" y="523.05" font-size="6.4" fill="#777" text-anchor="middle">19</text>
<text x="1530.6" y="453.1" font-size="8.0" fill="#262626" text-anchor="start">Jun</text>
<line x1="1581.74" x2="1581.74" y1="457.9" y2="513.75" stroke="#FDE38B" stroke-opacity="0.13" stroke-width="0.8"/>
<line x1="1589.6" x2="1589.6" y1="457.9" y2="513.75" stroke="#FEDB7F" stroke-opacity="0.13" stroke-width="0.8"/>
<line x1="1594.08" x2="1594.08" y1="457.9" y2="513.75" stroke="#FFD678" stroke-opacity="0.13" stroke-width="0.8"/>
<line x1="1597.4" x2="1597.4" y1="457.9" y2="513.75" stroke="#FFD172" stroke-opacity="0.13" stroke-width="0.8"/>
<line x1="1600.13" x2="1600.13" y1="457.9" y2="513.75" stroke="#FFCD6D" stroke-opacity="0.13" stroke-width="0.8"/>
<line x1="1602.52" x2="1602.52" y1="457.9" y2="513.75" stroke="#FFC969" stroke-opacity="0.13" stroke-width="0.8"/>
<line x1="1604.68" x2="1604.68" y1="457.9" y2="513.75" stroke="#FFC665" stroke-opacity="0.13" stroke-width="0.8"/>
<line x1="1606.7" x2="1606.7" y1="457.9" y2="513.75" stroke="#FFC362" stroke-opacity="0.13" stroke-width="0.8"/>
<line x1="1608.65" x2="1608.65" y1="457.9" y2="513.75" stroke="#FFC05E" stroke-opacity="0.13" stroke-width="0.8"/>
<line x1="1610.57" x2="1610.57" y1="457.9" y2="513.75" stroke="#FEBC5A" stroke-opacity="0.13" stroke-width="0.8"/>
<line x1="1612.53" x2="1612.53" y1="457.9" y2="513.75" stroke="#FDB755" stroke-opacity="0.13" stroke-width="0.8"/>
<line x1="1614.52" x2="1614.52" y1="457.9" y2="513.75" stroke="#FCB350" stroke-opacity="0.13" stroke-width="0.8"/>
<line x1="1616.63" x2="1616.63" y1="457.9" y2="513.75" stroke="#FBAE4C" stroke-opacity="0.13" stroke-width="0.8"/>
<line x1="1618.87" x2="1618.87" y1="457.9" y2="513.75" stroke="#FAA946" stroke-opacity="0.13" stroke-width="0.8"/>
<line x1="1621.27" x2="1621.27" y1="457.9" y2="513.75" stroke="#F8A441" stroke-opacity="0.13" stroke-width="0.8"/>
<line x1="1623.86" x2="1623.86" y1="457.9" y2="513.75" stroke="#F9A043" stroke-opacity="0.13" stroke-width="0.8"/>
<line x1="1626.71" x2="1626.71" y1="457.9" y2="513.75" stroke="#FA9E49" stroke-opacity="0.13" stroke-width="0.8"/>
<line x1="1629.87" x2="1629.87" y1="457.9" y2="513.75" stroke="#FC9B50" stroke-opacity="0.13" stroke-width="0.8"/>
<line x1="1633.44" x2="1633.44" y1="457.9" y2="513.75" stroke="#FD9857" stroke-opacity="0.13" stroke-width="0.8"/>
<line x1="1637.7" x2="1637.7" y1="457.9" y2="513.75" stroke="#FF9460" stroke-opacity="0.13" stroke-width="0.8"/>
<line x1="1643.43" x2="1643.43" y1="457.9" y2="513.75" stroke="#FF875B" stroke-opacity="0.13" stroke-width="0.8"/>
<line x1="1657.8" x2="1657.8" y1="457.9" y2="513.75" stroke="#FC6951" stroke-opacity="0.13" stroke-width="0.8"/>
<line x1="1674.77" x2="1674.77" y1="457.9" y2="513.75" stroke="#ED4B4F" stroke-opacity="0.13" stroke-width="0.8"/>
<line x1="1528.5" x2="1528.5" y1="457.9" y2="513.75" stroke="#CCEAAE" stroke-opacity="0.26" stroke-width="0.8"/>
<line x1="1533.75" x2="1533.75" y1="457.9" y2="513.75" stroke="#D2ECAF" stroke-opacity="0.26" stroke-width="0.8"/>
<line x1="1538.75" x2="1538.75" y1="457.9" y2="513.75" stroke="#D8EEAF" stroke-opacity="0.26" stroke-width="0.8"/>
<line x1="1544.38" x2="1544.38" y1="457.9" y2="513.75" stroke="#DEF0B0" stroke-opacity="0.26" stroke-width="0.8"/>
<line x1="1561.25" x2="1561.25" y1="457.9" y2="513.75" stroke="#F1EFA5" stroke-opacity="0.26" stroke-width="0.8"/>
<line x1="1567.5" x2="1567.5" y1="457.9" y2="513.75" stroke="#F7EE9F" stroke-opacity="0.26" stroke-width="0.8"/>
<line x1="1577.5" x2="1577.5" y1="457.9" y2="513.75" stroke="#FCE792" stroke-opacity="0.26" stroke-width="0.8"/>
<line x1="1588.12" x2="1588.12" y1="457.9" y2="513.75" stroke="#FEDD82" stroke-opacity="0.26" stroke-width="0.8"/>
<line x1="1589.38" x2="1589.38" y1="457.9" y2="513.75" stroke="#FEDC80" stroke-opacity="0.26" stroke-width="0.8"/>
<line x1="1593.12" x2="1593.12" y1="457.9" y2="513.75" stroke="#FFD87A" stroke-opacity="0.26" stroke-width="0.8"/>
<line x1="1595" x2="1595" y1="457.9" y2="513.75" stroke="#FFD577" stroke-opacity="0.26" stroke-width="0.8"/>
<line x1="1599.38" x2="1599.38" y1="457.9" y2="513.75" stroke="#FFCE6F" stroke-opacity="0.26" stroke-width="0.8"/>
<line x1="1602.5" x2="1602.5" y1="457.9" y2="513.75" stroke="#FFCA69" stroke-opacity="0.26" stroke-width="0.8"/>
<line x1="1607.5" x2="1607.5" y1="457.9" y2="513.75" stroke="#FFC260" stroke-opacity="0.44" stroke-width="0.9"/>
<line x1="1609.38" x2="1609.38" y1="457.9" y2="513.75" stroke="#FFBE5C" stroke-opacity="0.26" stroke-width="0.8"/>
<line x1="1612.5" x2="1612.5" y1="457.9" y2="513.75" stroke="#FDB755" stroke-opacity="0.26" stroke-width="0.8"/>
<line x1="1614.38" x2="1614.38" y1="457.9" y2="513.75" stroke="#FCB351" stroke-opacity="0.26" stroke-width="0.8"/>
<line x1="1616.25" x2="1616.25" y1="457.9" y2="513.75" stroke="#FBAF4C" stroke-opacity="0.26" stroke-width="0.8"/>
<line x1="1618.12" x2="1618.12" y1="457.9" y2="513.75" stroke="#FAAB48" stroke-opacity="0.26" stroke-width="0.8"/>
<line x1="1621.25" x2="1621.25" y1="457.9" y2="513.75" stroke="#F8A441" stroke-opacity="0.26" stroke-width="0.8"/>
<line x1="1623.12" x2="1623.12" y1="457.9" y2="513.75" stroke="#F8A141" stroke-opacity="0.26" stroke-width="0.8"/>
<line x1="1631.25" x2="1631.25" y1="457.9" y2="513.75" stroke="#FC9A52" stroke-opacity="0.26" stroke-width="0.8"/>
<line x1="1632.5" x2="1632.5" y1="457.9" y2="513.75" stroke="#FD9955" stroke-opacity="0.26" stroke-width="0.8"/>
<line x1="1638.12" x2="1638.12" y1="457.9" y2="513.75" stroke="#FF9360" stroke-opacity="0.26" stroke-width="0.8"/>
<line x1="1640" x2="1640" y1="457.9" y2="513.75" stroke="#FF8F5E" stroke-opacity="0.26" stroke-width="0.8"/>
<line x1="1646.88" x2="1646.88" y1="457.9" y2="513.75" stroke="#FF7F58" stroke-opacity="0.26" stroke-width="0.8"/>
<line x1="1648.12" x2="1648.12" y1="457.9" y2="513.75" stroke="#FF7D57" stroke-opacity="0.26" stroke-width="0.8"/>
<line x1="1655" x2="1655" y1="457.9" y2="513.75" stroke="#FE6E52" stroke-opacity="0.26" stroke-width="0.8"/>
<line x1="1656.5" x2="1656.5" y1="457.9" y2="513.75" stroke="#FD6B51" stroke-opacity="0.44" stroke-width="0.9"/>
<line x1="1658.5" x2="1658.5" y1="457.9" y2="513.75" stroke="#FB6851" stroke-opacity="0.26" stroke-width="0.8"/>
<line x1="1670.62" x2="1670.62" y1="457.9" y2="513.75" stroke="#F2524F" stroke-opacity="0.26" stroke-width="0.8"/>
<text x="1530.6" y="479.2" font-size="6.2" fill="#CCEAAE" text-anchor="start" transform="rotate(-90 1530.6 479.2)" fill-opacity="1">1977</text>
<text x="1546.47" y="479.2" font-size="6.2" fill="#DEF0B0" text-anchor="start" transform="rotate(-90 1546.47 479.2)" fill-opacity="0.6">1972</text>
<text x="1658.6" y="479.2" font-size="6.2" fill="#FD6B51" text-anchor="start" transform="rotate(-90 1658.6 479.2)" fill-opacity="1">2022</text>
<line x1="1696.88" x2="1696.88" y1="460.9" y2="513.75" stroke="#D73150" stroke-opacity="0.88" stroke-width="1.2"/>
<text x="1698.97" y="458.1" font-size="6.2" fill="#D73150" text-anchor="start" transform="rotate(-90 1698.97 458.1)" fill-opacity="0.88">2025</text>
<path d="M1528.5 510.75C1530 510.9 1534.54 511.31 1537.5 511.62C1540.46 511.94 1543.54 512.44 1546.25 512.62C1548.96 512.81 1551.25 512.92 1553.75 512.75C1556.25 512.58 1558.75 512.23 1561.25 511.62C1563.75 511.02 1566.04 510.21 1568.75 509.12C1571.46 508.04 1574.79 506.69 1577.5 505.12C1580.21 503.56 1582.5 502.1 1585 499.75C1587.5 497.4 1590 494.12 1592.5 491C1595 487.88 1597.92 483.67 1600 481C1602.08 478.33 1603.44 476.4 1605 475C1606.56 473.6 1607.92 472.88 1609.38 472.62C1610.83 472.38 1611.98 472.52 1613.75 473.5C1615.52 474.48 1617.71 476.58 1620 478.5C1622.29 480.42 1625 483.02 1627.5 485C1630 486.98 1632.5 488.65 1635 490.38C1637.5 492.1 1640 493.71 1642.5 495.38C1645 497.04 1647.71 499.06 1650 500.38C1652.29 501.69 1654.17 502.56 1656.25 503.25C1658.33 503.94 1660.21 504.08 1662.5 504.5C1664.79 504.92 1667.5 505.08 1670 505.75C1672.5 506.42 1674.79 507.52 1677.5 508.5C1680.21 509.48 1683.75 510.85 1686.25 511.62C1688.75 512.4 1690.73 512.81 1692.5 513.12C1694.27 513.44 1696.15 513.44 1696.88 513.5" fill="none" stroke="#222" stroke-width="1.15" stroke-linecap="butt"/>
<circle cx="1604" cy="514.1" r="1.75" fill="#fff" stroke="#000" stroke-width="1.35"/>
<text x="1548.5" y="523.05" font-size="6.4" fill="#777" text-anchor="middle">18</text>
<text x="1593.08" y="523.05" font-size="6.4" fill="#777" text-anchor="middle">20</text>
<text x="1637.65" y="523.05" font-size="6.4" fill="#777" text-anchor="middle">22</text>
<text x="1682.22" y="523.05" font-size="6.4" fill="#777" text-anchor="middle">24</text>
<text x="1178.1" y="539.1" font-size="8.0" fill="#262626" text-anchor="start">Jul</text>
<line x1="1252.85" x2="1252.85" y1="543.9" y2="599.75" stroke="#FE7052" stroke-opacity="0.13" stroke-width="0.8"/>
<line x1="1259.77" x2="1259.77" y1="543.9" y2="599.75" stroke="#FA6551" stroke-opacity="0.13" stroke-width="0.8"/>
<line x1="1269.82" x2="1269.82" y1="543.9" y2="599.75" stroke="#F4564F" stroke-opacity="0.13" stroke-width="0.8"/>
<line x1="1274.54" x2="1274.54" y1="543.9" y2="599.75" stroke="#F04F4F" stroke-opacity="0.13" stroke-width="0.8"/>
<line x1="1279.19" x2="1279.19" y1="543.9" y2="599.75" stroke="#EB494F" stroke-opacity="0.13" stroke-width="0.8"/>
<line x1="1283.74" x2="1283.74" y1="543.9" y2="599.75" stroke="#E7434F" stroke-opacity="0.13" stroke-width="0.8"/>
<line x1="1288.24" x2="1288.24" y1="543.9" y2="599.75" stroke="#E23E4F" stroke-opacity="0.13" stroke-width="0.8"/>
<line x1="1292.79" x2="1292.79" y1="543.9" y2="599.75" stroke="#DF3A4F" stroke-opacity="0.13" stroke-width="0.8"/>
<line x1="1297.56" x2="1297.56" y1="543.9" y2="599.75" stroke="#DB3650" stroke-opacity="0.13" stroke-width="0.8"/>
<line x1="1303.07" x2="1303.07" y1="543.9" y2="599.75" stroke="#D73150" stroke-opacity="0.13" stroke-width="0.8"/>
<line x1="1311.22" x2="1311.22" y1="543.9" y2="599.75" stroke="#BE264F" stroke-opacity="0.13" stroke-width="0.8"/>
<line x1="1176" x2="1176" y1="543.9" y2="599.75" stroke="#FEDC80" stroke-opacity="0.26" stroke-width="0.8"/>
<line x1="1201.88" x2="1201.88" y1="543.9" y2="599.75" stroke="#FEBB59" stroke-opacity="0.26" stroke-width="0.8"/>
<line x1="1220" x2="1220" y1="543.9" y2="599.75" stroke="#FA9E48" stroke-opacity="0.26" stroke-width="0.8"/>
<line x1="1221.25" x2="1221.25" y1="543.9" y2="599.75" stroke="#FA9D4A" stroke-opacity="0.44" stroke-width="0.9"/>
<line x1="1225" x2="1225" y1="543.9" y2="599.75" stroke="#FC9B51" stroke-opacity="0.26" stroke-width="0.8"/>
<line x1="1231.25" x2="1231.25" y1="543.9" y2="599.75" stroke="#FE965C" stroke-opacity="0.26" stroke-width="0.8"/>
<line x1="1232.5" x2="1232.5" y1="543.9" y2="599.75" stroke="#FF955E" stroke-opacity="0.26" stroke-width="0.8"/>
<line x1="1240.38" x2="1240.38" y1="543.9" y2="599.75" stroke="#FF875B" stroke-opacity="0.26" stroke-width="0.8"/>
<line x1="1241.88" x2="1241.88" y1="543.9" y2="599.75" stroke="#FF845A" stroke-opacity="0.26" stroke-width="0.8"/>
<line x1="1244.38" x2="1244.38" y1="543.9" y2="599.75" stroke="#FF7F58" stroke-opacity="0.26" stroke-width="0.8"/>
<line x1="1247.5" x2="1247.5" y1="543.9" y2="599.75" stroke="#FF7A55" stroke-opacity="0.26" stroke-width="0.8"/>
<line x1="1249.38" x2="1249.38" y1="543.9" y2="599.75" stroke="#FF7654" stroke-opacity="0.26" stroke-width="0.8"/>
<line x1="1251.25" x2="1251.25" y1="543.9" y2="599.75" stroke="#FF7253" stroke-opacity="0.26" stroke-width="0.8"/>
<line x1="1252.5" x2="1252.5" y1="543.9" y2="599.75" stroke="#FF7052" stroke-opacity="0.26" stroke-width="0.8"/>
<line x1="1254.38" x2="1254.38" y1="543.9" y2="599.75" stroke="#FE6D52" stroke-opacity="0.26" stroke-width="0.8"/>
<line x1="1255.62" x2="1255.62" y1="543.9" y2="599.75" stroke="#FD6B51" stroke-opacity="0.26" stroke-width="0.8"/>
<line x1="1258.12" x2="1258.12" y1="543.9" y2="599.75" stroke="#FB6851" stroke-opacity="0.26" stroke-width="0.8"/>
<line x1="1261.88" x2="1261.88" y1="543.9" y2="599.75" stroke="#F96251" stroke-opacity="0.26" stroke-width="0.8"/>
<line x1="1263.75" x2="1263.75" y1="543.9" y2="599.75" stroke="#F85F50" stroke-opacity="0.44" stroke-width="0.9"/>
<line x1="1265" x2="1265" y1="543.9" y2="599.75" stroke="#F75D50" stroke-opacity="0.44" stroke-width="0.9"/>
<line x1="1266.88" x2="1266.88" y1="543.9" y2="599.75" stroke="#F65A50" stroke-opacity="0.44" stroke-width="0.9"/>
<line x1="1268.75" x2="1268.75" y1="543.9" y2="599.75" stroke="#F55750" stroke-opacity="0.26" stroke-width="0.8"/>
<line x1="1271.25" x2="1271.25" y1="543.9" y2="599.75" stroke="#F3544F" stroke-opacity="0.26" stroke-width="0.8"/>
<line x1="1275.62" x2="1275.62" y1="543.9" y2="599.75" stroke="#EF4E4F" stroke-opacity="0.44" stroke-width="0.9"/>
<line x1="1276.88" x2="1276.88" y1="543.9" y2="599.75" stroke="#EE4C4F" stroke-opacity="0.26" stroke-width="0.8"/>
<line x1="1281.88" x2="1281.88" y1="543.9" y2="599.75" stroke="#E9464F" stroke-opacity="0.26" stroke-width="0.8"/>
<line x1="1286.25" x2="1286.25" y1="543.9" y2="599.75" stroke="#E4404F" stroke-opacity="0.26" stroke-width="0.8"/>
<line x1="1288.12" x2="1288.12" y1="543.9" y2="599.75" stroke="#E23E4F" stroke-opacity="0.26" stroke-width="0.8"/>
<line x1="1290.62" x2="1290.62" y1="543.9" y2="599.75" stroke="#E13C4F" stroke-opacity="0.26" stroke-width="0.8"/>
<line x1="1291.88" x2="1291.88" y1="543.9" y2="599.75" stroke="#E03B4F" stroke-opacity="0.44" stroke-width="0.9"/>
<line x1="1293.75" x2="1293.75" y1="543.9" y2="599.75" stroke="#DE394F" stroke-opacity="0.44" stroke-width="0.9"/>
<line x1="1298.75" x2="1298.75" y1="543.9" y2="599.75" stroke="#DA3550" stroke-opacity="0.26" stroke-width="0.8"/>
<line x1="1303.75" x2="1303.75" y1="543.9" y2="599.75" stroke="#D73150" stroke-opacity="0.26" stroke-width="0.8"/>
<line x1="1305.62" x2="1305.62" y1="543.9" y2="599.75" stroke="#D22E50" stroke-opacity="0.26" stroke-width="0.8"/>
<line x1="1307.5" x2="1307.5" y1="543.9" y2="599.75" stroke="#CB2C4F" stroke-opacity="0.26" stroke-width="0.8"/>
<line x1="1308.75" x2="1308.75" y1="543.9" y2="599.75" stroke="#C72A4F" stroke-opacity="0.26" stroke-width="0.8"/>
<line x1="1319.38" x2="1319.38" y1="543.9" y2="599.75" stroke="#A8204D" stroke-opacity="0.26" stroke-width="0.8"/>
<line x1="1320.62" x2="1320.62" y1="543.9" y2="599.75" stroke="#A61F4D" stroke-opacity="0.44" stroke-width="0.9"/>
<line x1="1323.75" x2="1323.75" y1="543.9" y2="599.75" stroke="#A01E4D" stroke-opacity="0.26" stroke-width="0.8"/>
<line x1="1325.38" x2="1325.38" y1="543.9" y2="599.75" stroke="#9D1E4D" stroke-opacity="0.26" stroke-width="0.8"/>
<line x1="1336.25" x2="1336.25" y1="543.9" y2="599.75" stroke="#891B4B" stroke-opacity="0.26" stroke-width="0.8"/>
<line x1="1344.62" x2="1344.62" y1="543.9" y2="599.75" stroke="#7C1849" stroke-opacity="0.44" stroke-width="0.9"/>
<text x="1178.1" y="565.2" font-size="6.2" fill="#FEDC80" text-anchor="start" transform="rotate(-90 1178.1 565.2)" fill-opacity="1">1977</text>
<text x="1223.35" y="565.2" font-size="6.2" fill="#FA9D4A" text-anchor="start" transform="rotate(-90 1223.35 565.2)" fill-opacity="1">1973</text>
<text x="1322.72" y="565.2" font-size="6.2" fill="#A61F4D" text-anchor="start" transform="rotate(-90 1322.72 565.2)" fill-opacity="1">2024</text>
<text x="1346.72" y="565.2" font-size="6.2" fill="#7C1849" text-anchor="start" transform="rotate(-90 1346.72 565.2)" fill-opacity="1">2022</text>
<line x1="1315.38" x2="1315.38" y1="546.9" y2="599.75" stroke="#AF214E" stroke-opacity="0.88" stroke-width="1.2"/>
<text x="1317.47" y="544.1" font-size="6.2" fill="#AF214E" text-anchor="start" transform="rotate(-90 1317.47 544.1)" fill-opacity="0.88">2025</text>
<path d="M1176 599.5C1179.38 599.48 1190.79 599.52 1196.25 599.38C1201.71 599.23 1205 599.02 1208.75 598.62C1212.5 598.23 1215.62 597.73 1218.75 597C1221.88 596.27 1224.79 595.5 1227.5 594.25C1230.21 593 1232.5 591.58 1235 589.5C1237.5 587.42 1240 584.67 1242.5 581.75C1245 578.83 1247.71 574.77 1250 572C1252.29 569.23 1254.38 566.73 1256.25 565.12C1258.12 563.52 1259.58 562.85 1261.25 562.38C1262.92 561.9 1264.38 562 1266.25 562.25C1268.12 562.5 1270.42 563.4 1272.5 563.88C1274.58 564.35 1276.46 564.92 1278.75 565.12C1281.04 565.33 1283.75 565.02 1286.25 565.12C1288.75 565.23 1291.46 565.19 1293.75 565.75C1296.04 566.31 1297.92 567.25 1300 568.5C1302.08 569.75 1303.96 571.42 1306.25 573.25C1308.54 575.08 1311.25 577.52 1313.75 579.5C1316.25 581.48 1318.75 583.35 1321.25 585.12C1323.75 586.9 1326.25 588.77 1328.75 590.12C1331.25 591.48 1333.6 592.27 1336.25 593.25C1338.9 594.23 1343.23 595.54 1344.62 596" fill="none" stroke="#222" stroke-width="1.15" stroke-linecap="butt"/>
<circle cx="1271.25" cy="600.1" r="1.75" fill="#fff" stroke="#000" stroke-width="1.35"/>
<text x="1181" y="609.05" font-size="6.4" fill="#777" text-anchor="middle">20</text>
<text x="1207.29" y="609.05" font-size="6.4" fill="#777" text-anchor="middle">21</text>
<text x="1233.58" y="609.05" font-size="6.4" fill="#777" text-anchor="middle">22</text>
<text x="1259.86" y="609.05" font-size="6.4" fill="#777" text-anchor="middle">23</text>
<text x="1286.15" y="609.05" font-size="6.4" fill="#777" text-anchor="middle">24</text>
<text x="1312.44" y="609.05" font-size="6.4" fill="#777" text-anchor="middle">25</text>
<text x="1338.72" y="609.05" font-size="6.4" fill="#777" text-anchor="middle">26</text>
<text x="1354.22" y="539.1" font-size="8.0" fill="#262626" text-anchor="start">Aug</text>
<line x1="1438.01" x2="1438.01" y1="543.9" y2="599.75" stroke="#FA6451" stroke-opacity="0.13" stroke-width="0.8"/>
<line x1="1444.05" x2="1444.05" y1="543.9" y2="599.75" stroke="#F65B50" stroke-opacity="0.13" stroke-width="0.8"/>
<line x1="1448.12" x2="1448.12" y1="543.9" y2="599.75" stroke="#F4554F" stroke-opacity="0.13" stroke-width="0.8"/>
<line x1="1451.42" x2="1451.42" y1="543.9" y2="599.75" stroke="#F2514F" stroke-opacity="0.13" stroke-width="0.8"/>
<line x1="1454.28" x2="1454.28" y1="543.9" y2="599.75" stroke="#EF4D4F" stroke-opacity="0.13" stroke-width="0.8"/>
<line x1="1456.85" x2="1456.85" y1="543.9" y2="599.75" stroke="#EC4A4F" stroke-opacity="0.13" stroke-width="0.8"/>
<line x1="1459.27" x2="1459.27" y1="543.9" y2="599.75" stroke="#EA474F" stroke-opacity="0.13" stroke-width="0.8"/>
<line x1="1461.55" x2="1461.55" y1="543.9" y2="599.75" stroke="#E7444F" stroke-opacity="0.13" stroke-width="0.8"/>
<line x1="1463.74" x2="1463.74" y1="543.9" y2="599.75" stroke="#E5414F" stroke-opacity="0.13" stroke-width="0.8"/>
<line x1="1465.85" x2="1465.85" y1="543.9" y2="599.75" stroke="#E33F4F" stroke-opacity="0.13" stroke-width="0.8"/>
<line x1="1467.92" x2="1467.92" y1="543.9" y2="599.75" stroke="#E23D4F" stroke-opacity="0.13" stroke-width="0.8"/>
<line x1="1469.97" x2="1469.97" y1="543.9" y2="599.75" stroke="#E03C4F" stroke-opacity="0.13" stroke-width="0.8"/>
<line x1="1472.03" x2="1472.03" y1="543.9" y2="599.75" stroke="#DF3A4F" stroke-opacity="0.13" stroke-width="0.8"/>
<line x1="1474.13" x2="1474.13" y1="543.9" y2="599.75" stroke="#DD384F" stroke-opacity="0.13" stroke-width="0.8"/>
<line x1="1476.31" x2="1476.31" y1="543.9" y2="599.75" stroke="#DC3650" stroke-opacity="0.13" stroke-width="0.8"/>
<line x1="1478.62" x2="1478.62" y1="543.9" y2="599.75" stroke="#DA3550" stroke-opacity="0.13" stroke-width="0.8"/>
<line x1="1481.11" x2="1481.11" y1="543.9" y2="599.75" stroke="#D83250" stroke-opacity="0.13" stroke-width="0.8"/>
<line x1="1483.9" x2="1483.9" y1="543.9" y2="599.75" stroke="#D63050" stroke-opacity="0.13" stroke-width="0.8"/>
<line x1="1487.11" x2="1487.11" y1="543.9" y2="599.75" stroke="#CB2C4F" stroke-opacity="0.13" stroke-width="0.8"/>
<line x1="1491.08" x2="1491.08" y1="543.9" y2="599.75" stroke="#BE264F" stroke-opacity="0.13" stroke-width="0.8"/>
<line x1="1496.79" x2="1496.79" y1="543.9" y2="599.75" stroke="#AD214E" stroke-opacity="0.13" stroke-width="0.8"/>
<line x1="1352.12" x2="1352.12" y1="543.9" y2="599.75" stroke="#FFDA7E" stroke-opacity="0.26" stroke-width="0.8"/>
<line x1="1378.75" x2="1378.75" y1="543.9" y2="599.75" stroke="#FDB855" stroke-opacity="0.26" stroke-width="0.8"/>
<line x1="1403.12" x2="1403.12" y1="543.9" y2="599.75" stroke="#FD9954" stroke-opacity="0.26" stroke-width="0.8"/>
<line x1="1405" x2="1405" y1="543.9" y2="599.75" stroke="#FD9858" stroke-opacity="0.44" stroke-width="0.9"/>
<line x1="1409.38" x2="1409.38" y1="543.9" y2="599.75" stroke="#FF945F" stroke-opacity="0.26" stroke-width="0.8"/>
<line x1="1412.5" x2="1412.5" y1="543.9" y2="599.75" stroke="#FF8F5E" stroke-opacity="0.26" stroke-width="0.8"/>
<line x1="1415.62" x2="1415.62" y1="543.9" y2="599.75" stroke="#FF8A5C" stroke-opacity="0.26" stroke-width="0.8"/>
<line x1="1419.38" x2="1419.38" y1="543.9" y2="599.75" stroke="#FF8359" stroke-opacity="0.26" stroke-width="0.8"/>
<line x1="1422.5" x2="1422.5" y1="543.9" y2="599.75" stroke="#FF7D57" stroke-opacity="0.26" stroke-width="0.8"/>
<line x1="1428.12" x2="1428.12" y1="543.9" y2="599.75" stroke="#FF7353" stroke-opacity="0.26" stroke-width="0.8"/>
<line x1="1433.12" x2="1433.12" y1="543.9" y2="599.75" stroke="#FD6B51" stroke-opacity="0.26" stroke-width="0.8"/>
<line x1="1440" x2="1440" y1="543.9" y2="599.75" stroke="#F96151" stroke-opacity="0.26" stroke-width="0.8"/>
<line x1="1444.38" x2="1444.38" y1="543.9" y2="599.75" stroke="#F65B50" stroke-opacity="0.26" stroke-width="0.8"/>
<line x1="1446.88" x2="1446.88" y1="543.9" y2="599.75" stroke="#F55750" stroke-opacity="0.26" stroke-width="0.8"/>
<line x1="1450" x2="1450" y1="543.9" y2="599.75" stroke="#F3534F" stroke-opacity="0.26" stroke-width="0.8"/>
<line x1="1453.12" x2="1453.12" y1="543.9" y2="599.75" stroke="#F04F4F" stroke-opacity="0.26" stroke-width="0.8"/>
<line x1="1456.88" x2="1456.88" y1="543.9" y2="599.75" stroke="#EC4A4F" stroke-opacity="0.26" stroke-width="0.8"/>
<line x1="1458.75" x2="1458.75" y1="543.9" y2="599.75" stroke="#EA484F" stroke-opacity="0.26" stroke-width="0.8"/>
<line x1="1460.62" x2="1460.62" y1="543.9" y2="599.75" stroke="#E8454F" stroke-opacity="0.26" stroke-width="0.8"/>
<line x1="1463.75" x2="1463.75" y1="543.9" y2="599.75" stroke="#E5414F" stroke-opacity="0.26" stroke-width="0.8"/>
<line x1="1466.25" x2="1466.25" y1="543.9" y2="599.75" stroke="#E33F4F" stroke-opacity="0.26" stroke-width="0.8"/>
<line x1="1469.38" x2="1469.38" y1="543.9" y2="599.75" stroke="#E13C4F" stroke-opacity="0.44" stroke-width="0.9"/>
<line x1="1473.12" x2="1473.12" y1="543.9" y2="599.75" stroke="#DE394F" stroke-opacity="0.44" stroke-width="0.9"/>
<line x1="1474.38" x2="1474.38" y1="543.9" y2="599.75" stroke="#DD384F" stroke-opacity="0.66" stroke-width="1.3"/>
<line x1="1477.5" x2="1477.5" y1="543.9" y2="599.75" stroke="#DB3550" stroke-opacity="0.26" stroke-width="0.8"/>
<line x1="1480.62" x2="1480.62" y1="543.9" y2="599.75" stroke="#D93350" stroke-opacity="0.26" stroke-width="0.8"/>
<line x1="1483.75" x2="1483.75" y1="543.9" y2="599.75" stroke="#D63050" stroke-opacity="0.26" stroke-width="0.8"/>
<line x1="1486.25" x2="1486.25" y1="543.9" y2="599.75" stroke="#CE2D50" stroke-opacity="0.26" stroke-width="0.8"/>
<line x1="1488.12" x2="1488.12" y1="543.9" y2="599.75" stroke="#C82A4F" stroke-opacity="0.26" stroke-width="0.8"/>
<line x1="1495.62" x2="1495.62" y1="543.9" y2="599.75" stroke="#AF214E" stroke-opacity="0.26" stroke-width="0.8"/>
<line x1="1511.25" x2="1511.25" y1="543.9" y2="599.75" stroke="#941C4C" stroke-opacity="0.26" stroke-width="0.8"/>
<line x1="1513.12" x2="1513.12" y1="543.9" y2="599.75" stroke="#911C4C" stroke-opacity="0.44" stroke-width="0.9"/>
<line x1="1519.12" x2="1519.12" y1="543.9" y2="599.75" stroke="#861A4B" stroke-opacity="0.66" stroke-width="1.3"/>
<text x="1354.22" y="565.2" font-size="6.2" fill="#FFDA7E" text-anchor="start" transform="rotate(-90 1354.22 565.2)" fill-opacity="1">1977</text>
<text x="1407.1" y="565.2" font-size="6.2" fill="#FD9858" text-anchor="start" transform="rotate(-90 1407.1 565.2)" fill-opacity="1">1983</text>
<text x="1515.22" y="565.2" font-size="6.2" fill="#911C4C" text-anchor="start" transform="rotate(-90 1515.22 565.2)" fill-opacity="1">2022</text>
<text x="1521.22" y="565.2" font-size="6.2" fill="#861A4B" text-anchor="start" transform="rotate(-90 1521.22 565.2)" fill-opacity="1">2024</text>
<line x1="1519.62" x2="1519.62" y1="546.9" y2="599.75" stroke="#851A4B" stroke-opacity="0.88" stroke-width="1.2"/>
<text x="1521.72" y="544.1" font-size="6.2" fill="#851A4B" text-anchor="start" transform="rotate(-90 1521.72 544.1)" fill-opacity="0.88">2025</text>
<path d="M1352.12 599.5C1357.4 599.5 1376.6 599.62 1383.75 599.5C1390.9 599.38 1392.08 599.12 1395 598.75C1397.92 598.38 1399.17 598.06 1401.25 597.25C1403.33 596.44 1405.42 595.06 1407.5 593.88C1409.58 592.69 1411.88 590.94 1413.75 590.12C1415.62 589.31 1416.88 589.15 1418.75 589C1420.62 588.85 1423.12 589.48 1425 589.25C1426.88 589.02 1428.12 588.94 1430 587.62C1431.88 586.31 1434.17 583.98 1436.25 581.38C1438.33 578.77 1440.42 575.27 1442.5 572C1444.58 568.73 1446.67 564.98 1448.75 561.75C1450.83 558.52 1452.92 555.12 1455 552.62C1457.08 550.12 1459.38 548.17 1461.25 546.75C1463.12 545.33 1464.79 544.62 1466.25 544.12C1467.71 543.62 1468.75 543.58 1470 543.75C1471.25 543.92 1472.29 544.06 1473.75 545.12C1475.21 546.19 1476.88 547.62 1478.75 550.12C1480.62 552.62 1482.92 556.48 1485 560.12C1487.08 563.77 1489.17 568.15 1491.25 572C1493.33 575.85 1495.62 580.17 1497.5 583.25C1499.38 586.33 1500.83 588.62 1502.5 590.5C1504.17 592.38 1505.83 593.79 1507.5 594.5C1509.17 595.21 1510.83 594.79 1512.5 594.75C1514.17 594.71 1516.25 594.25 1517.5 594.25C1518.75 594.25 1519.58 594.67 1520 594.75" fill="none" stroke="#222" stroke-width="1.15" stroke-linecap="butt"/>
<circle cx="1452.88" cy="600.1" r="1.75" fill="#fff" stroke="#000" stroke-width="1.35"/>
<text x="1355" y="609.05" font-size="6.4" fill="#777" text-anchor="middle">20</text>
<text x="1382.46" y="609.05" font-size="6.4" fill="#777" text-anchor="middle">21</text>
<text x="1409.92" y="609.05" font-size="6.4" fill="#777" text-anchor="middle">22</text>
<text x="1437.39" y="609.05" font-size="6.4" fill="#777" text-anchor="middle">23</text>
<text x="1464.85" y="609.05" font-size="6.4" fill="#777" text-anchor="middle">24</text>
<text x="1492.31" y="609.05" font-size="6.4" fill="#777" text-anchor="middle">25</text>
<text x="1519.78" y="609.05" font-size="6.4" fill="#777" text-anchor="middle">26</text>
<text x="1530.6" y="539.1" font-size="8.0" fill="#262626" text-anchor="start">Sep</text>
<line x1="1556.31" x2="1556.31" y1="543.9" y2="599.75" stroke="#E2F1B0" stroke-opacity="0.13" stroke-width="0.8"/>
<line x1="1569.22" x2="1569.22" y1="543.9" y2="599.75" stroke="#EDF0A8" stroke-opacity="0.13" stroke-width="0.8"/>
<line x1="1582.75" x2="1582.75" y1="543.9" y2="599.75" stroke="#F8EE9F" stroke-opacity="0.13" stroke-width="0.8"/>
<line x1="1597.92" x2="1597.92" y1="543.9" y2="599.75" stroke="#FDE68F" stroke-opacity="0.13" stroke-width="0.8"/>
<line x1="1606.1" x2="1606.1" y1="543.9" y2="599.75" stroke="#FEE086" stroke-opacity="0.13" stroke-width="0.8"/>
<line x1="1611.39" x2="1611.39" y1="543.9" y2="599.75" stroke="#FEDC80" stroke-opacity="0.13" stroke-width="0.8"/>
<line x1="1615.5" x2="1615.5" y1="543.9" y2="599.75" stroke="#FFD97B" stroke-opacity="0.13" stroke-width="0.8"/>
<line x1="1618.99" x2="1618.99" y1="543.9" y2="599.75" stroke="#FFD576" stroke-opacity="0.13" stroke-width="0.8"/>
<line x1="1622.08" x2="1622.08" y1="543.9" y2="599.75" stroke="#FFD172" stroke-opacity="0.13" stroke-width="0.8"/>
<line x1="1624.91" x2="1624.91" y1="543.9" y2="599.75" stroke="#FFCE6E" stroke-opacity="0.13" stroke-width="0.8"/>
<line x1="1627.6" x2="1627.6" y1="543.9" y2="599.75" stroke="#FFCB6B" stroke-opacity="0.13" stroke-width="0.8"/>
<line x1="1630.17" x2="1630.17" y1="543.9" y2="599.75" stroke="#FFC867" stroke-opacity="0.13" stroke-width="0.8"/>
<line x1="1632.67" x2="1632.67" y1="543.9" y2="599.75" stroke="#FFC564" stroke-opacity="0.13" stroke-width="0.8"/>
<line x1="1635.15" x2="1635.15" y1="543.9" y2="599.75" stroke="#FFC261" stroke-opacity="0.13" stroke-width="0.8"/>
<line x1="1637.6" x2="1637.6" y1="543.9" y2="599.75" stroke="#FFBF5D" stroke-opacity="0.13" stroke-width="0.8"/>
<line x1="1640.09" x2="1640.09" y1="543.9" y2="599.75" stroke="#FEBB59" stroke-opacity="0.13" stroke-width="0.8"/>
<line x1="1642.62" x2="1642.62" y1="543.9" y2="599.75" stroke="#FDB754" stroke-opacity="0.13" stroke-width="0.8"/>
<line x1="1645.2" x2="1645.2" y1="543.9" y2="599.75" stroke="#FCB250" stroke-opacity="0.13" stroke-width="0.8"/>
<line x1="1647.89" x2="1647.89" y1="543.9" y2="599.75" stroke="#FBAE4B" stroke-opacity="0.13" stroke-width="0.8"/>
<line x1="1650.72" x2="1650.72" y1="543.9" y2="599.75" stroke="#FAA946" stroke-opacity="0.13" stroke-width="0.8"/>
<line x1="1653.72" x2="1653.72" y1="543.9" y2="599.75" stroke="#F8A441" stroke-opacity="0.13" stroke-width="0.8"/>
<line x1="1656.98" x2="1656.98" y1="543.9" y2="599.75" stroke="#F9A142" stroke-opacity="0.13" stroke-width="0.8"/>
<line x1="1660.55" x2="1660.55" y1="543.9" y2="599.75" stroke="#FA9E48" stroke-opacity="0.13" stroke-width="0.8"/>
<line x1="1664.69" x2="1664.69" y1="543.9" y2="599.75" stroke="#FB9B4F" stroke-opacity="0.13" stroke-width="0.8"/>
<line x1="1669.8" x2="1669.8" y1="543.9" y2="599.75" stroke="#FD9857" stroke-opacity="0.13" stroke-width="0.8"/>
<line x1="1677.68" x2="1677.68" y1="543.9" y2="599.75" stroke="#FF915F" stroke-opacity="0.13" stroke-width="0.8"/>
<line x1="1528.5" x2="1528.5" y1="543.9" y2="599.75" stroke="#CAE9AE" stroke-opacity="0.26" stroke-width="0.8"/>
<line x1="1562.5" x2="1562.5" y1="543.9" y2="599.75" stroke="#E7F0AC" stroke-opacity="0.26" stroke-width="0.8"/>
<line x1="1568.75" x2="1568.75" y1="543.9" y2="599.75" stroke="#ECF0A8" stroke-opacity="0.26" stroke-width="0.8"/>
<line x1="1570.62" x2="1570.62" y1="543.9" y2="599.75" stroke="#EEF0A7" stroke-opacity="0.26" stroke-width="0.8"/>
<line x1="1577.5" x2="1577.5" y1="543.9" y2="599.75" stroke="#F4EFA2" stroke-opacity="0.26" stroke-width="0.8"/>
<line x1="1593.12" x2="1593.12" y1="543.9" y2="599.75" stroke="#FCE995" stroke-opacity="0.26" stroke-width="0.8"/>
<line x1="1601.88" x2="1601.88" y1="543.9" y2="599.75" stroke="#FDE38B" stroke-opacity="0.26" stroke-width="0.8"/>
<line x1="1605" x2="1605" y1="543.9" y2="599.75" stroke="#FDE087" stroke-opacity="0.26" stroke-width="0.8"/>
<line x1="1608.12" x2="1608.12" y1="543.9" y2="599.75" stroke="#FEDE83" stroke-opacity="0.26" stroke-width="0.8"/>
<line x1="1611.25" x2="1611.25" y1="543.9" y2="599.75" stroke="#FEDC80" stroke-opacity="0.26" stroke-width="0.8"/>
<line x1="1615" x2="1615" y1="543.9" y2="599.75" stroke="#FFD97C" stroke-opacity="0.26" stroke-width="0.8"/>
<line x1="1617.5" x2="1617.5" y1="543.9" y2="599.75" stroke="#FFD778" stroke-opacity="0.26" stroke-width="0.8"/>
<line x1="1623.75" x2="1623.75" y1="543.9" y2="599.75" stroke="#FFCF70" stroke-opacity="0.26" stroke-width="0.8"/>
<line x1="1625" x2="1625" y1="543.9" y2="599.75" stroke="#FFCE6E" stroke-opacity="0.26" stroke-width="0.8"/>
<line x1="1632.5" x2="1632.5" y1="543.9" y2="599.75" stroke="#FFC564" stroke-opacity="0.26" stroke-width="0.8"/>
<line x1="1636.25" x2="1636.25" y1="543.9" y2="599.75" stroke="#FFC15F" stroke-opacity="0.44" stroke-width="0.9"/>
<line x1="1644.38" x2="1644.38" y1="543.9" y2="599.75" stroke="#FCB451" stroke-opacity="0.26" stroke-width="0.8"/>
<line x1="1646.25" x2="1646.25" y1="543.9" y2="599.75" stroke="#FBB14E" stroke-opacity="0.26" stroke-width="0.8"/>
<line x1="1649.38" x2="1649.38" y1="543.9" y2="599.75" stroke="#FAAB49" stroke-opacity="0.26" stroke-width="0.8"/>
<line x1="1659.38" x2="1659.38" y1="543.9" y2="599.75" stroke="#FA9F46" stroke-opacity="0.26" stroke-width="0.8"/>
<line x1="1660.62" x2="1660.62" y1="543.9" y2="599.75" stroke="#FA9E48" stroke-opacity="0.44" stroke-width="0.9"/>
<line x1="1665" x2="1665" y1="543.9" y2="599.75" stroke="#FB9B4F" stroke-opacity="0.26" stroke-width="0.8"/>
<line x1="1669.38" x2="1669.38" y1="543.9" y2="599.75" stroke="#FD9856" stroke-opacity="0.26" stroke-width="0.8"/>
<line x1="1670.62" x2="1670.62" y1="543.9" y2="599.75" stroke="#FD9758" stroke-opacity="0.44" stroke-width="0.9"/>
<line x1="1675.62" x2="1675.62" y1="543.9" y2="599.75" stroke="#FF9460" stroke-opacity="0.26" stroke-width="0.8"/>
<line x1="1683.75" x2="1683.75" y1="543.9" y2="599.75" stroke="#FF865B" stroke-opacity="0.26" stroke-width="0.8"/>
<line x1="1693.75" x2="1693.75" y1="543.9" y2="599.75" stroke="#FF7554" stroke-opacity="0.26" stroke-width="0.8"/>
<line x1="1696.88" x2="1696.88" y1="543.9" y2="599.75" stroke="#FF7052" stroke-opacity="0.44" stroke-width="0.9"/>
<text x="1530.6" y="565.2" font-size="6.2" fill="#CAE9AE" text-anchor="start" transform="rotate(-90 1530.6 565.2)" fill-opacity="1">1972</text>
<text x="1570.85" y="565.2" font-size="6.2" fill="#ECF0A8" text-anchor="start" transform="rotate(-90 1570.85 565.2)" fill-opacity="0.6">1975</text>
<text x="1672.72" y="565.2" font-size="6.2" fill="#FD9758" text-anchor="start" transform="rotate(-90 1672.72 565.2)" fill-opacity="1">2011</text>
<text x="1698.97" y="565.2" font-size="6.2" fill="#FF7052" text-anchor="start" transform="rotate(-90 1698.97 565.2)" fill-opacity="1">2018</text>
<line x1="1654.38" x2="1654.38" y1="546.9" y2="599.75" stroke="#F8A340" stroke-opacity="0.88" stroke-width="1.2"/>
<text x="1656.47" y="544.1" font-size="6.2" fill="#F8A340" text-anchor="start" transform="rotate(-90 1656.47 544.1)" fill-opacity="0.88">2025</text>
<path d="M1528.5 599.25C1530 599.12 1534.54 598.98 1537.5 598.5C1540.46 598.02 1543.33 597.46 1546.25 596.38C1549.17 595.29 1552.29 593.31 1555 592C1557.71 590.69 1560 589.29 1562.5 588.5C1565 587.71 1567.5 587.35 1570 587.25C1572.5 587.15 1575 587.6 1577.5 587.88C1580 588.15 1582.5 588.92 1585 588.88C1587.5 588.83 1590 588.67 1592.5 587.62C1595 586.58 1597.5 584.6 1600 582.62C1602.5 580.65 1605 577.98 1607.5 575.75C1610 573.52 1612.5 571.17 1615 569.25C1617.5 567.33 1620 565.5 1622.5 564.25C1625 563 1627.71 562.27 1630 561.75C1632.29 561.23 1633.96 561.12 1636.25 561.12C1638.54 561.12 1641.25 561.29 1643.75 561.75C1646.25 562.21 1648.75 562.96 1651.25 563.88C1653.75 564.79 1656.25 565.79 1658.75 567.25C1661.25 568.71 1663.75 570.58 1666.25 572.62C1668.75 574.67 1671.25 577.21 1673.75 579.5C1676.25 581.79 1678.75 584.4 1681.25 586.38C1683.75 588.35 1686.15 590.06 1688.75 591.38C1691.35 592.69 1695.52 593.77 1696.88 594.25" fill="none" stroke="#222" stroke-width="1.15" stroke-linecap="butt"/>
<circle cx="1629.12" cy="600.1" r="1.75" fill="#fff" stroke="#000" stroke-width="1.35"/>
<text x="1527.5" y="609.05" font-size="6.4" fill="#777" text-anchor="middle">17</text>
<text x="1557.12" y="609.05" font-size="6.4" fill="#777" text-anchor="middle">18</text>
<text x="1586.75" y="609.05" font-size="6.4" fill="#777" text-anchor="middle">19</text>
<text x="1616.38" y="609.05" font-size="6.4" fill="#777" text-anchor="middle">20</text>
<text x="1646" y="609.05" font-size="6.4" fill="#777" text-anchor="middle">21</text>
<text x="1675.62" y="609.05" font-size="6.4" fill="#777" text-anchor="middle">22</text>
<text x="1178.1" y="624.7" font-size="8.0" fill="#262626" text-anchor="start">Oct</text>
<line x1="1233.29" x2="1233.29" y1="629.5" y2="685.35" stroke="#6BCECC" stroke-opacity="0.13" stroke-width="0.8"/>
<line x1="1242.14" x2="1242.14" y1="629.5" y2="685.35" stroke="#7AD2C6" stroke-opacity="0.13" stroke-width="0.8"/>
<line x1="1247.53" x2="1247.53" y1="629.5" y2="685.35" stroke="#85D4C2" stroke-opacity="0.13" stroke-width="0.8"/>
<line x1="1251.78" x2="1251.78" y1="629.5" y2="685.35" stroke="#8DD7C0" stroke-opacity="0.13" stroke-width="0.8"/>
<line x1="1255.54" x2="1255.54" y1="629.5" y2="685.35" stroke="#94D8BD" stroke-opacity="0.13" stroke-width="0.8"/>
<line x1="1258.99" x2="1258.99" y1="629.5" y2="685.35" stroke="#9ADABA" stroke-opacity="0.13" stroke-width="0.8"/>
<line x1="1262.31" x2="1262.31" y1="629.5" y2="685.35" stroke="#9FDBB8" stroke-opacity="0.13" stroke-width="0.8"/>
<line x1="1265.56" x2="1265.56" y1="629.5" y2="685.35" stroke="#A5DDB5" stroke-opacity="0.13" stroke-width="0.8"/>
<line x1="1268.87" x2="1268.87" y1="629.5" y2="685.35" stroke="#AADEB3" stroke-opacity="0.13" stroke-width="0.8"/>
<line x1="1272.3" x2="1272.3" y1="629.5" y2="685.35" stroke="#AFE0B2" stroke-opacity="0.13" stroke-width="0.8"/>
<line x1="1275.99" x2="1275.99" y1="629.5" y2="685.35" stroke="#B4E2B2" stroke-opacity="0.13" stroke-width="0.8"/>
<line x1="1279.98" x2="1279.98" y1="629.5" y2="685.35" stroke="#BAE4B0" stroke-opacity="0.13" stroke-width="0.8"/>
<line x1="1284.27" x2="1284.27" y1="629.5" y2="685.35" stroke="#C1E6AF" stroke-opacity="0.13" stroke-width="0.8"/>
<line x1="1288.63" x2="1288.63" y1="629.5" y2="685.35" stroke="#C8E9AE" stroke-opacity="0.13" stroke-width="0.8"/>
<line x1="1292.84" x2="1292.84" y1="629.5" y2="685.35" stroke="#CDEAAE" stroke-opacity="0.13" stroke-width="0.8"/>
<line x1="1296.7" x2="1296.7" y1="629.5" y2="685.35" stroke="#D1EBAF" stroke-opacity="0.13" stroke-width="0.8"/>
<line x1="1300.22" x2="1300.22" y1="629.5" y2="685.35" stroke="#D5EDAF" stroke-opacity="0.13" stroke-width="0.8"/>
<line x1="1303.52" x2="1303.52" y1="629.5" y2="685.35" stroke="#D9EEAF" stroke-opacity="0.13" stroke-width="0.8"/>
<line x1="1306.65" x2="1306.65" y1="629.5" y2="685.35" stroke="#DCEFAF" stroke-opacity="0.13" stroke-width="0.8"/>
<line x1="1309.77" x2="1309.77" y1="629.5" y2="685.35" stroke="#E0F0B0" stroke-opacity="0.13" stroke-width="0.8"/>
<line x1="1312.94" x2="1312.94" y1="629.5" y2="685.35" stroke="#E3F1B0" stroke-opacity="0.13" stroke-width="0.8"/>
<line x1="1316.35" x2="1316.35" y1="629.5" y2="685.35" stroke="#E7F1AD" stroke-opacity="0.13" stroke-width="0.8"/>
<line x1="1320.16" x2="1320.16" y1="629.5" y2="685.35" stroke="#EBF0AA" stroke-opacity="0.13" stroke-width="0.8"/>
<line x1="1324.93" x2="1324.93" y1="629.5" y2="685.35" stroke="#F0EFA6" stroke-opacity="0.13" stroke-width="0.8"/>
<line x1="1332.52" x2="1332.52" y1="629.5" y2="685.35" stroke="#F7EE9F" stroke-opacity="0.13" stroke-width="0.8"/>
<line x1="1176" x2="1176" y1="629.5" y2="685.35" stroke="#4F8FCA" stroke-opacity="0.44" stroke-width="0.9"/>
<line x1="1203.5" x2="1203.5" y1="629.5" y2="685.35" stroke="#56B8D9" stroke-opacity="0.26" stroke-width="0.8"/>
<line x1="1209.38" x2="1209.38" y1="629.5" y2="685.35" stroke="#59BDD9" stroke-opacity="0.26" stroke-width="0.8"/>
<line x1="1214.38" x2="1214.38" y1="629.5" y2="685.35" stroke="#5CC2D9" stroke-opacity="0.44" stroke-width="0.9"/>
<line x1="1215.25" x2="1215.25" y1="629.5" y2="685.35" stroke="#5CC3D9" stroke-opacity="0.44" stroke-width="0.9"/>
<line x1="1221.88" x2="1221.88" y1="629.5" y2="685.35" stroke="#61C8D7" stroke-opacity="0.26" stroke-width="0.8"/>
<line x1="1226.25" x2="1226.25" y1="629.5" y2="685.35" stroke="#65CAD3" stroke-opacity="0.26" stroke-width="0.8"/>
<line x1="1235.62" x2="1235.62" y1="629.5" y2="685.35" stroke="#6DCFCA" stroke-opacity="0.26" stroke-width="0.8"/>
<line x1="1242.5" x2="1242.5" y1="629.5" y2="685.35" stroke="#7AD2C5" stroke-opacity="0.26" stroke-width="0.8"/>
<line x1="1246.25" x2="1246.25" y1="629.5" y2="685.35" stroke="#82D4C3" stroke-opacity="0.26" stroke-width="0.8"/>
<line x1="1248.12" x2="1248.12" y1="629.5" y2="685.35" stroke="#86D5C2" stroke-opacity="0.26" stroke-width="0.8"/>
<line x1="1250.62" x2="1250.62" y1="629.5" y2="685.35" stroke="#8BD6C0" stroke-opacity="0.26" stroke-width="0.8"/>
<line x1="1252.5" x2="1252.5" y1="629.5" y2="685.35" stroke="#8ED7BF" stroke-opacity="0.26" stroke-width="0.8"/>
<line x1="1253.75" x2="1253.75" y1="629.5" y2="685.35" stroke="#91D7BF" stroke-opacity="0.26" stroke-width="0.8"/>
<line x1="1261.88" x2="1261.88" y1="629.5" y2="685.35" stroke="#9FDBB8" stroke-opacity="0.26" stroke-width="0.8"/>
<line x1="1263.75" x2="1263.75" y1="629.5" y2="685.35" stroke="#A2DCB6" stroke-opacity="0.26" stroke-width="0.8"/>
<line x1="1268.12" x2="1268.12" y1="629.5" y2="685.35" stroke="#A9DEB4" stroke-opacity="0.44" stroke-width="0.9"/>
<line x1="1276.25" x2="1276.25" y1="629.5" y2="685.35" stroke="#B5E2B1" stroke-opacity="0.26" stroke-width="0.8"/>
<line x1="1280" x2="1280" y1="629.5" y2="685.35" stroke="#BBE4B0" stroke-opacity="0.26" stroke-width="0.8"/>
<line x1="1283.12" x2="1283.12" y1="629.5" y2="685.35" stroke="#BFE6B0" stroke-opacity="0.26" stroke-width="0.8"/>
<line x1="1285" x2="1285" y1="629.5" y2="685.35" stroke="#C2E7AF" stroke-opacity="0.26" stroke-width="0.8"/>
<line x1="1286.88" x2="1286.88" y1="629.5" y2="685.35" stroke="#C5E8AF" stroke-opacity="0.26" stroke-width="0.8"/>
<line x1="1288.75" x2="1288.75" y1="629.5" y2="685.35" stroke="#C8E9AE" stroke-opacity="0.26" stroke-width="0.8"/>
<line x1="1293.75" x2="1293.75" y1="629.5" y2="685.35" stroke="#CEEAAE" stroke-opacity="0.26" stroke-width="0.8"/>
<line x1="1297.5" x2="1297.5" y1="629.5" y2="685.35" stroke="#D2ECAF" stroke-opacity="0.26" stroke-width="0.8"/>
<line x1="1300" x2="1300" y1="629.5" y2="685.35" stroke="#D5EDAF" stroke-opacity="0.26" stroke-width="0.8"/>
<line x1="1306.88" x2="1306.88" y1="629.5" y2="685.35" stroke="#DCEFAF" stroke-opacity="0.26" stroke-width="0.8"/>
<line x1="1328.75" x2="1328.75" y1="629.5" y2="685.35" stroke="#F4EFA2" stroke-opacity="0.26" stroke-width="0.8"/>
<line x1="1344.62" x2="1344.62" y1="629.5" y2="685.35" stroke="#FCE68F" stroke-opacity="0.26" stroke-width="0.8"/>
<text x="1178.1" y="650.8" font-size="6.2" fill="#4F8FCA" text-anchor="start" transform="rotate(-90 1178.1 650.8)" fill-opacity="1">1974</text>
<text x="1216.85" y="650.8" font-size="6.2" fill="#5CC2D9" text-anchor="start" transform="rotate(-90 1216.85 650.8)" fill-opacity="1">1992</text>
<text x="1346.72" y="650.8" font-size="6.2" fill="#FCE68F" text-anchor="start" transform="rotate(-90 1346.72 650.8)" fill-opacity="0.6">2022</text>
<line x1="1316.62" x2="1316.62" y1="632.5" y2="685.35" stroke="#E7F1AD" stroke-opacity="0.45" stroke-width="1.2"/>
<text x="1318.72" y="629.7" font-size="6.2" fill="#E7F1AD" text-anchor="start" transform="rotate(-90 1318.72 629.7)" fill-opacity="0.45">2025</text>
<path d="M1176 684.5C1177.5 684.29 1182.04 683.81 1185 683.25C1187.96 682.69 1190.83 681.79 1193.75 681.12C1196.67 680.46 1199.58 679.77 1202.5 679.25C1205.42 678.73 1208.33 678.35 1211.25 678C1214.17 677.65 1217.29 677.54 1220 677.12C1222.71 676.71 1225 676.4 1227.5 675.5C1230 674.6 1232.5 673.21 1235 671.75C1237.5 670.29 1240 668.38 1242.5 666.75C1245 665.12 1247.71 663.17 1250 662C1252.29 660.83 1254.17 660.25 1256.25 659.75C1258.33 659.25 1260.42 659.04 1262.5 659C1264.58 658.96 1266.46 659.17 1268.75 659.5C1271.04 659.83 1273.75 660.58 1276.25 661C1278.75 661.42 1281.25 661.83 1283.75 662C1286.25 662.17 1288.75 662.08 1291.25 662C1293.75 661.92 1296.46 661.54 1298.75 661.5C1301.04 661.46 1302.92 661.4 1305 661.75C1307.08 662.1 1308.96 662.58 1311.25 663.62C1313.54 664.67 1316.25 666.33 1318.75 668C1321.25 669.67 1323.75 671.9 1326.25 673.62C1328.75 675.35 1330.69 676.88 1333.75 678.38C1336.81 679.88 1342.81 681.92 1344.62 682.62" fill="none" stroke="#222" stroke-width="1.15" stroke-linecap="butt"/>
<circle cx="1270.38" cy="685.7" r="1.75" fill="#fff" stroke="#000" stroke-width="1.35"/>
<text x="1220" y="694.65" font-size="6.4" fill="#777" text-anchor="middle">14</text>
<text x="1266.4" y="694.65" font-size="6.4" fill="#777" text-anchor="middle">16</text>
<text x="1312.8" y="694.65" font-size="6.4" fill="#777" text-anchor="middle">18</text>
<text x="1336" y="694.65" font-size="6.4" fill="#777" text-anchor="middle">19</text>
<text x="1354.22" y="624.7" font-size="8.0" fill="#262626" text-anchor="start">Nov</text>
<line x1="1377.52" x2="1377.52" y1="629.5" y2="685.35" stroke="#4253A7" stroke-opacity="0.13" stroke-width="0.8"/>
<line x1="1387.78" x2="1387.78" y1="629.5" y2="685.35" stroke="#4059AC" stroke-opacity="0.13" stroke-width="0.8"/>
<line x1="1395.3" x2="1395.3" y1="629.5" y2="685.35" stroke="#3F5EAF" stroke-opacity="0.13" stroke-width="0.8"/>
<line x1="1401.85" x2="1401.85" y1="629.5" y2="685.35" stroke="#3F62B2" stroke-opacity="0.13" stroke-width="0.8"/>
<line x1="1407.88" x2="1407.88" y1="629.5" y2="685.35" stroke="#4065B4" stroke-opacity="0.13" stroke-width="0.8"/>
<line x1="1413.57" x2="1413.57" y1="629.5" y2="685.35" stroke="#4269B5" stroke-opacity="0.13" stroke-width="0.8"/>
<line x1="1419.07" x2="1419.07" y1="629.5" y2="685.35" stroke="#436CB7" stroke-opacity="0.13" stroke-width="0.8"/>
<line x1="1424.44" x2="1424.44" y1="629.5" y2="685.35" stroke="#446FB9" stroke-opacity="0.13" stroke-width="0.8"/>
<line x1="1429.77" x2="1429.77" y1="629.5" y2="685.35" stroke="#4572BA" stroke-opacity="0.13" stroke-width="0.8"/>
<line x1="1435.22" x2="1435.22" y1="629.5" y2="685.35" stroke="#4775BC" stroke-opacity="0.13" stroke-width="0.8"/>
<line x1="1440.95" x2="1440.95" y1="629.5" y2="685.35" stroke="#487ABF" stroke-opacity="0.13" stroke-width="0.8"/>
<line x1="1447.15" x2="1447.15" y1="629.5" y2="685.35" stroke="#4A7FC2" stroke-opacity="0.13" stroke-width="0.8"/>
<line x1="1453.79" x2="1453.79" y1="629.5" y2="685.35" stroke="#4C84C4" stroke-opacity="0.13" stroke-width="0.8"/>
<line x1="1460.55" x2="1460.55" y1="629.5" y2="685.35" stroke="#4E89C7" stroke-opacity="0.13" stroke-width="0.8"/>
<line x1="1467.11" x2="1467.11" y1="629.5" y2="685.35" stroke="#5091CB" stroke-opacity="0.13" stroke-width="0.8"/>
<line x1="1473.37" x2="1473.37" y1="629.5" y2="685.35" stroke="#539BD0" stroke-opacity="0.13" stroke-width="0.8"/>
<line x1="1479.54" x2="1479.54" y1="629.5" y2="685.35" stroke="#55A3D3" stroke-opacity="0.13" stroke-width="0.8"/>
<line x1="1486.14" x2="1486.14" y1="629.5" y2="685.35" stroke="#53ABD6" stroke-opacity="0.13" stroke-width="0.8"/>
<line x1="1495.04" x2="1495.04" y1="629.5" y2="685.35" stroke="#53B4D9" stroke-opacity="0.13" stroke-width="0.8"/>
<line x1="1352.12" x2="1352.12" y1="629.5" y2="685.35" stroke="#5B4D9C" stroke-opacity="0.44" stroke-width="0.9"/>
<line x1="1365.62" x2="1365.62" y1="629.5" y2="685.35" stroke="#464C9F" stroke-opacity="0.26" stroke-width="0.8"/>
<line x1="1379.38" x2="1379.38" y1="629.5" y2="685.35" stroke="#4254A8" stroke-opacity="0.26" stroke-width="0.8"/>
<line x1="1386.25" x2="1386.25" y1="629.5" y2="685.35" stroke="#4058AC" stroke-opacity="0.44" stroke-width="0.9"/>
<line x1="1399.38" x2="1399.38" y1="629.5" y2="685.35" stroke="#3F60B1" stroke-opacity="0.26" stroke-width="0.8"/>
<line x1="1401.25" x2="1401.25" y1="629.5" y2="685.35" stroke="#3F62B2" stroke-opacity="0.26" stroke-width="0.8"/>
<line x1="1404.38" x2="1404.38" y1="629.5" y2="685.35" stroke="#4063B3" stroke-opacity="0.26" stroke-width="0.8"/>
<line x1="1408.12" x2="1408.12" y1="629.5" y2="685.35" stroke="#4066B4" stroke-opacity="0.44" stroke-width="0.9"/>
<line x1="1409.38" x2="1409.38" y1="629.5" y2="685.35" stroke="#4166B4" stroke-opacity="0.44" stroke-width="0.9"/>
<line x1="1413.75" x2="1413.75" y1="629.5" y2="685.35" stroke="#4269B6" stroke-opacity="0.26" stroke-width="0.8"/>
<line x1="1416.25" x2="1416.25" y1="629.5" y2="685.35" stroke="#426AB6" stroke-opacity="0.26" stroke-width="0.8"/>
<line x1="1418.75" x2="1418.75" y1="629.5" y2="685.35" stroke="#436CB7" stroke-opacity="0.44" stroke-width="0.9"/>
<line x1="1421.25" x2="1421.25" y1="629.5" y2="685.35" stroke="#446DB8" stroke-opacity="0.26" stroke-width="0.8"/>
<line x1="1427.5" x2="1427.5" y1="629.5" y2="685.35" stroke="#4570BA" stroke-opacity="0.26" stroke-width="0.8"/>
<line x1="1430.62" x2="1430.62" y1="629.5" y2="685.35" stroke="#4672BB" stroke-opacity="0.26" stroke-width="0.8"/>
<line x1="1437.5" x2="1437.5" y1="629.5" y2="685.35" stroke="#4777BD" stroke-opacity="0.44" stroke-width="0.9"/>
<line x1="1439.38" x2="1439.38" y1="629.5" y2="685.35" stroke="#4879BE" stroke-opacity="0.26" stroke-width="0.8"/>
<line x1="1441.88" x2="1441.88" y1="629.5" y2="685.35" stroke="#497BBF" stroke-opacity="0.26" stroke-width="0.8"/>
<line x1="1444.38" x2="1444.38" y1="629.5" y2="685.35" stroke="#497CC0" stroke-opacity="0.26" stroke-width="0.8"/>
<line x1="1450.62" x2="1450.62" y1="629.5" y2="685.35" stroke="#4B81C3" stroke-opacity="0.26" stroke-width="0.8"/>
<line x1="1451.88" x2="1451.88" y1="629.5" y2="685.35" stroke="#4B82C4" stroke-opacity="0.26" stroke-width="0.8"/>
<line x1="1456.88" x2="1456.88" y1="629.5" y2="685.35" stroke="#4D86C6" stroke-opacity="0.26" stroke-width="0.8"/>
<line x1="1460.62" x2="1460.62" y1="629.5" y2="685.35" stroke="#4E89C7" stroke-opacity="0.26" stroke-width="0.8"/>
<line x1="1465" x2="1465" y1="629.5" y2="685.35" stroke="#4F8ECA" stroke-opacity="0.26" stroke-width="0.8"/>
<line x1="1469.38" x2="1469.38" y1="629.5" y2="685.35" stroke="#5195CD" stroke-opacity="0.26" stroke-width="0.8"/>
<line x1="1481.25" x2="1481.25" y1="629.5" y2="685.35" stroke="#54A5D4" stroke-opacity="0.26" stroke-width="0.8"/>
<line x1="1484.38" x2="1484.38" y1="629.5" y2="685.35" stroke="#54A9D5" stroke-opacity="0.26" stroke-width="0.8"/>
<line x1="1486.25" x2="1486.25" y1="629.5" y2="685.35" stroke="#53ABD6" stroke-opacity="0.26" stroke-width="0.8"/>
<line x1="1488.12" x2="1488.12" y1="629.5" y2="685.35" stroke="#53ADD7" stroke-opacity="0.26" stroke-width="0.8"/>
<line x1="1491.88" x2="1491.88" y1="629.5" y2="685.35" stroke="#52B2D9" stroke-opacity="0.26" stroke-width="0.8"/>
<line x1="1496.25" x2="1496.25" y1="629.5" y2="685.35" stroke="#54B5D9" stroke-opacity="0.44" stroke-width="0.9"/>
<line x1="1496.88" x2="1496.88" y1="629.5" y2="685.35" stroke="#54B5D9" stroke-opacity="0.26" stroke-width="0.8"/>
<line x1="1503.75" x2="1503.75" y1="629.5" y2="685.35" stroke="#57BAD9" stroke-opacity="0.26" stroke-width="0.8"/>
<line x1="1506.88" x2="1506.88" y1="629.5" y2="685.35" stroke="#58BCD9" stroke-opacity="0.26" stroke-width="0.8"/>
<line x1="1520.62" x2="1520.62" y1="629.5" y2="685.35" stroke="#5EC6D9" stroke-opacity="0.44" stroke-width="0.9"/>
<text x="1354.22" y="650.8" font-size="6.2" fill="#5B4D9C" text-anchor="start" transform="rotate(-90 1354.22 650.8)" fill-opacity="1">1971</text>
<text x="1388.35" y="650.8" font-size="6.2" fill="#4058AC" text-anchor="start" transform="rotate(-90 1388.35 650.8)" fill-opacity="1">2008</text>
<text x="1498.6" y="650.8" font-size="6.2" fill="#54B5D9" text-anchor="start" transform="rotate(-90 1498.6 650.8)" fill-opacity="1">2022</text>
<text x="1522.72" y="650.8" font-size="6.2" fill="#5EC6D9" text-anchor="start" transform="rotate(-90 1522.72 650.8)" fill-opacity="1">2024</text>
<line x1="1472.75" x2="1472.75" y1="632.5" y2="685.35" stroke="#539ACF" stroke-opacity="0.88" stroke-width="1.2"/>
<text x="1474.85" y="629.7" font-size="6.2" fill="#539ACF" text-anchor="start" transform="rotate(-90 1474.85 629.7)" fill-opacity="0.88">2025</text>
<path d="M1352.12 683.88C1353.44 683.56 1357.23 682.88 1360 682C1362.77 681.12 1365.83 679.92 1368.75 678.62C1371.67 677.33 1374.58 675.71 1377.5 674.25C1380.42 672.79 1383.33 671.44 1386.25 669.88C1389.17 668.31 1392.08 666.44 1395 664.88C1397.92 663.31 1401.04 661.65 1403.75 660.5C1406.46 659.35 1408.75 658.58 1411.25 658C1413.75 657.42 1416.04 657.15 1418.75 657C1421.46 656.85 1424.58 656.96 1427.5 657.12C1430.42 657.29 1433.33 657.6 1436.25 658C1439.17 658.4 1442.08 659.04 1445 659.5C1447.92 659.96 1450.83 660.48 1453.75 660.75C1456.67 661.02 1459.58 661.17 1462.5 661.12C1465.42 661.08 1468.54 660.69 1471.25 660.5C1473.96 660.31 1476.46 659.96 1478.75 660C1481.04 660.04 1482.92 660.19 1485 660.75C1487.08 661.31 1488.96 662.06 1491.25 663.38C1493.54 664.69 1496.25 666.81 1498.75 668.62C1501.25 670.44 1503.75 672.65 1506.25 674.25C1508.75 675.85 1511.35 677.17 1513.75 678.25C1516.15 679.33 1519.48 680.33 1520.62 680.75" fill="none" stroke="#222" stroke-width="1.15" stroke-linecap="butt"/>
<circle cx="1440.62" cy="685.7" r="1.75" fill="#fff" stroke="#000" stroke-width="1.35"/>
<text x="1371.88" y="694.65" font-size="6.4" fill="#777" text-anchor="middle">9</text>
<text x="1401.92" y="694.65" font-size="6.4" fill="#777" text-anchor="middle">10</text>
<text x="1431.97" y="694.65" font-size="6.4" fill="#777" text-anchor="middle">11</text>
<text x="1462.03" y="694.65" font-size="6.4" fill="#777" text-anchor="middle">12</text>
<text x="1492.08" y="694.65" font-size="6.4" fill="#777" text-anchor="middle">13</text>
<text x="1522.12" y="694.65" font-size="6.4" fill="#777" text-anchor="middle">14</text>
<text x="1530.6" y="624.7" font-size="8.0" fill="#262626" text-anchor="start">Dec</text>
<line x1="1561.25" x2="1561.25" y1="629.5" y2="685.35" stroke="#C175BE" stroke-opacity="0.13" stroke-width="0.8"/>
<line x1="1569.73" x2="1569.73" y1="629.5" y2="685.35" stroke="#C371B9" stroke-opacity="0.13" stroke-width="0.8"/>
<line x1="1575.33" x2="1575.33" y1="629.5" y2="685.35" stroke="#BB6BB5" stroke-opacity="0.13" stroke-width="0.8"/>
<line x1="1579.82" x2="1579.82" y1="629.5" y2="685.35" stroke="#AD65B1" stroke-opacity="0.13" stroke-width="0.8"/>
<line x1="1583.7" x2="1583.7" y1="629.5" y2="685.35" stroke="#A05FAD" stroke-opacity="0.13" stroke-width="0.8"/>
<line x1="1587.25" x2="1587.25" y1="629.5" y2="685.35" stroke="#955AA9" stroke-opacity="0.13" stroke-width="0.8"/>
<line x1="1590.54" x2="1590.54" y1="629.5" y2="685.35" stroke="#8756A6" stroke-opacity="0.13" stroke-width="0.8"/>
<line x1="1593.7" x2="1593.7" y1="629.5" y2="685.35" stroke="#7753A2" stroke-opacity="0.13" stroke-width="0.8"/>
<line x1="1596.72" x2="1596.72" y1="629.5" y2="685.35" stroke="#67509E" stroke-opacity="0.13" stroke-width="0.8"/>
<line x1="1599.67" x2="1599.67" y1="629.5" y2="685.35" stroke="#5B4D9C" stroke-opacity="0.13" stroke-width="0.8"/>
<line x1="1602.56" x2="1602.56" y1="629.5" y2="685.35" stroke="#554C9B" stroke-opacity="0.13" stroke-width="0.8"/>
<line x1="1605.39" x2="1605.39" y1="629.5" y2="685.35" stroke="#4E4A9B" stroke-opacity="0.13" stroke-width="0.8"/>
<line x1="1608.21" x2="1608.21" y1="629.5" y2="685.35" stroke="#48489A" stroke-opacity="0.13" stroke-width="0.8"/>
<line x1="1611.02" x2="1611.02" y1="629.5" y2="685.35" stroke="#474A9C" stroke-opacity="0.13" stroke-width="0.8"/>
<line x1="1613.88" x2="1613.88" y1="629.5" y2="685.35" stroke="#464B9E" stroke-opacity="0.13" stroke-width="0.8"/>
<line x1="1616.82" x2="1616.82" y1="629.5" y2="685.35" stroke="#454DA1" stroke-opacity="0.13" stroke-width="0.8"/>
<line x1="1619.9" x2="1619.9" y1="629.5" y2="685.35" stroke="#444FA3" stroke-opacity="0.13" stroke-width="0.8"/>
<line x1="1623.19" x2="1623.19" y1="629.5" y2="685.35" stroke="#4351A5" stroke-opacity="0.13" stroke-width="0.8"/>
<line x1="1626.86" x2="1626.86" y1="629.5" y2="685.35" stroke="#4253A7" stroke-opacity="0.13" stroke-width="0.8"/>
<line x1="1631.14" x2="1631.14" y1="629.5" y2="685.35" stroke="#4155A9" stroke-opacity="0.13" stroke-width="0.8"/>
<line x1="1636.52" x2="1636.52" y1="629.5" y2="685.35" stroke="#4058AC" stroke-opacity="0.13" stroke-width="0.8"/>
<line x1="1643.97" x2="1643.97" y1="629.5" y2="685.35" stroke="#405CAE" stroke-opacity="0.13" stroke-width="0.8"/>
<line x1="1654.32" x2="1654.32" y1="629.5" y2="685.35" stroke="#3F62B2" stroke-opacity="0.13" stroke-width="0.8"/>
<line x1="1666.96" x2="1666.96" y1="629.5" y2="685.35" stroke="#4269B6" stroke-opacity="0.13" stroke-width="0.8"/>
<line x1="1528.5" x2="1528.5" y1="629.5" y2="685.35" stroke="#AAA3D2" stroke-opacity="0.44" stroke-width="0.9"/>
<line x1="1536.25" x2="1536.25" y1="629.5" y2="685.35" stroke="#AE97CC" stroke-opacity="0.26" stroke-width="0.8"/>
<line x1="1542.75" x2="1542.75" y1="629.5" y2="685.35" stroke="#B48DC8" stroke-opacity="0.44" stroke-width="0.9"/>
<line x1="1561.88" x2="1561.88" y1="629.5" y2="685.35" stroke="#C175BD" stroke-opacity="0.26" stroke-width="0.8"/>
<line x1="1569.62" x2="1569.62" y1="629.5" y2="685.35" stroke="#C371B9" stroke-opacity="0.44" stroke-width="0.9"/>
<line x1="1576.25" x2="1576.25" y1="629.5" y2="685.35" stroke="#B86AB4" stroke-opacity="0.26" stroke-width="0.8"/>
<line x1="1579.38" x2="1579.38" y1="629.5" y2="685.35" stroke="#AE65B1" stroke-opacity="0.26" stroke-width="0.8"/>
<line x1="1585.62" x2="1585.62" y1="629.5" y2="685.35" stroke="#9A5CAB" stroke-opacity="0.66" stroke-width="1.3"/>
<line x1="1588.75" x2="1588.75" y1="629.5" y2="685.35" stroke="#9058A8" stroke-opacity="0.26" stroke-width="0.8"/>
<line x1="1591.88" x2="1591.88" y1="629.5" y2="685.35" stroke="#8055A4" stroke-opacity="0.26" stroke-width="0.8"/>
<line x1="1596.25" x2="1596.25" y1="629.5" y2="685.35" stroke="#6A509F" stroke-opacity="0.44" stroke-width="0.9"/>
<line x1="1597.5" x2="1597.5" y1="629.5" y2="685.35" stroke="#634F9D" stroke-opacity="0.44" stroke-width="0.9"/>
<line x1="1600.62" x2="1600.62" y1="629.5" y2="685.35" stroke="#594D9C" stroke-opacity="0.26" stroke-width="0.8"/>
<line x1="1603.12" x2="1603.12" y1="629.5" y2="685.35" stroke="#544B9B" stroke-opacity="0.44" stroke-width="0.9"/>
<line x1="1606.88" x2="1606.88" y1="629.5" y2="685.35" stroke="#4B499A" stroke-opacity="0.44" stroke-width="0.9"/>
<line x1="1613.12" x2="1613.12" y1="629.5" y2="685.35" stroke="#464B9E" stroke-opacity="0.26" stroke-width="0.8"/>
<line x1="1615" x2="1615" y1="629.5" y2="685.35" stroke="#454C9F" stroke-opacity="0.26" stroke-width="0.8"/>
<line x1="1619.38" x2="1619.38" y1="629.5" y2="685.35" stroke="#444FA3" stroke-opacity="0.26" stroke-width="0.8"/>
<line x1="1622.5" x2="1622.5" y1="629.5" y2="685.35" stroke="#4351A5" stroke-opacity="0.26" stroke-width="0.8"/>
<line x1="1627.5" x2="1627.5" y1="629.5" y2="685.35" stroke="#4253A7" stroke-opacity="0.26" stroke-width="0.8"/>
<line x1="1630.62" x2="1630.62" y1="629.5" y2="685.35" stroke="#4155A9" stroke-opacity="0.26" stroke-width="0.8"/>
<line x1="1645" x2="1645" y1="629.5" y2="685.35" stroke="#405DAF" stroke-opacity="0.44" stroke-width="0.9"/>
<line x1="1646.25" x2="1646.25" y1="629.5" y2="685.35" stroke="#3F5DAF" stroke-opacity="0.26" stroke-width="0.8"/>
<line x1="1648.12" x2="1648.12" y1="629.5" y2="685.35" stroke="#3F5FB0" stroke-opacity="0.44" stroke-width="0.9"/>
<line x1="1650" x2="1650" y1="629.5" y2="685.35" stroke="#3F60B1" stroke-opacity="0.26" stroke-width="0.8"/>
<line x1="1660.62" x2="1660.62" y1="629.5" y2="685.35" stroke="#4066B4" stroke-opacity="0.44" stroke-width="0.9"/>
<line x1="1665" x2="1665" y1="629.5" y2="685.35" stroke="#4168B5" stroke-opacity="0.26" stroke-width="0.8"/>
<line x1="1673.5" x2="1673.5" y1="629.5" y2="685.35" stroke="#436CB7" stroke-opacity="0.26" stroke-width="0.8"/>
<line x1="1690" x2="1690" y1="629.5" y2="685.35" stroke="#4776BC" stroke-opacity="0.26" stroke-width="0.8"/>
<line x1="1696.88" x2="1696.88" y1="629.5" y2="685.35" stroke="#497BBF" stroke-opacity="0.44" stroke-width="0.9"/>
<text x="1530.6" y="650.8" font-size="6.2" fill="#AAA3D2" text-anchor="start" transform="rotate(-90 1530.6 650.8)" fill-opacity="1">2001</text>
<text x="1544.85" y="650.8" font-size="6.2" fill="#B48DC8" text-anchor="start" transform="rotate(-90 1544.85 650.8)" fill-opacity="1">1973</text>
<text x="1662.72" y="650.8" font-size="6.2" fill="#4066B4" text-anchor="start" transform="rotate(-90 1662.72 650.8)" fill-opacity="1">2019</text>
<text x="1698.97" y="650.8" font-size="6.2" fill="#497BBF" text-anchor="start" transform="rotate(-90 1698.97 650.8)" fill-opacity="1">1989</text>
<path d="M1528.5 681.38C1529.79 681.38 1533.71 681.48 1536.25 681.38C1538.79 681.27 1541.25 681.21 1543.75 680.75C1546.25 680.29 1548.75 679.71 1551.25 678.62C1553.75 677.54 1556.25 676.02 1558.75 674.25C1561.25 672.48 1563.75 670.29 1566.25 668C1568.75 665.71 1571.25 663 1573.75 660.5C1576.25 658 1578.75 655.25 1581.25 653C1583.75 650.75 1586.25 648.6 1588.75 647C1591.25 645.4 1593.75 644.19 1596.25 643.38C1598.75 642.56 1601.46 642.23 1603.75 642.12C1606.04 642.02 1607.92 642.23 1610 642.75C1612.08 643.27 1614.17 644.12 1616.25 645.25C1618.33 646.38 1620.42 647.83 1622.5 649.5C1624.58 651.17 1626.67 653.42 1628.75 655.25C1630.83 657.08 1632.92 659.04 1635 660.5C1637.08 661.96 1639.17 663.1 1641.25 664C1643.33 664.9 1645.42 665.35 1647.5 665.88C1649.58 666.4 1651.67 666.62 1653.75 667.12C1655.83 667.62 1657.71 668.06 1660 668.88C1662.29 669.69 1665 670.79 1667.5 672C1670 673.21 1672.5 674.81 1675 676.12C1677.5 677.44 1680 678.79 1682.5 679.88C1685 680.96 1687.6 681.94 1690 682.62C1692.4 683.31 1695.73 683.77 1696.88 684" fill="none" stroke="#222" stroke-width="1.15" stroke-linecap="butt"/>
<circle cx="1607.88" cy="685.7" r="1.75" fill="#fff" stroke="#000" stroke-width="1.35"/>
<text x="1556.25" y="694.65" font-size="6.4" fill="#777" text-anchor="middle">7</text>
<text x="1588.75" y="694.65" font-size="6.4" fill="#777" text-anchor="middle">8</text>
<text x="1621.25" y="694.65" font-size="6.4" fill="#777" text-anchor="middle">9</text>
<text x="1653.75" y="694.65" font-size="6.4" fill="#777" text-anchor="middle">10</text>
<text x="1686.25" y="694.65" font-size="6.4" fill="#777" text-anchor="middle">11</text>
<text x="1174.6" y="702.6" font-size="6.6" fill="#222" text-anchor="start">Monthly mean temperature</text>
</g>
</svg>
</body></html>
